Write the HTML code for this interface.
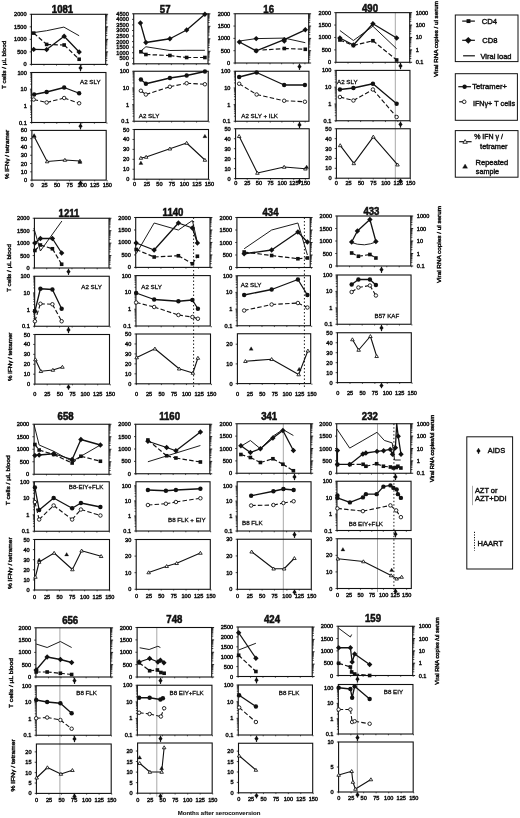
<!DOCTYPE html><html><head><meta charset="utf-8"><style>html,body{margin:0;padding:0;background:#fff;width:520px;height:818px;overflow:hidden}svg{display:block;filter:blur(0.3px)}text{font-family:"Liberation Sans", sans-serif;fill:#111}</style></head><body>
<svg width="520" height="818" viewBox="0 0 520 818">
<rect width="520" height="818" fill="#fff"/>
<text transform="translate(62.5,13) scale(1,1.09)" font-size="9.6" text-anchor="middle" font-weight="bold" stroke="#111" stroke-width="0.5">1081</text>
<rect x="31.41" y="14.3" width="74.3" height="50.1" fill="none" stroke="#111" stroke-width="1.1"/>
<line x1="31.41" y1="64.4" x2="31.41" y2="65.7" stroke="#111" stroke-width="0.7"/>
<line x1="43.96" y1="64.4" x2="43.96" y2="65.7" stroke="#111" stroke-width="0.7"/>
<line x1="56.51" y1="64.4" x2="56.51" y2="65.7" stroke="#111" stroke-width="0.7"/>
<line x1="69.06" y1="64.4" x2="69.06" y2="65.7" stroke="#111" stroke-width="0.7"/>
<line x1="81.61" y1="64.4" x2="81.61" y2="65.7" stroke="#111" stroke-width="0.7"/>
<line x1="94.16" y1="64.4" x2="94.16" y2="65.7" stroke="#111" stroke-width="0.7"/>
<line x1="106.71" y1="64.4" x2="106.71" y2="65.7" stroke="#111" stroke-width="0.7"/>
<rect x="31.65" y="72.5" width="74.3" height="50" fill="none" stroke="#111" stroke-width="1.1"/>
<line x1="31.65" y1="122.5" x2="31.65" y2="123.8" stroke="#111" stroke-width="0.7"/>
<line x1="44.2" y1="122.5" x2="44.2" y2="123.8" stroke="#111" stroke-width="0.7"/>
<line x1="56.75" y1="122.5" x2="56.75" y2="123.8" stroke="#111" stroke-width="0.7"/>
<line x1="69.3" y1="122.5" x2="69.3" y2="123.8" stroke="#111" stroke-width="0.7"/>
<line x1="81.85" y1="122.5" x2="81.85" y2="123.8" stroke="#111" stroke-width="0.7"/>
<line x1="94.4" y1="122.5" x2="94.4" y2="123.8" stroke="#111" stroke-width="0.7"/>
<line x1="106.95" y1="122.5" x2="106.95" y2="123.8" stroke="#111" stroke-width="0.7"/>
<rect x="31.9" y="130.4" width="74.3" height="49.7" fill="none" stroke="#111" stroke-width="1.1"/>
<line x1="31.9" y1="180.1" x2="31.9" y2="181.4" stroke="#111" stroke-width="0.7"/>
<line x1="44.45" y1="180.1" x2="44.45" y2="181.4" stroke="#111" stroke-width="0.7"/>
<line x1="57" y1="180.1" x2="57" y2="181.4" stroke="#111" stroke-width="0.7"/>
<line x1="69.55" y1="180.1" x2="69.55" y2="181.4" stroke="#111" stroke-width="0.7"/>
<line x1="82.1" y1="180.1" x2="82.1" y2="181.4" stroke="#111" stroke-width="0.7"/>
<line x1="94.65" y1="180.1" x2="94.65" y2="181.4" stroke="#111" stroke-width="0.7"/>
<line x1="107.2" y1="180.1" x2="107.2" y2="181.4" stroke="#111" stroke-width="0.7"/>
<text x="26.51" y="16.32" font-size="5.6" text-anchor="end" font-weight="normal" stroke="#111" stroke-width="0.42">2000</text>
<text x="26.51" y="28.84" font-size="5.6" text-anchor="end" font-weight="normal" stroke="#111" stroke-width="0.42">1500</text>
<text x="26.51" y="41.37" font-size="5.6" text-anchor="end" font-weight="normal" stroke="#111" stroke-width="0.42">1000</text>
<text x="26.51" y="53.89" font-size="5.6" text-anchor="end" font-weight="normal" stroke="#111" stroke-width="0.42">500</text>
<text x="26.51" y="66.42" font-size="5.6" text-anchor="end" font-weight="normal" stroke="#111" stroke-width="0.42">0</text>
<line x1="29.71" y1="14.3" x2="31.41" y2="14.3" stroke="#111" stroke-width="0.8"/>
<line x1="29.71" y1="26.83" x2="31.41" y2="26.83" stroke="#111" stroke-width="0.8"/>
<line x1="29.71" y1="39.35" x2="31.41" y2="39.35" stroke="#111" stroke-width="0.8"/>
<line x1="29.71" y1="51.88" x2="31.41" y2="51.88" stroke="#111" stroke-width="0.8"/>
<line x1="29.71" y1="64.4" x2="31.41" y2="64.4" stroke="#111" stroke-width="0.8"/>
<line x1="105.71" y1="14.3" x2="108.11" y2="14.3" stroke="#111" stroke-width="0.9"/>
<line x1="105.71" y1="23.05" x2="107.31" y2="23.05" stroke="#111" stroke-width="0.8"/>
<line x1="105.71" y1="20.85" x2="107.31" y2="20.85" stroke="#111" stroke-width="0.8"/>
<line x1="105.71" y1="19.28" x2="107.31" y2="19.28" stroke="#111" stroke-width="0.8"/>
<line x1="105.71" y1="18.07" x2="107.31" y2="18.07" stroke="#111" stroke-width="0.8"/>
<line x1="105.71" y1="17.08" x2="107.31" y2="17.08" stroke="#111" stroke-width="0.8"/>
<line x1="105.71" y1="16.24" x2="107.31" y2="16.24" stroke="#111" stroke-width="0.8"/>
<line x1="105.71" y1="15.51" x2="107.31" y2="15.51" stroke="#111" stroke-width="0.8"/>
<line x1="105.71" y1="14.87" x2="107.31" y2="14.87" stroke="#111" stroke-width="0.8"/>
<line x1="105.71" y1="26.83" x2="108.11" y2="26.83" stroke="#111" stroke-width="0.9"/>
<line x1="105.71" y1="35.58" x2="107.31" y2="35.58" stroke="#111" stroke-width="0.8"/>
<line x1="105.71" y1="33.37" x2="107.31" y2="33.37" stroke="#111" stroke-width="0.8"/>
<line x1="105.71" y1="31.81" x2="107.31" y2="31.81" stroke="#111" stroke-width="0.8"/>
<line x1="105.71" y1="30.6" x2="107.31" y2="30.6" stroke="#111" stroke-width="0.8"/>
<line x1="105.71" y1="29.6" x2="107.31" y2="29.6" stroke="#111" stroke-width="0.8"/>
<line x1="105.71" y1="28.77" x2="107.31" y2="28.77" stroke="#111" stroke-width="0.8"/>
<line x1="105.71" y1="28.04" x2="107.31" y2="28.04" stroke="#111" stroke-width="0.8"/>
<line x1="105.71" y1="27.4" x2="107.31" y2="27.4" stroke="#111" stroke-width="0.8"/>
<line x1="105.71" y1="39.35" x2="108.11" y2="39.35" stroke="#111" stroke-width="0.9"/>
<line x1="105.71" y1="48.1" x2="107.31" y2="48.1" stroke="#111" stroke-width="0.8"/>
<line x1="105.71" y1="45.9" x2="107.31" y2="45.9" stroke="#111" stroke-width="0.8"/>
<line x1="105.71" y1="44.33" x2="107.31" y2="44.33" stroke="#111" stroke-width="0.8"/>
<line x1="105.71" y1="43.12" x2="107.31" y2="43.12" stroke="#111" stroke-width="0.8"/>
<line x1="105.71" y1="42.13" x2="107.31" y2="42.13" stroke="#111" stroke-width="0.8"/>
<line x1="105.71" y1="41.29" x2="107.31" y2="41.29" stroke="#111" stroke-width="0.8"/>
<line x1="105.71" y1="40.56" x2="107.31" y2="40.56" stroke="#111" stroke-width="0.8"/>
<line x1="105.71" y1="39.92" x2="107.31" y2="39.92" stroke="#111" stroke-width="0.8"/>
<line x1="105.71" y1="51.88" x2="108.11" y2="51.88" stroke="#111" stroke-width="0.9"/>
<line x1="105.71" y1="60.63" x2="107.31" y2="60.63" stroke="#111" stroke-width="0.8"/>
<line x1="105.71" y1="58.42" x2="107.31" y2="58.42" stroke="#111" stroke-width="0.8"/>
<line x1="105.71" y1="56.86" x2="107.31" y2="56.86" stroke="#111" stroke-width="0.8"/>
<line x1="105.71" y1="55.65" x2="107.31" y2="55.65" stroke="#111" stroke-width="0.8"/>
<line x1="105.71" y1="54.65" x2="107.31" y2="54.65" stroke="#111" stroke-width="0.8"/>
<line x1="105.71" y1="53.82" x2="107.31" y2="53.82" stroke="#111" stroke-width="0.8"/>
<line x1="105.71" y1="53.09" x2="107.31" y2="53.09" stroke="#111" stroke-width="0.8"/>
<line x1="105.71" y1="52.45" x2="107.31" y2="52.45" stroke="#111" stroke-width="0.8"/>
<line x1="105.71" y1="64.4" x2="108.11" y2="64.4" stroke="#111" stroke-width="0.9"/>
<text x="26.75" y="74.52" font-size="5.6" text-anchor="end" font-weight="normal" stroke="#111" stroke-width="0.42">100</text>
<text x="26.75" y="91.18" font-size="5.6" text-anchor="end" font-weight="normal" stroke="#111" stroke-width="0.42">10</text>
<text x="26.75" y="107.85" font-size="5.6" text-anchor="end" font-weight="normal" stroke="#111" stroke-width="0.42">1</text>
<text x="26.75" y="124.52" font-size="5.6" text-anchor="end" font-weight="normal" stroke="#111" stroke-width="0.42">0.1</text>
<line x1="29.95" y1="72.5" x2="31.65" y2="72.5" stroke="#111" stroke-width="0.8"/>
<line x1="29.95" y1="89.17" x2="31.65" y2="89.17" stroke="#111" stroke-width="0.8"/>
<line x1="29.95" y1="105.83" x2="31.65" y2="105.83" stroke="#111" stroke-width="0.8"/>
<line x1="29.95" y1="122.5" x2="31.65" y2="122.5" stroke="#111" stroke-width="0.8"/>
<line x1="30.25" y1="84.15" x2="31.65" y2="84.15" stroke="#111" stroke-width="0.7"/>
<line x1="30.25" y1="81.21" x2="31.65" y2="81.21" stroke="#111" stroke-width="0.7"/>
<line x1="30.25" y1="79.13" x2="31.65" y2="79.13" stroke="#111" stroke-width="0.7"/>
<line x1="30.25" y1="77.52" x2="31.65" y2="77.52" stroke="#111" stroke-width="0.7"/>
<line x1="30.25" y1="76.2" x2="31.65" y2="76.2" stroke="#111" stroke-width="0.7"/>
<line x1="30.25" y1="75.08" x2="31.65" y2="75.08" stroke="#111" stroke-width="0.7"/>
<line x1="30.25" y1="74.12" x2="31.65" y2="74.12" stroke="#111" stroke-width="0.7"/>
<line x1="30.25" y1="73.26" x2="31.65" y2="73.26" stroke="#111" stroke-width="0.7"/>
<line x1="30.25" y1="100.82" x2="31.65" y2="100.82" stroke="#111" stroke-width="0.7"/>
<line x1="30.25" y1="97.88" x2="31.65" y2="97.88" stroke="#111" stroke-width="0.7"/>
<line x1="30.25" y1="95.8" x2="31.65" y2="95.8" stroke="#111" stroke-width="0.7"/>
<line x1="30.25" y1="94.18" x2="31.65" y2="94.18" stroke="#111" stroke-width="0.7"/>
<line x1="30.25" y1="92.86" x2="31.65" y2="92.86" stroke="#111" stroke-width="0.7"/>
<line x1="30.25" y1="91.75" x2="31.65" y2="91.75" stroke="#111" stroke-width="0.7"/>
<line x1="30.25" y1="90.78" x2="31.65" y2="90.78" stroke="#111" stroke-width="0.7"/>
<line x1="30.25" y1="89.93" x2="31.65" y2="89.93" stroke="#111" stroke-width="0.7"/>
<line x1="30.25" y1="117.48" x2="31.65" y2="117.48" stroke="#111" stroke-width="0.7"/>
<line x1="30.25" y1="114.55" x2="31.65" y2="114.55" stroke="#111" stroke-width="0.7"/>
<line x1="30.25" y1="112.47" x2="31.65" y2="112.47" stroke="#111" stroke-width="0.7"/>
<line x1="30.25" y1="110.85" x2="31.65" y2="110.85" stroke="#111" stroke-width="0.7"/>
<line x1="30.25" y1="109.53" x2="31.65" y2="109.53" stroke="#111" stroke-width="0.7"/>
<line x1="30.25" y1="108.42" x2="31.65" y2="108.42" stroke="#111" stroke-width="0.7"/>
<line x1="30.25" y1="107.45" x2="31.65" y2="107.45" stroke="#111" stroke-width="0.7"/>
<line x1="30.25" y1="106.6" x2="31.65" y2="106.6" stroke="#111" stroke-width="0.7"/>
<text x="27" y="132.42" font-size="5.6" text-anchor="end" font-weight="normal" stroke="#111" stroke-width="0.42">60</text>
<text x="27" y="140.7" font-size="5.6" text-anchor="end" font-weight="normal" stroke="#111" stroke-width="0.42">50</text>
<text x="27" y="148.98" font-size="5.6" text-anchor="end" font-weight="normal" stroke="#111" stroke-width="0.42">40</text>
<text x="27" y="157.27" font-size="5.6" text-anchor="end" font-weight="normal" stroke="#111" stroke-width="0.42">30</text>
<text x="27" y="165.55" font-size="5.6" text-anchor="end" font-weight="normal" stroke="#111" stroke-width="0.42">20</text>
<text x="27" y="173.83" font-size="5.6" text-anchor="end" font-weight="normal" stroke="#111" stroke-width="0.42">10</text>
<text x="27" y="182.12" font-size="5.6" text-anchor="end" font-weight="normal" stroke="#111" stroke-width="0.42">0</text>
<line x1="30.2" y1="130.4" x2="31.9" y2="130.4" stroke="#111" stroke-width="0.8"/>
<line x1="30.2" y1="138.68" x2="31.9" y2="138.68" stroke="#111" stroke-width="0.8"/>
<line x1="30.2" y1="146.97" x2="31.9" y2="146.97" stroke="#111" stroke-width="0.8"/>
<line x1="30.2" y1="155.25" x2="31.9" y2="155.25" stroke="#111" stroke-width="0.8"/>
<line x1="30.2" y1="163.53" x2="31.9" y2="163.53" stroke="#111" stroke-width="0.8"/>
<line x1="30.2" y1="171.82" x2="31.9" y2="171.82" stroke="#111" stroke-width="0.8"/>
<line x1="30.2" y1="180.1" x2="31.9" y2="180.1" stroke="#111" stroke-width="0.8"/>
<text x="32" y="187.02" font-size="5.6" text-anchor="middle" font-weight="normal" stroke="#111" stroke-width="0.42">0</text>
<text x="44.55" y="187.02" font-size="5.6" text-anchor="middle" font-weight="normal" stroke="#111" stroke-width="0.42">25</text>
<text x="57.1" y="187.02" font-size="5.6" text-anchor="middle" font-weight="normal" stroke="#111" stroke-width="0.42">50</text>
<text x="69.65" y="187.02" font-size="5.6" text-anchor="middle" font-weight="normal" stroke="#111" stroke-width="0.42">75</text>
<text x="82.2" y="187.02" font-size="5.6" text-anchor="middle" font-weight="normal" stroke="#111" stroke-width="0.42">100</text>
<text x="94.75" y="187.02" font-size="5.6" text-anchor="middle" font-weight="normal" stroke="#111" stroke-width="0.42">125</text>
<text x="107.3" y="187.02" font-size="5.6" text-anchor="middle" font-weight="normal" stroke="#111" stroke-width="0.42">150</text>
<polyline points="33.7,32.6 46.65,30.7 63.9,27.1 79.15,35.75" fill="none" stroke="#111" stroke-width="0.95" stroke-linejoin="round"/>
<path d="M33.7 33.1L46.65 44.4M46.65 44.4L64.15 45M64.15 45L79.15 59.25" fill="none" stroke="#111" stroke-width="1.2" stroke-dasharray="4.5,2.2"/>
<polyline points="33.7,49.4 46.65,49.6 64.15,36.25 79.15,52" fill="none" stroke="#111" stroke-width="1.3" stroke-linejoin="round"/>
<rect x="31.9" y="31.3" width="3.6" height="3.6" fill="#111"/>
<rect x="44.85" y="42.6" width="3.6" height="3.6" fill="#111"/>
<rect x="62.35" y="43.2" width="3.6" height="3.6" fill="#111"/>
<rect x="77.35" y="57.45" width="3.6" height="3.6" fill="#111"/>
<polygon points="33.7,46.7 36.4,49.4 33.7,52.1 31,49.4" fill="#111"/>
<polygon points="46.65,46.9 49.35,49.6 46.65,52.3 43.95,49.6" fill="#111"/>
<polygon points="64.15,33.55 66.85,36.25 64.15,38.95 61.45,36.25" fill="#111"/>
<polygon points="79.15,49.3 81.85,52 79.15,54.7 76.45,52" fill="#111"/>
<polyline points="34.15,94.5 46.65,92 64.15,87.5 79.15,93.25" fill="none" stroke="#111" stroke-width="1.3" stroke-linejoin="round"/>
<path d="M33.65 99.5L46.65 102.5M46.65 102.5L64.15 98M64.15 98L79.15 103.25" fill="none" stroke="#111" stroke-width="1.1" stroke-dasharray="4.5,2.2"/>
<circle cx="34.15" cy="94.5" r="2.2" fill="#111"/>
<circle cx="46.65" cy="92" r="2.2" fill="#111"/>
<circle cx="64.15" cy="87.5" r="2.2" fill="#111"/>
<circle cx="79.15" cy="93.25" r="2.2" fill="#111"/>
<circle cx="33.65" cy="99.5" r="1.75" fill="#fff" stroke="#111" stroke-width="0.9"/>
<circle cx="46.65" cy="102.5" r="1.75" fill="#fff" stroke="#111" stroke-width="0.9"/>
<circle cx="64.15" cy="98" r="1.75" fill="#fff" stroke="#111" stroke-width="0.9"/>
<circle cx="79.15" cy="103.25" r="1.75" fill="#fff" stroke="#111" stroke-width="0.9"/>
<polyline points="34.15,136.5 47.15,161.5 64.9,160 79.9,161" fill="none" stroke="#111" stroke-width="1.1" stroke-linejoin="round"/>
<polygon points="34.15,134.8 35.93,137.78 32.37,137.78" fill="#fff" stroke="#111" stroke-width="0.85" stroke-linejoin="miter"/>
<polygon points="47.15,159.8 48.93,162.78 45.37,162.78" fill="#fff" stroke="#111" stroke-width="0.85" stroke-linejoin="miter"/>
<polygon points="64.9,158.3 66.69,161.28 63.12,161.28" fill="#fff" stroke="#111" stroke-width="0.85" stroke-linejoin="miter"/>
<polygon points="79.9,159.3 81.69,162.28 78.12,162.28" fill="#fff" stroke="#111" stroke-width="0.85" stroke-linejoin="miter"/>
<polygon points="34.15,133.6 36.14,136.93 32.16,136.93" fill="#111" stroke="#111" stroke-width="0.3" stroke-linejoin="miter"/>
<polygon points="79.9,160.1 81.9,163.43 77.91,163.43" fill="#111" stroke="#111" stroke-width="0.3" stroke-linejoin="miter"/>
<line x1="80.5" y1="65.1" x2="80.5" y2="71.3" stroke="#111" stroke-width="1.2"/>
<polygon points="80.5,65.39 82.6,68.09 80.5,70.29 78.4,68.09" fill="#111"/>
<line x1="80.5" y1="123.2" x2="80.5" y2="129.4" stroke="#111" stroke-width="1.2"/>
<polygon points="80.5,123.49 82.6,126.19 80.5,128.39 78.4,126.19" fill="#111"/>
<line x1="80.5" y1="180.7" x2="80.5" y2="185.7" stroke="#111" stroke-width="1.2"/>
<polygon points="80.5,180.45 82.6,183.15 80.5,185.35 78.4,183.15" fill="#111"/>
<text x="80" y="83.6" font-size="6.2" text-anchor="start" font-weight="normal" stroke="#111" stroke-width="0.3">A2 SLY</text>
<text transform="translate(165.2,13) scale(1,1.09)" font-size="9.6" text-anchor="middle" font-weight="bold" stroke="#111" stroke-width="0.5">57</text>
<rect x="133.71" y="13.8" width="74.3" height="50" fill="none" stroke="#111" stroke-width="1.1"/>
<line x1="133.91" y1="63.8" x2="133.91" y2="65.1" stroke="#111" stroke-width="0.7"/>
<line x1="146.39" y1="63.8" x2="146.39" y2="65.1" stroke="#111" stroke-width="0.7"/>
<line x1="158.88" y1="63.8" x2="158.88" y2="65.1" stroke="#111" stroke-width="0.7"/>
<line x1="171.36" y1="63.8" x2="171.36" y2="65.1" stroke="#111" stroke-width="0.7"/>
<line x1="183.84" y1="63.8" x2="183.84" y2="65.1" stroke="#111" stroke-width="0.7"/>
<line x1="196.33" y1="63.8" x2="196.33" y2="65.1" stroke="#111" stroke-width="0.7"/>
<line x1="208.81" y1="63.8" x2="208.81" y2="65.1" stroke="#111" stroke-width="0.7"/>
<rect x="133.95" y="71.25" width="74.3" height="50" fill="none" stroke="#111" stroke-width="1.1"/>
<line x1="134.15" y1="121.25" x2="134.15" y2="122.55" stroke="#111" stroke-width="0.7"/>
<line x1="146.63" y1="121.25" x2="146.63" y2="122.55" stroke="#111" stroke-width="0.7"/>
<line x1="159.12" y1="121.25" x2="159.12" y2="122.55" stroke="#111" stroke-width="0.7"/>
<line x1="171.6" y1="121.25" x2="171.6" y2="122.55" stroke="#111" stroke-width="0.7"/>
<line x1="184.08" y1="121.25" x2="184.08" y2="122.55" stroke="#111" stroke-width="0.7"/>
<line x1="196.57" y1="121.25" x2="196.57" y2="122.55" stroke="#111" stroke-width="0.7"/>
<line x1="209.05" y1="121.25" x2="209.05" y2="122.55" stroke="#111" stroke-width="0.7"/>
<rect x="134.2" y="129.5" width="74.3" height="49.7" fill="none" stroke="#111" stroke-width="1.1"/>
<line x1="134.4" y1="179.2" x2="134.4" y2="180.5" stroke="#111" stroke-width="0.7"/>
<line x1="146.88" y1="179.2" x2="146.88" y2="180.5" stroke="#111" stroke-width="0.7"/>
<line x1="159.36" y1="179.2" x2="159.36" y2="180.5" stroke="#111" stroke-width="0.7"/>
<line x1="171.85" y1="179.2" x2="171.85" y2="180.5" stroke="#111" stroke-width="0.7"/>
<line x1="184.33" y1="179.2" x2="184.33" y2="180.5" stroke="#111" stroke-width="0.7"/>
<line x1="196.81" y1="179.2" x2="196.81" y2="180.5" stroke="#111" stroke-width="0.7"/>
<line x1="209.3" y1="179.2" x2="209.3" y2="180.5" stroke="#111" stroke-width="0.7"/>
<text x="128.81" y="15.82" font-size="5.6" text-anchor="end" font-weight="normal" stroke="#111" stroke-width="0.42">4500</text>
<text x="128.81" y="21.37" font-size="5.6" text-anchor="end" font-weight="normal" stroke="#111" stroke-width="0.42">4000</text>
<text x="128.81" y="26.93" font-size="5.6" text-anchor="end" font-weight="normal" stroke="#111" stroke-width="0.42">3500</text>
<text x="128.81" y="32.48" font-size="5.6" text-anchor="end" font-weight="normal" stroke="#111" stroke-width="0.42">3000</text>
<text x="128.81" y="38.04" font-size="5.6" text-anchor="end" font-weight="normal" stroke="#111" stroke-width="0.42">2500</text>
<text x="128.81" y="43.59" font-size="5.6" text-anchor="end" font-weight="normal" stroke="#111" stroke-width="0.42">2000</text>
<text x="128.81" y="49.15" font-size="5.6" text-anchor="end" font-weight="normal" stroke="#111" stroke-width="0.42">1500</text>
<text x="128.81" y="54.7" font-size="5.6" text-anchor="end" font-weight="normal" stroke="#111" stroke-width="0.42">1000</text>
<text x="128.81" y="60.26" font-size="5.6" text-anchor="end" font-weight="normal" stroke="#111" stroke-width="0.42">500</text>
<text x="128.81" y="65.82" font-size="5.6" text-anchor="end" font-weight="normal" stroke="#111" stroke-width="0.42">0</text>
<line x1="132.01" y1="13.8" x2="133.71" y2="13.8" stroke="#111" stroke-width="0.8"/>
<line x1="132.01" y1="19.36" x2="133.71" y2="19.36" stroke="#111" stroke-width="0.8"/>
<line x1="132.01" y1="24.91" x2="133.71" y2="24.91" stroke="#111" stroke-width="0.8"/>
<line x1="132.01" y1="30.47" x2="133.71" y2="30.47" stroke="#111" stroke-width="0.8"/>
<line x1="132.01" y1="36.02" x2="133.71" y2="36.02" stroke="#111" stroke-width="0.8"/>
<line x1="132.01" y1="41.58" x2="133.71" y2="41.58" stroke="#111" stroke-width="0.8"/>
<line x1="132.01" y1="47.13" x2="133.71" y2="47.13" stroke="#111" stroke-width="0.8"/>
<line x1="132.01" y1="52.69" x2="133.71" y2="52.69" stroke="#111" stroke-width="0.8"/>
<line x1="132.01" y1="58.24" x2="133.71" y2="58.24" stroke="#111" stroke-width="0.8"/>
<line x1="132.01" y1="63.8" x2="133.71" y2="63.8" stroke="#111" stroke-width="0.8"/>
<line x1="208.01" y1="13.8" x2="210.41" y2="13.8" stroke="#111" stroke-width="0.9"/>
<line x1="208.01" y1="22.54" x2="209.61" y2="22.54" stroke="#111" stroke-width="0.8"/>
<line x1="208.01" y1="20.34" x2="209.61" y2="20.34" stroke="#111" stroke-width="0.8"/>
<line x1="208.01" y1="18.77" x2="209.61" y2="18.77" stroke="#111" stroke-width="0.8"/>
<line x1="208.01" y1="17.56" x2="209.61" y2="17.56" stroke="#111" stroke-width="0.8"/>
<line x1="208.01" y1="16.57" x2="209.61" y2="16.57" stroke="#111" stroke-width="0.8"/>
<line x1="208.01" y1="15.74" x2="209.61" y2="15.74" stroke="#111" stroke-width="0.8"/>
<line x1="208.01" y1="15.01" x2="209.61" y2="15.01" stroke="#111" stroke-width="0.8"/>
<line x1="208.01" y1="14.37" x2="209.61" y2="14.37" stroke="#111" stroke-width="0.8"/>
<line x1="208.01" y1="26.3" x2="210.41" y2="26.3" stroke="#111" stroke-width="0.9"/>
<line x1="208.01" y1="35.04" x2="209.61" y2="35.04" stroke="#111" stroke-width="0.8"/>
<line x1="208.01" y1="32.84" x2="209.61" y2="32.84" stroke="#111" stroke-width="0.8"/>
<line x1="208.01" y1="31.27" x2="209.61" y2="31.27" stroke="#111" stroke-width="0.8"/>
<line x1="208.01" y1="30.06" x2="209.61" y2="30.06" stroke="#111" stroke-width="0.8"/>
<line x1="208.01" y1="29.07" x2="209.61" y2="29.07" stroke="#111" stroke-width="0.8"/>
<line x1="208.01" y1="28.24" x2="209.61" y2="28.24" stroke="#111" stroke-width="0.8"/>
<line x1="208.01" y1="27.51" x2="209.61" y2="27.51" stroke="#111" stroke-width="0.8"/>
<line x1="208.01" y1="26.87" x2="209.61" y2="26.87" stroke="#111" stroke-width="0.8"/>
<line x1="208.01" y1="38.8" x2="210.41" y2="38.8" stroke="#111" stroke-width="0.9"/>
<line x1="208.01" y1="47.54" x2="209.61" y2="47.54" stroke="#111" stroke-width="0.8"/>
<line x1="208.01" y1="45.34" x2="209.61" y2="45.34" stroke="#111" stroke-width="0.8"/>
<line x1="208.01" y1="43.77" x2="209.61" y2="43.77" stroke="#111" stroke-width="0.8"/>
<line x1="208.01" y1="42.56" x2="209.61" y2="42.56" stroke="#111" stroke-width="0.8"/>
<line x1="208.01" y1="41.57" x2="209.61" y2="41.57" stroke="#111" stroke-width="0.8"/>
<line x1="208.01" y1="40.74" x2="209.61" y2="40.74" stroke="#111" stroke-width="0.8"/>
<line x1="208.01" y1="40.01" x2="209.61" y2="40.01" stroke="#111" stroke-width="0.8"/>
<line x1="208.01" y1="39.37" x2="209.61" y2="39.37" stroke="#111" stroke-width="0.8"/>
<line x1="208.01" y1="51.3" x2="210.41" y2="51.3" stroke="#111" stroke-width="0.9"/>
<line x1="208.01" y1="60.04" x2="209.61" y2="60.04" stroke="#111" stroke-width="0.8"/>
<line x1="208.01" y1="57.84" x2="209.61" y2="57.84" stroke="#111" stroke-width="0.8"/>
<line x1="208.01" y1="56.27" x2="209.61" y2="56.27" stroke="#111" stroke-width="0.8"/>
<line x1="208.01" y1="55.06" x2="209.61" y2="55.06" stroke="#111" stroke-width="0.8"/>
<line x1="208.01" y1="54.07" x2="209.61" y2="54.07" stroke="#111" stroke-width="0.8"/>
<line x1="208.01" y1="53.24" x2="209.61" y2="53.24" stroke="#111" stroke-width="0.8"/>
<line x1="208.01" y1="52.51" x2="209.61" y2="52.51" stroke="#111" stroke-width="0.8"/>
<line x1="208.01" y1="51.87" x2="209.61" y2="51.87" stroke="#111" stroke-width="0.8"/>
<line x1="208.01" y1="63.8" x2="210.41" y2="63.8" stroke="#111" stroke-width="0.9"/>
<text x="129.05" y="73.27" font-size="5.6" text-anchor="end" font-weight="normal" stroke="#111" stroke-width="0.42">100</text>
<text x="129.05" y="89.93" font-size="5.6" text-anchor="end" font-weight="normal" stroke="#111" stroke-width="0.42">10</text>
<text x="129.05" y="106.6" font-size="5.6" text-anchor="end" font-weight="normal" stroke="#111" stroke-width="0.42">1</text>
<text x="129.05" y="123.27" font-size="5.6" text-anchor="end" font-weight="normal" stroke="#111" stroke-width="0.42">0.1</text>
<line x1="132.25" y1="71.25" x2="133.95" y2="71.25" stroke="#111" stroke-width="0.8"/>
<line x1="132.25" y1="87.92" x2="133.95" y2="87.92" stroke="#111" stroke-width="0.8"/>
<line x1="132.25" y1="104.58" x2="133.95" y2="104.58" stroke="#111" stroke-width="0.8"/>
<line x1="132.25" y1="121.25" x2="133.95" y2="121.25" stroke="#111" stroke-width="0.8"/>
<line x1="132.55" y1="82.9" x2="133.95" y2="82.9" stroke="#111" stroke-width="0.7"/>
<line x1="132.55" y1="79.96" x2="133.95" y2="79.96" stroke="#111" stroke-width="0.7"/>
<line x1="132.55" y1="77.88" x2="133.95" y2="77.88" stroke="#111" stroke-width="0.7"/>
<line x1="132.55" y1="76.27" x2="133.95" y2="76.27" stroke="#111" stroke-width="0.7"/>
<line x1="132.55" y1="74.95" x2="133.95" y2="74.95" stroke="#111" stroke-width="0.7"/>
<line x1="132.55" y1="73.83" x2="133.95" y2="73.83" stroke="#111" stroke-width="0.7"/>
<line x1="132.55" y1="72.87" x2="133.95" y2="72.87" stroke="#111" stroke-width="0.7"/>
<line x1="132.55" y1="72.01" x2="133.95" y2="72.01" stroke="#111" stroke-width="0.7"/>
<line x1="132.55" y1="99.57" x2="133.95" y2="99.57" stroke="#111" stroke-width="0.7"/>
<line x1="132.55" y1="96.63" x2="133.95" y2="96.63" stroke="#111" stroke-width="0.7"/>
<line x1="132.55" y1="94.55" x2="133.95" y2="94.55" stroke="#111" stroke-width="0.7"/>
<line x1="132.55" y1="92.93" x2="133.95" y2="92.93" stroke="#111" stroke-width="0.7"/>
<line x1="132.55" y1="91.61" x2="133.95" y2="91.61" stroke="#111" stroke-width="0.7"/>
<line x1="132.55" y1="90.5" x2="133.95" y2="90.5" stroke="#111" stroke-width="0.7"/>
<line x1="132.55" y1="89.53" x2="133.95" y2="89.53" stroke="#111" stroke-width="0.7"/>
<line x1="132.55" y1="88.68" x2="133.95" y2="88.68" stroke="#111" stroke-width="0.7"/>
<line x1="132.55" y1="116.23" x2="133.95" y2="116.23" stroke="#111" stroke-width="0.7"/>
<line x1="132.55" y1="113.3" x2="133.95" y2="113.3" stroke="#111" stroke-width="0.7"/>
<line x1="132.55" y1="111.22" x2="133.95" y2="111.22" stroke="#111" stroke-width="0.7"/>
<line x1="132.55" y1="109.6" x2="133.95" y2="109.6" stroke="#111" stroke-width="0.7"/>
<line x1="132.55" y1="108.28" x2="133.95" y2="108.28" stroke="#111" stroke-width="0.7"/>
<line x1="132.55" y1="107.17" x2="133.95" y2="107.17" stroke="#111" stroke-width="0.7"/>
<line x1="132.55" y1="106.2" x2="133.95" y2="106.2" stroke="#111" stroke-width="0.7"/>
<line x1="132.55" y1="105.35" x2="133.95" y2="105.35" stroke="#111" stroke-width="0.7"/>
<text x="129.3" y="131.52" font-size="5.6" text-anchor="end" font-weight="normal" stroke="#111" stroke-width="0.42">50</text>
<text x="129.3" y="141.46" font-size="5.6" text-anchor="end" font-weight="normal" stroke="#111" stroke-width="0.42">40</text>
<text x="129.3" y="151.4" font-size="5.6" text-anchor="end" font-weight="normal" stroke="#111" stroke-width="0.42">30</text>
<text x="129.3" y="161.34" font-size="5.6" text-anchor="end" font-weight="normal" stroke="#111" stroke-width="0.42">20</text>
<text x="129.3" y="171.28" font-size="5.6" text-anchor="end" font-weight="normal" stroke="#111" stroke-width="0.42">10</text>
<text x="129.3" y="181.22" font-size="5.6" text-anchor="end" font-weight="normal" stroke="#111" stroke-width="0.42">0</text>
<line x1="132.5" y1="129.5" x2="134.2" y2="129.5" stroke="#111" stroke-width="0.8"/>
<line x1="132.5" y1="139.44" x2="134.2" y2="139.44" stroke="#111" stroke-width="0.8"/>
<line x1="132.5" y1="149.38" x2="134.2" y2="149.38" stroke="#111" stroke-width="0.8"/>
<line x1="132.5" y1="159.32" x2="134.2" y2="159.32" stroke="#111" stroke-width="0.8"/>
<line x1="132.5" y1="169.26" x2="134.2" y2="169.26" stroke="#111" stroke-width="0.8"/>
<line x1="132.5" y1="179.2" x2="134.2" y2="179.2" stroke="#111" stroke-width="0.8"/>
<text x="134.5" y="186.02" font-size="5.6" text-anchor="middle" font-weight="normal" stroke="#111" stroke-width="0.42">0</text>
<text x="146.98" y="186.02" font-size="5.6" text-anchor="middle" font-weight="normal" stroke="#111" stroke-width="0.42">25</text>
<text x="159.47" y="186.02" font-size="5.6" text-anchor="middle" font-weight="normal" stroke="#111" stroke-width="0.42">50</text>
<text x="171.95" y="186.02" font-size="5.6" text-anchor="middle" font-weight="normal" stroke="#111" stroke-width="0.42">75</text>
<text x="184.43" y="186.02" font-size="5.6" text-anchor="middle" font-weight="normal" stroke="#111" stroke-width="0.42">100</text>
<text x="196.92" y="186.02" font-size="5.6" text-anchor="middle" font-weight="normal" stroke="#111" stroke-width="0.42">125</text>
<text x="209.4" y="186.02" font-size="5.6" text-anchor="middle" font-weight="normal" stroke="#111" stroke-width="0.42">150</text>
<polyline points="140.9,51 145.9,46.75 169.9,50.5 186.65,50.3 204.9,50.3" fill="none" stroke="#111" stroke-width="0.95" stroke-linejoin="round"/>
<path d="M140.9 51.75L145.9 54.5M145.9 54.5L169.9 55.5M169.9 55.5L186.65 57.5M186.65 57.5L204.9 57.5" fill="none" stroke="#111" stroke-width="1.2" stroke-dasharray="4.5,2.2"/>
<polyline points="140.4,23 145.9,42.5 169.9,38.75 186.65,30 204.9,14.25" fill="none" stroke="#111" stroke-width="1.3" stroke-linejoin="round"/>
<rect x="139.1" y="49.95" width="3.6" height="3.6" fill="#111"/>
<rect x="144.1" y="52.7" width="3.6" height="3.6" fill="#111"/>
<rect x="168.1" y="53.7" width="3.6" height="3.6" fill="#111"/>
<rect x="184.85" y="55.7" width="3.6" height="3.6" fill="#111"/>
<rect x="203.1" y="55.7" width="3.6" height="3.6" fill="#111"/>
<polygon points="140.4,20.3 143.1,23 140.4,25.7 137.7,23" fill="#111"/>
<polygon points="145.9,39.8 148.6,42.5 145.9,45.2 143.2,42.5" fill="#111"/>
<polygon points="169.9,36.05 172.6,38.75 169.9,41.45 167.2,38.75" fill="#111"/>
<polygon points="186.65,27.3 189.35,30 186.65,32.7 183.95,30" fill="#111"/>
<polygon points="204.9,11.55 207.6,14.25 204.9,16.95 202.2,14.25" fill="#111"/>
<polyline points="140.9,79.5 145.9,83.75 169.9,78 186.65,75.5 204.9,71.5" fill="none" stroke="#111" stroke-width="1.3" stroke-linejoin="round"/>
<path d="M140.9 90.75L145.9 94.5M145.9 94.5L169.9 86.75M169.9 86.75L186.65 83.25M186.65 83.25L204.9 84.25" fill="none" stroke="#111" stroke-width="1.1" stroke-dasharray="4.5,2.2"/>
<circle cx="140.9" cy="79.5" r="2.2" fill="#111"/>
<circle cx="145.9" cy="83.75" r="2.2" fill="#111"/>
<circle cx="169.9" cy="78" r="2.2" fill="#111"/>
<circle cx="186.65" cy="75.5" r="2.2" fill="#111"/>
<circle cx="204.9" cy="71.5" r="2.2" fill="#111"/>
<circle cx="140.9" cy="90.75" r="1.75" fill="#fff" stroke="#111" stroke-width="0.9"/>
<circle cx="145.9" cy="94.5" r="1.75" fill="#fff" stroke="#111" stroke-width="0.9"/>
<circle cx="169.9" cy="86.75" r="1.75" fill="#fff" stroke="#111" stroke-width="0.9"/>
<circle cx="186.65" cy="83.25" r="1.75" fill="#fff" stroke="#111" stroke-width="0.9"/>
<circle cx="204.9" cy="84.25" r="1.75" fill="#fff" stroke="#111" stroke-width="0.9"/>
<polyline points="140.9,158 146.15,157 169.9,148.75 186.65,143 204.9,160" fill="none" stroke="#111" stroke-width="1.1" stroke-linejoin="round"/>
<polygon points="140.9,156.3 142.69,159.28 139.12,159.28" fill="#fff" stroke="#111" stroke-width="0.85" stroke-linejoin="miter"/>
<polygon points="146.15,155.3 147.94,158.28 144.37,158.28" fill="#fff" stroke="#111" stroke-width="0.85" stroke-linejoin="miter"/>
<polygon points="169.9,147.05 171.69,150.03 168.12,150.03" fill="#fff" stroke="#111" stroke-width="0.85" stroke-linejoin="miter"/>
<polygon points="186.65,141.3 188.44,144.28 184.87,144.28" fill="#fff" stroke="#111" stroke-width="0.85" stroke-linejoin="miter"/>
<polygon points="204.9,158.3 206.69,161.28 203.12,161.28" fill="#fff" stroke="#111" stroke-width="0.85" stroke-linejoin="miter"/>
<polygon points="140.9,161.1 142.9,164.43 138.91,164.43" fill="#111" stroke="#111" stroke-width="0.3" stroke-linejoin="miter"/>
<polygon points="204.9,134.35 206.9,137.68 202.91,137.68" fill="#111" stroke="#111" stroke-width="0.3" stroke-linejoin="miter"/>
<text x="138.8" y="117.5" font-size="6.2" text-anchor="start" font-weight="normal" stroke="#111" stroke-width="0.3">A2 SLY</text>
<text transform="translate(268.7,12.6) scale(1,1.09)" font-size="9.6" text-anchor="middle" font-weight="bold" stroke="#111" stroke-width="0.5">16</text>
<rect x="235.11" y="13.75" width="73.6" height="49.25" fill="none" stroke="#111" stroke-width="1.1"/>
<line x1="235.11" y1="63" x2="235.11" y2="64.3" stroke="#111" stroke-width="0.7"/>
<line x1="246.74" y1="63" x2="246.74" y2="64.3" stroke="#111" stroke-width="0.7"/>
<line x1="258.38" y1="63" x2="258.38" y2="64.3" stroke="#111" stroke-width="0.7"/>
<line x1="270.01" y1="63" x2="270.01" y2="64.3" stroke="#111" stroke-width="0.7"/>
<line x1="281.64" y1="63" x2="281.64" y2="64.3" stroke="#111" stroke-width="0.7"/>
<line x1="293.28" y1="63" x2="293.28" y2="64.3" stroke="#111" stroke-width="0.7"/>
<line x1="304.91" y1="63" x2="304.91" y2="64.3" stroke="#111" stroke-width="0.7"/>
<rect x="235.35" y="71.25" width="73.6" height="50" fill="none" stroke="#111" stroke-width="1.1"/>
<line x1="235.35" y1="121.25" x2="235.35" y2="122.55" stroke="#111" stroke-width="0.7"/>
<line x1="246.99" y1="121.25" x2="246.99" y2="122.55" stroke="#111" stroke-width="0.7"/>
<line x1="258.62" y1="121.25" x2="258.62" y2="122.55" stroke="#111" stroke-width="0.7"/>
<line x1="270.25" y1="121.25" x2="270.25" y2="122.55" stroke="#111" stroke-width="0.7"/>
<line x1="281.89" y1="121.25" x2="281.89" y2="122.55" stroke="#111" stroke-width="0.7"/>
<line x1="293.52" y1="121.25" x2="293.52" y2="122.55" stroke="#111" stroke-width="0.7"/>
<line x1="305.15" y1="121.25" x2="305.15" y2="122.55" stroke="#111" stroke-width="0.7"/>
<rect x="235.6" y="128.75" width="73.6" height="49.85" fill="none" stroke="#111" stroke-width="1.1"/>
<line x1="235.6" y1="178.6" x2="235.6" y2="179.9" stroke="#111" stroke-width="0.7"/>
<line x1="247.23" y1="178.6" x2="247.23" y2="179.9" stroke="#111" stroke-width="0.7"/>
<line x1="258.86" y1="178.6" x2="258.86" y2="179.9" stroke="#111" stroke-width="0.7"/>
<line x1="270.5" y1="178.6" x2="270.5" y2="179.9" stroke="#111" stroke-width="0.7"/>
<line x1="282.13" y1="178.6" x2="282.13" y2="179.9" stroke="#111" stroke-width="0.7"/>
<line x1="293.76" y1="178.6" x2="293.76" y2="179.9" stroke="#111" stroke-width="0.7"/>
<line x1="305.4" y1="178.6" x2="305.4" y2="179.9" stroke="#111" stroke-width="0.7"/>
<text x="230.21" y="15.77" font-size="5.6" text-anchor="end" font-weight="normal" stroke="#111" stroke-width="0.42">2000</text>
<text x="230.21" y="28.08" font-size="5.6" text-anchor="end" font-weight="normal" stroke="#111" stroke-width="0.42">1500</text>
<text x="230.21" y="40.39" font-size="5.6" text-anchor="end" font-weight="normal" stroke="#111" stroke-width="0.42">1000</text>
<text x="230.21" y="52.7" font-size="5.6" text-anchor="end" font-weight="normal" stroke="#111" stroke-width="0.42">500</text>
<text x="230.21" y="65.02" font-size="5.6" text-anchor="end" font-weight="normal" stroke="#111" stroke-width="0.42">0</text>
<line x1="233.41" y1="13.75" x2="235.11" y2="13.75" stroke="#111" stroke-width="0.8"/>
<line x1="233.41" y1="26.06" x2="235.11" y2="26.06" stroke="#111" stroke-width="0.8"/>
<line x1="233.41" y1="38.38" x2="235.11" y2="38.38" stroke="#111" stroke-width="0.8"/>
<line x1="233.41" y1="50.69" x2="235.11" y2="50.69" stroke="#111" stroke-width="0.8"/>
<line x1="233.41" y1="63" x2="235.11" y2="63" stroke="#111" stroke-width="0.8"/>
<line x1="308.71" y1="13.75" x2="311.11" y2="13.75" stroke="#111" stroke-width="0.9"/>
<line x1="308.71" y1="22.36" x2="310.31" y2="22.36" stroke="#111" stroke-width="0.8"/>
<line x1="308.71" y1="20.19" x2="310.31" y2="20.19" stroke="#111" stroke-width="0.8"/>
<line x1="308.71" y1="18.65" x2="310.31" y2="18.65" stroke="#111" stroke-width="0.8"/>
<line x1="308.71" y1="17.46" x2="310.31" y2="17.46" stroke="#111" stroke-width="0.8"/>
<line x1="308.71" y1="16.48" x2="310.31" y2="16.48" stroke="#111" stroke-width="0.8"/>
<line x1="308.71" y1="15.66" x2="310.31" y2="15.66" stroke="#111" stroke-width="0.8"/>
<line x1="308.71" y1="14.94" x2="310.31" y2="14.94" stroke="#111" stroke-width="0.8"/>
<line x1="308.71" y1="14.31" x2="310.31" y2="14.31" stroke="#111" stroke-width="0.8"/>
<line x1="308.71" y1="26.06" x2="311.11" y2="26.06" stroke="#111" stroke-width="0.9"/>
<line x1="308.71" y1="34.67" x2="310.31" y2="34.67" stroke="#111" stroke-width="0.8"/>
<line x1="308.71" y1="32.5" x2="310.31" y2="32.5" stroke="#111" stroke-width="0.8"/>
<line x1="308.71" y1="30.96" x2="310.31" y2="30.96" stroke="#111" stroke-width="0.8"/>
<line x1="308.71" y1="29.77" x2="310.31" y2="29.77" stroke="#111" stroke-width="0.8"/>
<line x1="308.71" y1="28.79" x2="310.31" y2="28.79" stroke="#111" stroke-width="0.8"/>
<line x1="308.71" y1="27.97" x2="310.31" y2="27.97" stroke="#111" stroke-width="0.8"/>
<line x1="308.71" y1="27.26" x2="310.31" y2="27.26" stroke="#111" stroke-width="0.8"/>
<line x1="308.71" y1="26.63" x2="310.31" y2="26.63" stroke="#111" stroke-width="0.8"/>
<line x1="308.71" y1="38.38" x2="311.11" y2="38.38" stroke="#111" stroke-width="0.9"/>
<line x1="308.71" y1="46.98" x2="310.31" y2="46.98" stroke="#111" stroke-width="0.8"/>
<line x1="308.71" y1="44.81" x2="310.31" y2="44.81" stroke="#111" stroke-width="0.8"/>
<line x1="308.71" y1="43.27" x2="310.31" y2="43.27" stroke="#111" stroke-width="0.8"/>
<line x1="308.71" y1="42.08" x2="310.31" y2="42.08" stroke="#111" stroke-width="0.8"/>
<line x1="308.71" y1="41.11" x2="310.31" y2="41.11" stroke="#111" stroke-width="0.8"/>
<line x1="308.71" y1="40.28" x2="310.31" y2="40.28" stroke="#111" stroke-width="0.8"/>
<line x1="308.71" y1="39.57" x2="310.31" y2="39.57" stroke="#111" stroke-width="0.8"/>
<line x1="308.71" y1="38.94" x2="310.31" y2="38.94" stroke="#111" stroke-width="0.8"/>
<line x1="308.71" y1="50.69" x2="311.11" y2="50.69" stroke="#111" stroke-width="0.9"/>
<line x1="308.71" y1="59.29" x2="310.31" y2="59.29" stroke="#111" stroke-width="0.8"/>
<line x1="308.71" y1="57.13" x2="310.31" y2="57.13" stroke="#111" stroke-width="0.8"/>
<line x1="308.71" y1="55.59" x2="310.31" y2="55.59" stroke="#111" stroke-width="0.8"/>
<line x1="308.71" y1="54.39" x2="310.31" y2="54.39" stroke="#111" stroke-width="0.8"/>
<line x1="308.71" y1="53.42" x2="310.31" y2="53.42" stroke="#111" stroke-width="0.8"/>
<line x1="308.71" y1="52.59" x2="310.31" y2="52.59" stroke="#111" stroke-width="0.8"/>
<line x1="308.71" y1="51.88" x2="310.31" y2="51.88" stroke="#111" stroke-width="0.8"/>
<line x1="308.71" y1="51.25" x2="310.31" y2="51.25" stroke="#111" stroke-width="0.8"/>
<line x1="308.71" y1="63" x2="311.11" y2="63" stroke="#111" stroke-width="0.9"/>
<text x="230.45" y="73.27" font-size="5.6" text-anchor="end" font-weight="normal" stroke="#111" stroke-width="0.42">100</text>
<text x="230.45" y="89.93" font-size="5.6" text-anchor="end" font-weight="normal" stroke="#111" stroke-width="0.42">10</text>
<text x="230.45" y="106.6" font-size="5.6" text-anchor="end" font-weight="normal" stroke="#111" stroke-width="0.42">1</text>
<text x="230.45" y="123.27" font-size="5.6" text-anchor="end" font-weight="normal" stroke="#111" stroke-width="0.42">0.1</text>
<line x1="233.65" y1="71.25" x2="235.35" y2="71.25" stroke="#111" stroke-width="0.8"/>
<line x1="233.65" y1="87.92" x2="235.35" y2="87.92" stroke="#111" stroke-width="0.8"/>
<line x1="233.65" y1="104.58" x2="235.35" y2="104.58" stroke="#111" stroke-width="0.8"/>
<line x1="233.65" y1="121.25" x2="235.35" y2="121.25" stroke="#111" stroke-width="0.8"/>
<line x1="233.95" y1="82.9" x2="235.35" y2="82.9" stroke="#111" stroke-width="0.7"/>
<line x1="233.95" y1="79.96" x2="235.35" y2="79.96" stroke="#111" stroke-width="0.7"/>
<line x1="233.95" y1="77.88" x2="235.35" y2="77.88" stroke="#111" stroke-width="0.7"/>
<line x1="233.95" y1="76.27" x2="235.35" y2="76.27" stroke="#111" stroke-width="0.7"/>
<line x1="233.95" y1="74.95" x2="235.35" y2="74.95" stroke="#111" stroke-width="0.7"/>
<line x1="233.95" y1="73.83" x2="235.35" y2="73.83" stroke="#111" stroke-width="0.7"/>
<line x1="233.95" y1="72.87" x2="235.35" y2="72.87" stroke="#111" stroke-width="0.7"/>
<line x1="233.95" y1="72.01" x2="235.35" y2="72.01" stroke="#111" stroke-width="0.7"/>
<line x1="233.95" y1="99.57" x2="235.35" y2="99.57" stroke="#111" stroke-width="0.7"/>
<line x1="233.95" y1="96.63" x2="235.35" y2="96.63" stroke="#111" stroke-width="0.7"/>
<line x1="233.95" y1="94.55" x2="235.35" y2="94.55" stroke="#111" stroke-width="0.7"/>
<line x1="233.95" y1="92.93" x2="235.35" y2="92.93" stroke="#111" stroke-width="0.7"/>
<line x1="233.95" y1="91.61" x2="235.35" y2="91.61" stroke="#111" stroke-width="0.7"/>
<line x1="233.95" y1="90.5" x2="235.35" y2="90.5" stroke="#111" stroke-width="0.7"/>
<line x1="233.95" y1="89.53" x2="235.35" y2="89.53" stroke="#111" stroke-width="0.7"/>
<line x1="233.95" y1="88.68" x2="235.35" y2="88.68" stroke="#111" stroke-width="0.7"/>
<line x1="233.95" y1="116.23" x2="235.35" y2="116.23" stroke="#111" stroke-width="0.7"/>
<line x1="233.95" y1="113.3" x2="235.35" y2="113.3" stroke="#111" stroke-width="0.7"/>
<line x1="233.95" y1="111.22" x2="235.35" y2="111.22" stroke="#111" stroke-width="0.7"/>
<line x1="233.95" y1="109.6" x2="235.35" y2="109.6" stroke="#111" stroke-width="0.7"/>
<line x1="233.95" y1="108.28" x2="235.35" y2="108.28" stroke="#111" stroke-width="0.7"/>
<line x1="233.95" y1="107.17" x2="235.35" y2="107.17" stroke="#111" stroke-width="0.7"/>
<line x1="233.95" y1="106.2" x2="235.35" y2="106.2" stroke="#111" stroke-width="0.7"/>
<line x1="233.95" y1="105.35" x2="235.35" y2="105.35" stroke="#111" stroke-width="0.7"/>
<text x="230.7" y="130.77" font-size="5.6" text-anchor="end" font-weight="normal" stroke="#111" stroke-width="0.42">50</text>
<text x="230.7" y="140.74" font-size="5.6" text-anchor="end" font-weight="normal" stroke="#111" stroke-width="0.42">40</text>
<text x="230.7" y="150.71" font-size="5.6" text-anchor="end" font-weight="normal" stroke="#111" stroke-width="0.42">30</text>
<text x="230.7" y="160.68" font-size="5.6" text-anchor="end" font-weight="normal" stroke="#111" stroke-width="0.42">20</text>
<text x="230.7" y="170.65" font-size="5.6" text-anchor="end" font-weight="normal" stroke="#111" stroke-width="0.42">10</text>
<text x="230.7" y="180.62" font-size="5.6" text-anchor="end" font-weight="normal" stroke="#111" stroke-width="0.42">0</text>
<line x1="233.9" y1="128.75" x2="235.6" y2="128.75" stroke="#111" stroke-width="0.8"/>
<line x1="233.9" y1="138.72" x2="235.6" y2="138.72" stroke="#111" stroke-width="0.8"/>
<line x1="233.9" y1="148.69" x2="235.6" y2="148.69" stroke="#111" stroke-width="0.8"/>
<line x1="233.9" y1="158.66" x2="235.6" y2="158.66" stroke="#111" stroke-width="0.8"/>
<line x1="233.9" y1="168.63" x2="235.6" y2="168.63" stroke="#111" stroke-width="0.8"/>
<line x1="233.9" y1="178.6" x2="235.6" y2="178.6" stroke="#111" stroke-width="0.8"/>
<text x="235.7" y="185.42" font-size="5.6" text-anchor="middle" font-weight="normal" stroke="#111" stroke-width="0.42">0</text>
<text x="247.33" y="185.42" font-size="5.6" text-anchor="middle" font-weight="normal" stroke="#111" stroke-width="0.42">25</text>
<text x="258.97" y="185.42" font-size="5.6" text-anchor="middle" font-weight="normal" stroke="#111" stroke-width="0.42">50</text>
<text x="270.6" y="185.42" font-size="5.6" text-anchor="middle" font-weight="normal" stroke="#111" stroke-width="0.42">75</text>
<text x="282.23" y="185.42" font-size="5.6" text-anchor="middle" font-weight="normal" stroke="#111" stroke-width="0.42">100</text>
<text x="293.87" y="185.42" font-size="5.6" text-anchor="middle" font-weight="normal" stroke="#111" stroke-width="0.42">125</text>
<text x="305.5" y="185.42" font-size="5.6" text-anchor="middle" font-weight="normal" stroke="#111" stroke-width="0.42">150</text>
<polyline points="239.4,41 256.2,38.6 284.3,38.1 305.3,42.7" fill="none" stroke="#111" stroke-width="0.95" stroke-linejoin="round"/>
<path d="M262.4 50L284.3 48.5M284.3 48.5L305.3 49.3" fill="none" stroke="#111" stroke-width="1.2" stroke-dasharray="4.5,2.2"/>
<polyline points="239.4,42 256.2,50.9 284.3,39.6 305.3,29.8" fill="none" stroke="#111" stroke-width="1.3" stroke-linejoin="round"/>
<rect x="282.5" y="46.7" width="3.6" height="3.6" fill="#111"/>
<rect x="303.5" y="47.5" width="3.6" height="3.6" fill="#111"/>
<polygon points="239.4,39.3 242.1,42 239.4,44.7 236.7,42" fill="#111"/>
<polygon points="256.2,48.2 258.9,50.9 256.2,53.6 253.5,50.9" fill="#111"/>
<polygon points="284.3,36.9 287,39.6 284.3,42.3 281.6,39.6" fill="#111"/>
<polygon points="305.3,27.1 308,29.8 305.3,32.5 302.6,29.8" fill="#111"/>
<polygon points="256.2,35.9 258.9,38.6 256.2,41.3 253.5,38.6" fill="#111"/>
<polygon points="284.3,38.3 287,41 284.3,43.7 281.6,41" fill="#111"/>
<rect x="254.4" y="48.8" width="3.6" height="3.6" fill="#111"/>
<polyline points="239.15,77 256.65,72.5 284.15,85 304.9,85" fill="none" stroke="#111" stroke-width="1.3" stroke-linejoin="round"/>
<path d="M239.15 83.75L256.65 94.5M256.65 94.5L284.15 100.75M284.15 100.75L304.9 101.75" fill="none" stroke="#111" stroke-width="1.1" stroke-dasharray="4.5,2.2"/>
<circle cx="239.15" cy="77" r="2.2" fill="#111"/>
<circle cx="256.65" cy="72.5" r="2.2" fill="#111"/>
<circle cx="284.15" cy="85" r="2.2" fill="#111"/>
<circle cx="304.9" cy="85" r="2.2" fill="#111"/>
<circle cx="239.15" cy="83.75" r="1.75" fill="#fff" stroke="#111" stroke-width="0.9"/>
<circle cx="256.65" cy="94.5" r="1.75" fill="#fff" stroke="#111" stroke-width="0.9"/>
<circle cx="284.15" cy="100.75" r="1.75" fill="#fff" stroke="#111" stroke-width="0.9"/>
<circle cx="304.9" cy="101.75" r="1.75" fill="#fff" stroke="#111" stroke-width="0.9"/>
<polyline points="239.15,136.25 257.4,173 284.15,167 305.4,168.75" fill="none" stroke="#111" stroke-width="1.1" stroke-linejoin="round"/>
<polygon points="239.15,134.55 240.94,137.53 237.37,137.53" fill="#fff" stroke="#111" stroke-width="0.85" stroke-linejoin="miter"/>
<polygon points="257.4,171.3 259.19,174.28 255.61,174.28" fill="#fff" stroke="#111" stroke-width="0.85" stroke-linejoin="miter"/>
<polygon points="284.15,165.3 285.94,168.28 282.36,168.28" fill="#fff" stroke="#111" stroke-width="0.85" stroke-linejoin="miter"/>
<polygon points="305.4,167.05 307.19,170.03 303.61,170.03" fill="#fff" stroke="#111" stroke-width="0.85" stroke-linejoin="miter"/>
<polygon points="306.65,165.1 308.64,168.43 304.65,168.43" fill="#111" stroke="#111" stroke-width="0.3" stroke-linejoin="miter"/>
<line x1="299.5" y1="63.7" x2="299.5" y2="69.9" stroke="#111" stroke-width="1.2"/>
<polygon points="299.5,63.99 301.6,66.69 299.5,68.89 297.4,66.69" fill="#111"/>
<line x1="299.5" y1="121.95" x2="299.5" y2="128.15" stroke="#111" stroke-width="1.2"/>
<polygon points="299.5,122.24 301.6,124.94 299.5,127.14 297.4,124.94" fill="#111"/>
<line x1="299.5" y1="179.2" x2="299.5" y2="184.2" stroke="#111" stroke-width="1.2"/>
<polygon points="299.5,178.95 301.6,181.65 299.5,183.85 297.4,181.65" fill="#111"/>
<text x="241.25" y="117.5" font-size="6.2" text-anchor="start" font-weight="normal" stroke="#111" stroke-width="0.3">A2 SLY + ILK</text>
<text transform="translate(370,11.6) scale(1,1.09)" font-size="9.6" text-anchor="middle" font-weight="bold" stroke="#111" stroke-width="0.5">490</text>
<line x1="395.3" y1="12.65" x2="395.3" y2="181.7" stroke="#a8a8a8" stroke-width="1"/>
<rect x="335.91" y="12.65" width="73.8" height="49.65" fill="none" stroke="#111" stroke-width="1.1"/>
<line x1="335.61" y1="62.3" x2="335.61" y2="63.6" stroke="#111" stroke-width="0.7"/>
<line x1="348.01" y1="62.3" x2="348.01" y2="63.6" stroke="#111" stroke-width="0.7"/>
<line x1="360.41" y1="62.3" x2="360.41" y2="63.6" stroke="#111" stroke-width="0.7"/>
<line x1="372.81" y1="62.3" x2="372.81" y2="63.6" stroke="#111" stroke-width="0.7"/>
<line x1="385.21" y1="62.3" x2="385.21" y2="63.6" stroke="#111" stroke-width="0.7"/>
<line x1="397.61" y1="62.3" x2="397.61" y2="63.6" stroke="#111" stroke-width="0.7"/>
<line x1="410.01" y1="62.3" x2="410.01" y2="63.6" stroke="#111" stroke-width="0.7"/>
<rect x="336.15" y="70.4" width="73.8" height="50.35" fill="none" stroke="#111" stroke-width="1.1"/>
<line x1="335.85" y1="120.75" x2="335.85" y2="122.05" stroke="#111" stroke-width="0.7"/>
<line x1="348.25" y1="120.75" x2="348.25" y2="122.05" stroke="#111" stroke-width="0.7"/>
<line x1="360.65" y1="120.75" x2="360.65" y2="122.05" stroke="#111" stroke-width="0.7"/>
<line x1="373.05" y1="120.75" x2="373.05" y2="122.05" stroke="#111" stroke-width="0.7"/>
<line x1="385.45" y1="120.75" x2="385.45" y2="122.05" stroke="#111" stroke-width="0.7"/>
<line x1="397.85" y1="120.75" x2="397.85" y2="122.05" stroke="#111" stroke-width="0.7"/>
<line x1="410.25" y1="120.75" x2="410.25" y2="122.05" stroke="#111" stroke-width="0.7"/>
<rect x="336.4" y="128.75" width="73.8" height="49.45" fill="none" stroke="#111" stroke-width="1.1"/>
<line x1="336.1" y1="178.2" x2="336.1" y2="179.5" stroke="#111" stroke-width="0.7"/>
<line x1="348.5" y1="178.2" x2="348.5" y2="179.5" stroke="#111" stroke-width="0.7"/>
<line x1="360.9" y1="178.2" x2="360.9" y2="179.5" stroke="#111" stroke-width="0.7"/>
<line x1="373.3" y1="178.2" x2="373.3" y2="179.5" stroke="#111" stroke-width="0.7"/>
<line x1="385.7" y1="178.2" x2="385.7" y2="179.5" stroke="#111" stroke-width="0.7"/>
<line x1="398.1" y1="178.2" x2="398.1" y2="179.5" stroke="#111" stroke-width="0.7"/>
<line x1="410.5" y1="178.2" x2="410.5" y2="179.5" stroke="#111" stroke-width="0.7"/>
<text x="331.01" y="14.67" font-size="5.6" text-anchor="end" font-weight="normal" stroke="#111" stroke-width="0.42">2000</text>
<text x="331.01" y="27.08" font-size="5.6" text-anchor="end" font-weight="normal" stroke="#111" stroke-width="0.42">1500</text>
<text x="331.01" y="39.49" font-size="5.6" text-anchor="end" font-weight="normal" stroke="#111" stroke-width="0.42">1000</text>
<text x="331.01" y="51.9" font-size="5.6" text-anchor="end" font-weight="normal" stroke="#111" stroke-width="0.42">500</text>
<text x="331.01" y="64.32" font-size="5.6" text-anchor="end" font-weight="normal" stroke="#111" stroke-width="0.42">0</text>
<line x1="334.21" y1="12.65" x2="335.91" y2="12.65" stroke="#111" stroke-width="0.8"/>
<line x1="334.21" y1="25.06" x2="335.91" y2="25.06" stroke="#111" stroke-width="0.8"/>
<line x1="334.21" y1="37.48" x2="335.91" y2="37.48" stroke="#111" stroke-width="0.8"/>
<line x1="334.21" y1="49.89" x2="335.91" y2="49.89" stroke="#111" stroke-width="0.8"/>
<line x1="334.21" y1="62.3" x2="335.91" y2="62.3" stroke="#111" stroke-width="0.8"/>
<line x1="409.71" y1="12.65" x2="412.11" y2="12.65" stroke="#111" stroke-width="0.9"/>
<line x1="409.71" y1="21.33" x2="411.31" y2="21.33" stroke="#111" stroke-width="0.8"/>
<line x1="409.71" y1="19.14" x2="411.31" y2="19.14" stroke="#111" stroke-width="0.8"/>
<line x1="409.71" y1="17.59" x2="411.31" y2="17.59" stroke="#111" stroke-width="0.8"/>
<line x1="409.71" y1="16.39" x2="411.31" y2="16.39" stroke="#111" stroke-width="0.8"/>
<line x1="409.71" y1="15.4" x2="411.31" y2="15.4" stroke="#111" stroke-width="0.8"/>
<line x1="409.71" y1="14.57" x2="411.31" y2="14.57" stroke="#111" stroke-width="0.8"/>
<line x1="409.71" y1="13.85" x2="411.31" y2="13.85" stroke="#111" stroke-width="0.8"/>
<line x1="409.71" y1="13.22" x2="411.31" y2="13.22" stroke="#111" stroke-width="0.8"/>
<line x1="409.71" y1="25.06" x2="412.11" y2="25.06" stroke="#111" stroke-width="0.9"/>
<line x1="409.71" y1="33.74" x2="411.31" y2="33.74" stroke="#111" stroke-width="0.8"/>
<line x1="409.71" y1="31.55" x2="411.31" y2="31.55" stroke="#111" stroke-width="0.8"/>
<line x1="409.71" y1="30" x2="411.31" y2="30" stroke="#111" stroke-width="0.8"/>
<line x1="409.71" y1="28.8" x2="411.31" y2="28.8" stroke="#111" stroke-width="0.8"/>
<line x1="409.71" y1="27.82" x2="411.31" y2="27.82" stroke="#111" stroke-width="0.8"/>
<line x1="409.71" y1="26.99" x2="411.31" y2="26.99" stroke="#111" stroke-width="0.8"/>
<line x1="409.71" y1="26.27" x2="411.31" y2="26.27" stroke="#111" stroke-width="0.8"/>
<line x1="409.71" y1="25.63" x2="411.31" y2="25.63" stroke="#111" stroke-width="0.8"/>
<line x1="409.71" y1="37.48" x2="412.11" y2="37.48" stroke="#111" stroke-width="0.9"/>
<line x1="409.71" y1="46.15" x2="411.31" y2="46.15" stroke="#111" stroke-width="0.8"/>
<line x1="409.71" y1="43.97" x2="411.31" y2="43.97" stroke="#111" stroke-width="0.8"/>
<line x1="409.71" y1="42.41" x2="411.31" y2="42.41" stroke="#111" stroke-width="0.8"/>
<line x1="409.71" y1="41.21" x2="411.31" y2="41.21" stroke="#111" stroke-width="0.8"/>
<line x1="409.71" y1="40.23" x2="411.31" y2="40.23" stroke="#111" stroke-width="0.8"/>
<line x1="409.71" y1="39.4" x2="411.31" y2="39.4" stroke="#111" stroke-width="0.8"/>
<line x1="409.71" y1="38.68" x2="411.31" y2="38.68" stroke="#111" stroke-width="0.8"/>
<line x1="409.71" y1="38.04" x2="411.31" y2="38.04" stroke="#111" stroke-width="0.8"/>
<line x1="409.71" y1="49.89" x2="412.11" y2="49.89" stroke="#111" stroke-width="0.9"/>
<line x1="409.71" y1="58.56" x2="411.31" y2="58.56" stroke="#111" stroke-width="0.8"/>
<line x1="409.71" y1="56.38" x2="411.31" y2="56.38" stroke="#111" stroke-width="0.8"/>
<line x1="409.71" y1="54.83" x2="411.31" y2="54.83" stroke="#111" stroke-width="0.8"/>
<line x1="409.71" y1="53.62" x2="411.31" y2="53.62" stroke="#111" stroke-width="0.8"/>
<line x1="409.71" y1="52.64" x2="411.31" y2="52.64" stroke="#111" stroke-width="0.8"/>
<line x1="409.71" y1="51.81" x2="411.31" y2="51.81" stroke="#111" stroke-width="0.8"/>
<line x1="409.71" y1="51.09" x2="411.31" y2="51.09" stroke="#111" stroke-width="0.8"/>
<line x1="409.71" y1="50.46" x2="411.31" y2="50.46" stroke="#111" stroke-width="0.8"/>
<line x1="409.71" y1="62.3" x2="412.11" y2="62.3" stroke="#111" stroke-width="0.9"/>
<text x="415.71" y="14.67" font-size="5.6" text-anchor="start" font-weight="normal" stroke="#111" stroke-width="0.42">1000</text>
<text x="415.71" y="27.08" font-size="5.6" text-anchor="start" font-weight="normal" stroke="#111" stroke-width="0.42">100</text>
<text x="415.71" y="39.49" font-size="5.6" text-anchor="start" font-weight="normal" stroke="#111" stroke-width="0.42">10</text>
<text x="415.71" y="51.9" font-size="5.6" text-anchor="start" font-weight="normal" stroke="#111" stroke-width="0.42">1</text>
<text x="415.71" y="64.32" font-size="5.6" text-anchor="start" font-weight="normal" stroke="#111" stroke-width="0.42">0.1</text>
<text x="331.25" y="72.42" font-size="5.6" text-anchor="end" font-weight="normal" stroke="#111" stroke-width="0.42">100</text>
<text x="331.25" y="89.2" font-size="5.6" text-anchor="end" font-weight="normal" stroke="#111" stroke-width="0.42">10</text>
<text x="331.25" y="105.98" font-size="5.6" text-anchor="end" font-weight="normal" stroke="#111" stroke-width="0.42">1</text>
<text x="331.25" y="122.77" font-size="5.6" text-anchor="end" font-weight="normal" stroke="#111" stroke-width="0.42">0.1</text>
<line x1="334.45" y1="70.4" x2="336.15" y2="70.4" stroke="#111" stroke-width="0.8"/>
<line x1="334.45" y1="87.18" x2="336.15" y2="87.18" stroke="#111" stroke-width="0.8"/>
<line x1="334.45" y1="103.97" x2="336.15" y2="103.97" stroke="#111" stroke-width="0.8"/>
<line x1="334.45" y1="120.75" x2="336.15" y2="120.75" stroke="#111" stroke-width="0.8"/>
<line x1="334.75" y1="82.13" x2="336.15" y2="82.13" stroke="#111" stroke-width="0.7"/>
<line x1="334.75" y1="79.18" x2="336.15" y2="79.18" stroke="#111" stroke-width="0.7"/>
<line x1="334.75" y1="77.08" x2="336.15" y2="77.08" stroke="#111" stroke-width="0.7"/>
<line x1="334.75" y1="75.45" x2="336.15" y2="75.45" stroke="#111" stroke-width="0.7"/>
<line x1="334.75" y1="74.12" x2="336.15" y2="74.12" stroke="#111" stroke-width="0.7"/>
<line x1="334.75" y1="73" x2="336.15" y2="73" stroke="#111" stroke-width="0.7"/>
<line x1="334.75" y1="72.03" x2="336.15" y2="72.03" stroke="#111" stroke-width="0.7"/>
<line x1="334.75" y1="71.17" x2="336.15" y2="71.17" stroke="#111" stroke-width="0.7"/>
<line x1="334.75" y1="98.91" x2="336.15" y2="98.91" stroke="#111" stroke-width="0.7"/>
<line x1="334.75" y1="95.96" x2="336.15" y2="95.96" stroke="#111" stroke-width="0.7"/>
<line x1="334.75" y1="93.86" x2="336.15" y2="93.86" stroke="#111" stroke-width="0.7"/>
<line x1="334.75" y1="92.24" x2="336.15" y2="92.24" stroke="#111" stroke-width="0.7"/>
<line x1="334.75" y1="90.91" x2="336.15" y2="90.91" stroke="#111" stroke-width="0.7"/>
<line x1="334.75" y1="89.78" x2="336.15" y2="89.78" stroke="#111" stroke-width="0.7"/>
<line x1="334.75" y1="88.81" x2="336.15" y2="88.81" stroke="#111" stroke-width="0.7"/>
<line x1="334.75" y1="87.95" x2="336.15" y2="87.95" stroke="#111" stroke-width="0.7"/>
<line x1="334.75" y1="115.7" x2="336.15" y2="115.7" stroke="#111" stroke-width="0.7"/>
<line x1="334.75" y1="112.74" x2="336.15" y2="112.74" stroke="#111" stroke-width="0.7"/>
<line x1="334.75" y1="110.65" x2="336.15" y2="110.65" stroke="#111" stroke-width="0.7"/>
<line x1="334.75" y1="109.02" x2="336.15" y2="109.02" stroke="#111" stroke-width="0.7"/>
<line x1="334.75" y1="107.69" x2="336.15" y2="107.69" stroke="#111" stroke-width="0.7"/>
<line x1="334.75" y1="106.57" x2="336.15" y2="106.57" stroke="#111" stroke-width="0.7"/>
<line x1="334.75" y1="105.59" x2="336.15" y2="105.59" stroke="#111" stroke-width="0.7"/>
<line x1="334.75" y1="104.73" x2="336.15" y2="104.73" stroke="#111" stroke-width="0.7"/>
<text x="331.5" y="130.77" font-size="5.6" text-anchor="end" font-weight="normal" stroke="#111" stroke-width="0.42">50</text>
<text x="331.5" y="140.66" font-size="5.6" text-anchor="end" font-weight="normal" stroke="#111" stroke-width="0.42">40</text>
<text x="331.5" y="150.55" font-size="5.6" text-anchor="end" font-weight="normal" stroke="#111" stroke-width="0.42">30</text>
<text x="331.5" y="160.44" font-size="5.6" text-anchor="end" font-weight="normal" stroke="#111" stroke-width="0.42">20</text>
<text x="331.5" y="170.33" font-size="5.6" text-anchor="end" font-weight="normal" stroke="#111" stroke-width="0.42">10</text>
<text x="331.5" y="180.22" font-size="5.6" text-anchor="end" font-weight="normal" stroke="#111" stroke-width="0.42">0</text>
<line x1="334.7" y1="128.75" x2="336.4" y2="128.75" stroke="#111" stroke-width="0.8"/>
<line x1="334.7" y1="138.64" x2="336.4" y2="138.64" stroke="#111" stroke-width="0.8"/>
<line x1="334.7" y1="148.53" x2="336.4" y2="148.53" stroke="#111" stroke-width="0.8"/>
<line x1="334.7" y1="158.42" x2="336.4" y2="158.42" stroke="#111" stroke-width="0.8"/>
<line x1="334.7" y1="168.31" x2="336.4" y2="168.31" stroke="#111" stroke-width="0.8"/>
<line x1="334.7" y1="178.2" x2="336.4" y2="178.2" stroke="#111" stroke-width="0.8"/>
<text x="336.2" y="184.92" font-size="5.6" text-anchor="middle" font-weight="normal" stroke="#111" stroke-width="0.42">0</text>
<text x="348.6" y="184.92" font-size="5.6" text-anchor="middle" font-weight="normal" stroke="#111" stroke-width="0.42">25</text>
<text x="361" y="184.92" font-size="5.6" text-anchor="middle" font-weight="normal" stroke="#111" stroke-width="0.42">50</text>
<text x="373.4" y="184.92" font-size="5.6" text-anchor="middle" font-weight="normal" stroke="#111" stroke-width="0.42">75</text>
<text x="385.8" y="184.92" font-size="5.6" text-anchor="middle" font-weight="normal" stroke="#111" stroke-width="0.42">100</text>
<text x="398.2" y="184.92" font-size="5.6" text-anchor="middle" font-weight="normal" stroke="#111" stroke-width="0.42">125</text>
<text x="410.6" y="184.92" font-size="5.6" text-anchor="middle" font-weight="normal" stroke="#111" stroke-width="0.42">150</text>
<polyline points="339.9,30.5 353.4,40.5 372.9,26.25 396.65,48.75" fill="none" stroke="#111" stroke-width="0.95" stroke-linejoin="round"/>
<path d="M339.9 40L353.4 45.5M353.4 45.5L372.9 40.75M372.9 40.75L396.65 60" fill="none" stroke="#111" stroke-width="1.2" stroke-dasharray="4.5,2.2"/>
<polyline points="339.9,38 353.4,45 372.9,23.75 396.65,38" fill="none" stroke="#111" stroke-width="1.3" stroke-linejoin="round"/>
<rect x="338.1" y="38.2" width="3.6" height="3.6" fill="#111"/>
<rect x="351.6" y="43.7" width="3.6" height="3.6" fill="#111"/>
<rect x="371.1" y="38.95" width="3.6" height="3.6" fill="#111"/>
<rect x="394.85" y="58.2" width="3.6" height="3.6" fill="#111"/>
<polygon points="339.9,35.3 342.6,38 339.9,40.7 337.2,38" fill="#111"/>
<polygon points="353.4,42.3 356.1,45 353.4,47.7 350.7,45" fill="#111"/>
<polygon points="372.9,21.05 375.6,23.75 372.9,26.45 370.2,23.75" fill="#111"/>
<polygon points="396.65,35.3 399.35,38 396.65,40.7 393.95,38" fill="#111"/>
<polyline points="339.9,89.5 353.4,88 372.9,83.75 396.65,103.75" fill="none" stroke="#111" stroke-width="1.3" stroke-linejoin="round"/>
<path d="M339.9 97L353.4 100.5M353.4 100.5L372.9 89.5M372.9 89.5L396.65 117" fill="none" stroke="#111" stroke-width="1.1" stroke-dasharray="4.5,2.2"/>
<circle cx="339.9" cy="89.5" r="2.2" fill="#111"/>
<circle cx="353.4" cy="88" r="2.2" fill="#111"/>
<circle cx="372.9" cy="83.75" r="2.2" fill="#111"/>
<circle cx="396.65" cy="103.75" r="2.2" fill="#111"/>
<circle cx="339.9" cy="97" r="1.75" fill="#fff" stroke="#111" stroke-width="0.9"/>
<circle cx="353.4" cy="100.5" r="1.75" fill="#fff" stroke="#111" stroke-width="0.9"/>
<circle cx="372.9" cy="89.5" r="1.75" fill="#fff" stroke="#111" stroke-width="0.9"/>
<circle cx="396.65" cy="117" r="1.75" fill="#fff" stroke="#111" stroke-width="0.9"/>
<polyline points="340.2,145.4 353.8,163.4 373.3,136.8 397.5,164.7" fill="none" stroke="#111" stroke-width="1.1" stroke-linejoin="round"/>
<polygon points="340.2,143.7 341.99,146.68 338.41,146.68" fill="#fff" stroke="#111" stroke-width="0.85" stroke-linejoin="miter"/>
<polygon points="353.8,161.7 355.58,164.68 352.01,164.68" fill="#fff" stroke="#111" stroke-width="0.85" stroke-linejoin="miter"/>
<polygon points="373.3,135.1 375.08,138.08 371.51,138.08" fill="#fff" stroke="#111" stroke-width="0.85" stroke-linejoin="miter"/>
<polygon points="397.5,163 399.29,165.97 395.71,165.97" fill="#fff" stroke="#111" stroke-width="0.85" stroke-linejoin="miter"/>
<line x1="400.5" y1="63" x2="400.5" y2="69.2" stroke="#111" stroke-width="1.2"/>
<polygon points="400.5,63.29 402.6,65.99 400.5,68.19 398.4,65.99" fill="#111"/>
<line x1="400.5" y1="121.45" x2="400.5" y2="127.65" stroke="#111" stroke-width="1.2"/>
<polygon points="400.5,121.74 402.6,124.44 400.5,126.64 398.4,124.44" fill="#111"/>
<line x1="400.5" y1="178.8" x2="400.5" y2="183.8" stroke="#111" stroke-width="1.2"/>
<polygon points="400.5,178.55 402.6,181.25 400.5,183.45 398.4,181.25" fill="#111"/>
<text x="337" y="84" font-size="6.2" text-anchor="start" font-weight="normal" stroke="#111" stroke-width="0.3">A2 SLY</text>
<text transform="translate(69,217.1) scale(1,1.09)" font-size="9.6" text-anchor="middle" font-weight="bold" stroke="#111" stroke-width="0.5">1211</text>
<rect x="34.41" y="218.25" width="74.6" height="49.75" fill="none" stroke="#111" stroke-width="1.1"/>
<line x1="34.11" y1="268" x2="34.11" y2="269.3" stroke="#111" stroke-width="0.7"/>
<line x1="46.72" y1="268" x2="46.72" y2="269.3" stroke="#111" stroke-width="0.7"/>
<line x1="59.34" y1="268" x2="59.34" y2="269.3" stroke="#111" stroke-width="0.7"/>
<line x1="71.96" y1="268" x2="71.96" y2="269.3" stroke="#111" stroke-width="0.7"/>
<line x1="84.57" y1="268" x2="84.57" y2="269.3" stroke="#111" stroke-width="0.7"/>
<line x1="97.19" y1="268" x2="97.19" y2="269.3" stroke="#111" stroke-width="0.7"/>
<line x1="109.81" y1="268" x2="109.81" y2="269.3" stroke="#111" stroke-width="0.7"/>
<rect x="34.65" y="276.25" width="74.6" height="50" fill="none" stroke="#111" stroke-width="1.1"/>
<line x1="34.35" y1="326.25" x2="34.35" y2="327.55" stroke="#111" stroke-width="0.7"/>
<line x1="46.97" y1="326.25" x2="46.97" y2="327.55" stroke="#111" stroke-width="0.7"/>
<line x1="59.59" y1="326.25" x2="59.59" y2="327.55" stroke="#111" stroke-width="0.7"/>
<line x1="72.2" y1="326.25" x2="72.2" y2="327.55" stroke="#111" stroke-width="0.7"/>
<line x1="84.82" y1="326.25" x2="84.82" y2="327.55" stroke="#111" stroke-width="0.7"/>
<line x1="97.44" y1="326.25" x2="97.44" y2="327.55" stroke="#111" stroke-width="0.7"/>
<line x1="110.05" y1="326.25" x2="110.05" y2="327.55" stroke="#111" stroke-width="0.7"/>
<rect x="34.9" y="334.5" width="74.6" height="49.6" fill="none" stroke="#111" stroke-width="1.1"/>
<line x1="34.6" y1="384.1" x2="34.6" y2="385.4" stroke="#111" stroke-width="0.7"/>
<line x1="47.21" y1="384.1" x2="47.21" y2="385.4" stroke="#111" stroke-width="0.7"/>
<line x1="59.83" y1="384.1" x2="59.83" y2="385.4" stroke="#111" stroke-width="0.7"/>
<line x1="72.45" y1="384.1" x2="72.45" y2="385.4" stroke="#111" stroke-width="0.7"/>
<line x1="85.06" y1="384.1" x2="85.06" y2="385.4" stroke="#111" stroke-width="0.7"/>
<line x1="97.68" y1="384.1" x2="97.68" y2="385.4" stroke="#111" stroke-width="0.7"/>
<line x1="110.3" y1="384.1" x2="110.3" y2="385.4" stroke="#111" stroke-width="0.7"/>
<text x="29.51" y="220.27" font-size="5.6" text-anchor="end" font-weight="normal" stroke="#111" stroke-width="0.42">2000</text>
<text x="29.51" y="232.7" font-size="5.6" text-anchor="end" font-weight="normal" stroke="#111" stroke-width="0.42">1500</text>
<text x="29.51" y="245.14" font-size="5.6" text-anchor="end" font-weight="normal" stroke="#111" stroke-width="0.42">1000</text>
<text x="29.51" y="257.58" font-size="5.6" text-anchor="end" font-weight="normal" stroke="#111" stroke-width="0.42">500</text>
<text x="29.51" y="270.02" font-size="5.6" text-anchor="end" font-weight="normal" stroke="#111" stroke-width="0.42">0</text>
<line x1="32.71" y1="218.25" x2="34.41" y2="218.25" stroke="#111" stroke-width="0.8"/>
<line x1="32.71" y1="230.69" x2="34.41" y2="230.69" stroke="#111" stroke-width="0.8"/>
<line x1="32.71" y1="243.12" x2="34.41" y2="243.12" stroke="#111" stroke-width="0.8"/>
<line x1="32.71" y1="255.56" x2="34.41" y2="255.56" stroke="#111" stroke-width="0.8"/>
<line x1="32.71" y1="268" x2="34.41" y2="268" stroke="#111" stroke-width="0.8"/>
<line x1="109.01" y1="218.25" x2="111.41" y2="218.25" stroke="#111" stroke-width="0.9"/>
<line x1="109.01" y1="226.94" x2="110.61" y2="226.94" stroke="#111" stroke-width="0.8"/>
<line x1="109.01" y1="224.75" x2="110.61" y2="224.75" stroke="#111" stroke-width="0.8"/>
<line x1="109.01" y1="223.2" x2="110.61" y2="223.2" stroke="#111" stroke-width="0.8"/>
<line x1="109.01" y1="221.99" x2="110.61" y2="221.99" stroke="#111" stroke-width="0.8"/>
<line x1="109.01" y1="221.01" x2="110.61" y2="221.01" stroke="#111" stroke-width="0.8"/>
<line x1="109.01" y1="220.18" x2="110.61" y2="220.18" stroke="#111" stroke-width="0.8"/>
<line x1="109.01" y1="219.46" x2="110.61" y2="219.46" stroke="#111" stroke-width="0.8"/>
<line x1="109.01" y1="218.82" x2="110.61" y2="218.82" stroke="#111" stroke-width="0.8"/>
<line x1="109.01" y1="230.69" x2="111.41" y2="230.69" stroke="#111" stroke-width="0.9"/>
<line x1="109.01" y1="239.38" x2="110.61" y2="239.38" stroke="#111" stroke-width="0.8"/>
<line x1="109.01" y1="237.19" x2="110.61" y2="237.19" stroke="#111" stroke-width="0.8"/>
<line x1="109.01" y1="235.64" x2="110.61" y2="235.64" stroke="#111" stroke-width="0.8"/>
<line x1="109.01" y1="234.43" x2="110.61" y2="234.43" stroke="#111" stroke-width="0.8"/>
<line x1="109.01" y1="233.45" x2="110.61" y2="233.45" stroke="#111" stroke-width="0.8"/>
<line x1="109.01" y1="232.61" x2="110.61" y2="232.61" stroke="#111" stroke-width="0.8"/>
<line x1="109.01" y1="231.89" x2="110.61" y2="231.89" stroke="#111" stroke-width="0.8"/>
<line x1="109.01" y1="231.26" x2="110.61" y2="231.26" stroke="#111" stroke-width="0.8"/>
<line x1="109.01" y1="243.12" x2="111.41" y2="243.12" stroke="#111" stroke-width="0.9"/>
<line x1="109.01" y1="251.82" x2="110.61" y2="251.82" stroke="#111" stroke-width="0.8"/>
<line x1="109.01" y1="249.63" x2="110.61" y2="249.63" stroke="#111" stroke-width="0.8"/>
<line x1="109.01" y1="248.07" x2="110.61" y2="248.07" stroke="#111" stroke-width="0.8"/>
<line x1="109.01" y1="246.87" x2="110.61" y2="246.87" stroke="#111" stroke-width="0.8"/>
<line x1="109.01" y1="245.88" x2="110.61" y2="245.88" stroke="#111" stroke-width="0.8"/>
<line x1="109.01" y1="245.05" x2="110.61" y2="245.05" stroke="#111" stroke-width="0.8"/>
<line x1="109.01" y1="244.33" x2="110.61" y2="244.33" stroke="#111" stroke-width="0.8"/>
<line x1="109.01" y1="243.69" x2="110.61" y2="243.69" stroke="#111" stroke-width="0.8"/>
<line x1="109.01" y1="255.56" x2="111.41" y2="255.56" stroke="#111" stroke-width="0.9"/>
<line x1="109.01" y1="264.26" x2="110.61" y2="264.26" stroke="#111" stroke-width="0.8"/>
<line x1="109.01" y1="262.07" x2="110.61" y2="262.07" stroke="#111" stroke-width="0.8"/>
<line x1="109.01" y1="260.51" x2="110.61" y2="260.51" stroke="#111" stroke-width="0.8"/>
<line x1="109.01" y1="259.31" x2="110.61" y2="259.31" stroke="#111" stroke-width="0.8"/>
<line x1="109.01" y1="258.32" x2="110.61" y2="258.32" stroke="#111" stroke-width="0.8"/>
<line x1="109.01" y1="257.49" x2="110.61" y2="257.49" stroke="#111" stroke-width="0.8"/>
<line x1="109.01" y1="256.77" x2="110.61" y2="256.77" stroke="#111" stroke-width="0.8"/>
<line x1="109.01" y1="256.13" x2="110.61" y2="256.13" stroke="#111" stroke-width="0.8"/>
<line x1="109.01" y1="268" x2="111.41" y2="268" stroke="#111" stroke-width="0.9"/>
<text x="29.75" y="278.27" font-size="5.6" text-anchor="end" font-weight="normal" stroke="#111" stroke-width="0.42">100</text>
<text x="29.75" y="294.93" font-size="5.6" text-anchor="end" font-weight="normal" stroke="#111" stroke-width="0.42">10</text>
<text x="29.75" y="311.6" font-size="5.6" text-anchor="end" font-weight="normal" stroke="#111" stroke-width="0.42">1</text>
<text x="29.75" y="328.27" font-size="5.6" text-anchor="end" font-weight="normal" stroke="#111" stroke-width="0.42">0.1</text>
<line x1="32.95" y1="276.25" x2="34.65" y2="276.25" stroke="#111" stroke-width="0.8"/>
<line x1="32.95" y1="292.92" x2="34.65" y2="292.92" stroke="#111" stroke-width="0.8"/>
<line x1="32.95" y1="309.58" x2="34.65" y2="309.58" stroke="#111" stroke-width="0.8"/>
<line x1="32.95" y1="326.25" x2="34.65" y2="326.25" stroke="#111" stroke-width="0.8"/>
<line x1="33.25" y1="287.9" x2="34.65" y2="287.9" stroke="#111" stroke-width="0.7"/>
<line x1="33.25" y1="284.96" x2="34.65" y2="284.96" stroke="#111" stroke-width="0.7"/>
<line x1="33.25" y1="282.88" x2="34.65" y2="282.88" stroke="#111" stroke-width="0.7"/>
<line x1="33.25" y1="281.27" x2="34.65" y2="281.27" stroke="#111" stroke-width="0.7"/>
<line x1="33.25" y1="279.95" x2="34.65" y2="279.95" stroke="#111" stroke-width="0.7"/>
<line x1="33.25" y1="278.83" x2="34.65" y2="278.83" stroke="#111" stroke-width="0.7"/>
<line x1="33.25" y1="277.87" x2="34.65" y2="277.87" stroke="#111" stroke-width="0.7"/>
<line x1="33.25" y1="277.01" x2="34.65" y2="277.01" stroke="#111" stroke-width="0.7"/>
<line x1="33.25" y1="304.57" x2="34.65" y2="304.57" stroke="#111" stroke-width="0.7"/>
<line x1="33.25" y1="301.63" x2="34.65" y2="301.63" stroke="#111" stroke-width="0.7"/>
<line x1="33.25" y1="299.55" x2="34.65" y2="299.55" stroke="#111" stroke-width="0.7"/>
<line x1="33.25" y1="297.93" x2="34.65" y2="297.93" stroke="#111" stroke-width="0.7"/>
<line x1="33.25" y1="296.61" x2="34.65" y2="296.61" stroke="#111" stroke-width="0.7"/>
<line x1="33.25" y1="295.5" x2="34.65" y2="295.5" stroke="#111" stroke-width="0.7"/>
<line x1="33.25" y1="294.53" x2="34.65" y2="294.53" stroke="#111" stroke-width="0.7"/>
<line x1="33.25" y1="293.68" x2="34.65" y2="293.68" stroke="#111" stroke-width="0.7"/>
<line x1="33.25" y1="321.23" x2="34.65" y2="321.23" stroke="#111" stroke-width="0.7"/>
<line x1="33.25" y1="318.3" x2="34.65" y2="318.3" stroke="#111" stroke-width="0.7"/>
<line x1="33.25" y1="316.22" x2="34.65" y2="316.22" stroke="#111" stroke-width="0.7"/>
<line x1="33.25" y1="314.6" x2="34.65" y2="314.6" stroke="#111" stroke-width="0.7"/>
<line x1="33.25" y1="313.28" x2="34.65" y2="313.28" stroke="#111" stroke-width="0.7"/>
<line x1="33.25" y1="312.17" x2="34.65" y2="312.17" stroke="#111" stroke-width="0.7"/>
<line x1="33.25" y1="311.2" x2="34.65" y2="311.2" stroke="#111" stroke-width="0.7"/>
<line x1="33.25" y1="310.35" x2="34.65" y2="310.35" stroke="#111" stroke-width="0.7"/>
<text x="30" y="336.52" font-size="5.6" text-anchor="end" font-weight="normal" stroke="#111" stroke-width="0.42">50</text>
<text x="30" y="346.44" font-size="5.6" text-anchor="end" font-weight="normal" stroke="#111" stroke-width="0.42">40</text>
<text x="30" y="356.36" font-size="5.6" text-anchor="end" font-weight="normal" stroke="#111" stroke-width="0.42">30</text>
<text x="30" y="366.28" font-size="5.6" text-anchor="end" font-weight="normal" stroke="#111" stroke-width="0.42">20</text>
<text x="30" y="376.2" font-size="5.6" text-anchor="end" font-weight="normal" stroke="#111" stroke-width="0.42">10</text>
<text x="30" y="386.12" font-size="5.6" text-anchor="end" font-weight="normal" stroke="#111" stroke-width="0.42">0</text>
<line x1="33.2" y1="334.5" x2="34.9" y2="334.5" stroke="#111" stroke-width="0.8"/>
<line x1="33.2" y1="344.42" x2="34.9" y2="344.42" stroke="#111" stroke-width="0.8"/>
<line x1="33.2" y1="354.34" x2="34.9" y2="354.34" stroke="#111" stroke-width="0.8"/>
<line x1="33.2" y1="364.26" x2="34.9" y2="364.26" stroke="#111" stroke-width="0.8"/>
<line x1="33.2" y1="374.18" x2="34.9" y2="374.18" stroke="#111" stroke-width="0.8"/>
<line x1="33.2" y1="384.1" x2="34.9" y2="384.1" stroke="#111" stroke-width="0.8"/>
<text x="34.7" y="396.22" font-size="5.6" text-anchor="middle" font-weight="normal" stroke="#111" stroke-width="0.42">0</text>
<text x="47.32" y="396.22" font-size="5.6" text-anchor="middle" font-weight="normal" stroke="#111" stroke-width="0.42">25</text>
<text x="59.93" y="396.22" font-size="5.6" text-anchor="middle" font-weight="normal" stroke="#111" stroke-width="0.42">50</text>
<text x="72.55" y="396.22" font-size="5.6" text-anchor="middle" font-weight="normal" stroke="#111" stroke-width="0.42">75</text>
<text x="85.17" y="396.22" font-size="5.6" text-anchor="middle" font-weight="normal" stroke="#111" stroke-width="0.42">100</text>
<text x="97.78" y="396.22" font-size="5.6" text-anchor="middle" font-weight="normal" stroke="#111" stroke-width="0.42">125</text>
<text x="110.4" y="396.22" font-size="5.6" text-anchor="middle" font-weight="normal" stroke="#111" stroke-width="0.42">150</text>
<polyline points="33.9,228 40.4,251 61.9,221" fill="none" stroke="#111" stroke-width="0.95" stroke-linejoin="round"/>
<path d="M34.9 250.5L40.4 245M40.4 245L52.4 248.75M52.4 248.75L61.65 264.25" fill="none" stroke="#111" stroke-width="1.2" stroke-dasharray="4.5,2.2"/>
<polyline points="34.9,243 40.4,238.5 52.4,238.5 61.65,253" fill="none" stroke="#111" stroke-width="1.3" stroke-linejoin="round"/>
<rect x="33.1" y="248.7" width="3.6" height="3.6" fill="#111"/>
<rect x="38.6" y="243.2" width="3.6" height="3.6" fill="#111"/>
<rect x="50.6" y="246.95" width="3.6" height="3.6" fill="#111"/>
<rect x="59.85" y="262.45" width="3.6" height="3.6" fill="#111"/>
<polygon points="34.9,240.3 37.6,243 34.9,245.7 32.2,243" fill="#111"/>
<polygon points="40.4,235.8 43.1,238.5 40.4,241.2 37.7,238.5" fill="#111"/>
<polygon points="52.4,235.8 55.1,238.5 52.4,241.2 49.7,238.5" fill="#111"/>
<polygon points="61.65,250.3 64.35,253 61.65,255.7 58.95,253" fill="#111"/>
<polyline points="34.9,311.25 40.4,288.75 52.4,289.5 61.65,308.75" fill="none" stroke="#111" stroke-width="1.3" stroke-linejoin="round"/>
<path d="M34.9 321.25L40.4 303.75M40.4 303.75L52.4 304.25M52.4 304.25L61.65 321.25" fill="none" stroke="#111" stroke-width="1.1" stroke-dasharray="4.5,2.2"/>
<circle cx="34.9" cy="311.25" r="2.2" fill="#111"/>
<circle cx="40.4" cy="288.75" r="2.2" fill="#111"/>
<circle cx="52.4" cy="289.5" r="2.2" fill="#111"/>
<circle cx="61.65" cy="308.75" r="2.2" fill="#111"/>
<circle cx="34.9" cy="321.25" r="1.75" fill="#fff" stroke="#111" stroke-width="0.9"/>
<circle cx="40.4" cy="303.75" r="1.75" fill="#fff" stroke="#111" stroke-width="0.9"/>
<circle cx="52.4" cy="304.25" r="1.75" fill="#fff" stroke="#111" stroke-width="0.9"/>
<circle cx="61.65" cy="321.25" r="1.75" fill="#fff" stroke="#111" stroke-width="0.9"/>
<polyline points="35.4,359.5 40.9,371.25 52.9,370 62.4,367" fill="none" stroke="#111" stroke-width="1.1" stroke-linejoin="round"/>
<polygon points="35.4,357.8 37.18,360.77 33.62,360.77" fill="#fff" stroke="#111" stroke-width="0.85" stroke-linejoin="miter"/>
<polygon points="40.9,369.55 42.68,372.52 39.12,372.52" fill="#fff" stroke="#111" stroke-width="0.85" stroke-linejoin="miter"/>
<polygon points="52.9,368.3 54.68,371.27 51.12,371.27" fill="#fff" stroke="#111" stroke-width="0.85" stroke-linejoin="miter"/>
<polygon points="62.4,365.3 64.19,368.27 60.62,368.27" fill="#fff" stroke="#111" stroke-width="0.85" stroke-linejoin="miter"/>
<line x1="68.5" y1="268.7" x2="68.5" y2="274.9" stroke="#111" stroke-width="1.2"/>
<polygon points="68.5,268.99 70.6,271.69 68.5,273.89 66.4,271.69" fill="#111"/>
<line x1="68.5" y1="326.95" x2="68.5" y2="333.15" stroke="#111" stroke-width="1.2"/>
<polygon points="68.5,327.24 70.6,329.94 68.5,332.14 66.4,329.94" fill="#111"/>
<line x1="68.5" y1="384.7" x2="68.5" y2="389.7" stroke="#111" stroke-width="1.2"/>
<polygon points="68.5,384.45 70.6,387.15 68.5,389.35 66.4,387.15" fill="#111"/>
<text x="81.25" y="289" font-size="6.2" text-anchor="start" font-weight="normal" stroke="#111" stroke-width="0.3">A2 SLY</text>
<text transform="translate(173,216) scale(1,1.09)" font-size="9.6" text-anchor="middle" font-weight="bold" stroke="#111" stroke-width="0.5">1140</text>
<line x1="193.6" y1="217.5" x2="193.6" y2="387.3" stroke="#111" stroke-width="1" stroke-dasharray="1.4,2.1"/>
<rect x="135.71" y="217.5" width="74.3" height="49.9" fill="none" stroke="#111" stroke-width="1.1"/>
<line x1="135.91" y1="267.4" x2="135.91" y2="268.7" stroke="#111" stroke-width="0.7"/>
<line x1="148.42" y1="267.4" x2="148.42" y2="268.7" stroke="#111" stroke-width="0.7"/>
<line x1="160.94" y1="267.4" x2="160.94" y2="268.7" stroke="#111" stroke-width="0.7"/>
<line x1="173.46" y1="267.4" x2="173.46" y2="268.7" stroke="#111" stroke-width="0.7"/>
<line x1="185.97" y1="267.4" x2="185.97" y2="268.7" stroke="#111" stroke-width="0.7"/>
<line x1="198.49" y1="267.4" x2="198.49" y2="268.7" stroke="#111" stroke-width="0.7"/>
<line x1="211.01" y1="267.4" x2="211.01" y2="268.7" stroke="#111" stroke-width="0.7"/>
<rect x="135.95" y="275.6" width="74.3" height="50.4" fill="none" stroke="#111" stroke-width="1.1"/>
<line x1="136.15" y1="326" x2="136.15" y2="327.3" stroke="#111" stroke-width="0.7"/>
<line x1="148.67" y1="326" x2="148.67" y2="327.3" stroke="#111" stroke-width="0.7"/>
<line x1="161.18" y1="326" x2="161.18" y2="327.3" stroke="#111" stroke-width="0.7"/>
<line x1="173.7" y1="326" x2="173.7" y2="327.3" stroke="#111" stroke-width="0.7"/>
<line x1="186.22" y1="326" x2="186.22" y2="327.3" stroke="#111" stroke-width="0.7"/>
<line x1="198.73" y1="326" x2="198.73" y2="327.3" stroke="#111" stroke-width="0.7"/>
<line x1="211.25" y1="326" x2="211.25" y2="327.3" stroke="#111" stroke-width="0.7"/>
<rect x="136.2" y="334" width="74.3" height="49.8" fill="none" stroke="#111" stroke-width="1.1"/>
<line x1="136.4" y1="383.8" x2="136.4" y2="385.1" stroke="#111" stroke-width="0.7"/>
<line x1="148.91" y1="383.8" x2="148.91" y2="385.1" stroke="#111" stroke-width="0.7"/>
<line x1="161.43" y1="383.8" x2="161.43" y2="385.1" stroke="#111" stroke-width="0.7"/>
<line x1="173.95" y1="383.8" x2="173.95" y2="385.1" stroke="#111" stroke-width="0.7"/>
<line x1="186.46" y1="383.8" x2="186.46" y2="385.1" stroke="#111" stroke-width="0.7"/>
<line x1="198.98" y1="383.8" x2="198.98" y2="385.1" stroke="#111" stroke-width="0.7"/>
<line x1="211.5" y1="383.8" x2="211.5" y2="385.1" stroke="#111" stroke-width="0.7"/>
<text x="130.81" y="219.52" font-size="5.6" text-anchor="end" font-weight="normal" stroke="#111" stroke-width="0.42">2000</text>
<text x="130.81" y="231.99" font-size="5.6" text-anchor="end" font-weight="normal" stroke="#111" stroke-width="0.42">1500</text>
<text x="130.81" y="244.47" font-size="5.6" text-anchor="end" font-weight="normal" stroke="#111" stroke-width="0.42">1000</text>
<text x="130.81" y="256.94" font-size="5.6" text-anchor="end" font-weight="normal" stroke="#111" stroke-width="0.42">500</text>
<text x="130.81" y="269.42" font-size="5.6" text-anchor="end" font-weight="normal" stroke="#111" stroke-width="0.42">0</text>
<line x1="134.01" y1="217.5" x2="135.71" y2="217.5" stroke="#111" stroke-width="0.8"/>
<line x1="134.01" y1="229.97" x2="135.71" y2="229.97" stroke="#111" stroke-width="0.8"/>
<line x1="134.01" y1="242.45" x2="135.71" y2="242.45" stroke="#111" stroke-width="0.8"/>
<line x1="134.01" y1="254.92" x2="135.71" y2="254.92" stroke="#111" stroke-width="0.8"/>
<line x1="134.01" y1="267.4" x2="135.71" y2="267.4" stroke="#111" stroke-width="0.8"/>
<line x1="210.01" y1="217.5" x2="212.41" y2="217.5" stroke="#111" stroke-width="0.9"/>
<line x1="210.01" y1="226.22" x2="211.61" y2="226.22" stroke="#111" stroke-width="0.8"/>
<line x1="210.01" y1="224.02" x2="211.61" y2="224.02" stroke="#111" stroke-width="0.8"/>
<line x1="210.01" y1="222.46" x2="211.61" y2="222.46" stroke="#111" stroke-width="0.8"/>
<line x1="210.01" y1="221.26" x2="211.61" y2="221.26" stroke="#111" stroke-width="0.8"/>
<line x1="210.01" y1="220.27" x2="211.61" y2="220.27" stroke="#111" stroke-width="0.8"/>
<line x1="210.01" y1="219.43" x2="211.61" y2="219.43" stroke="#111" stroke-width="0.8"/>
<line x1="210.01" y1="218.71" x2="211.61" y2="218.71" stroke="#111" stroke-width="0.8"/>
<line x1="210.01" y1="218.07" x2="211.61" y2="218.07" stroke="#111" stroke-width="0.8"/>
<line x1="210.01" y1="229.97" x2="212.41" y2="229.97" stroke="#111" stroke-width="0.9"/>
<line x1="210.01" y1="238.69" x2="211.61" y2="238.69" stroke="#111" stroke-width="0.8"/>
<line x1="210.01" y1="236.5" x2="211.61" y2="236.5" stroke="#111" stroke-width="0.8"/>
<line x1="210.01" y1="234.94" x2="211.61" y2="234.94" stroke="#111" stroke-width="0.8"/>
<line x1="210.01" y1="233.73" x2="211.61" y2="233.73" stroke="#111" stroke-width="0.8"/>
<line x1="210.01" y1="232.74" x2="211.61" y2="232.74" stroke="#111" stroke-width="0.8"/>
<line x1="210.01" y1="231.91" x2="211.61" y2="231.91" stroke="#111" stroke-width="0.8"/>
<line x1="210.01" y1="231.18" x2="211.61" y2="231.18" stroke="#111" stroke-width="0.8"/>
<line x1="210.01" y1="230.55" x2="211.61" y2="230.55" stroke="#111" stroke-width="0.8"/>
<line x1="210.01" y1="242.45" x2="212.41" y2="242.45" stroke="#111" stroke-width="0.9"/>
<line x1="210.01" y1="251.17" x2="211.61" y2="251.17" stroke="#111" stroke-width="0.8"/>
<line x1="210.01" y1="248.97" x2="211.61" y2="248.97" stroke="#111" stroke-width="0.8"/>
<line x1="210.01" y1="247.41" x2="211.61" y2="247.41" stroke="#111" stroke-width="0.8"/>
<line x1="210.01" y1="246.21" x2="211.61" y2="246.21" stroke="#111" stroke-width="0.8"/>
<line x1="210.01" y1="245.22" x2="211.61" y2="245.22" stroke="#111" stroke-width="0.8"/>
<line x1="210.01" y1="244.38" x2="211.61" y2="244.38" stroke="#111" stroke-width="0.8"/>
<line x1="210.01" y1="243.66" x2="211.61" y2="243.66" stroke="#111" stroke-width="0.8"/>
<line x1="210.01" y1="243.02" x2="211.61" y2="243.02" stroke="#111" stroke-width="0.8"/>
<line x1="210.01" y1="254.92" x2="212.41" y2="254.92" stroke="#111" stroke-width="0.9"/>
<line x1="210.01" y1="263.64" x2="211.61" y2="263.64" stroke="#111" stroke-width="0.8"/>
<line x1="210.01" y1="261.45" x2="211.61" y2="261.45" stroke="#111" stroke-width="0.8"/>
<line x1="210.01" y1="259.89" x2="211.61" y2="259.89" stroke="#111" stroke-width="0.8"/>
<line x1="210.01" y1="258.68" x2="211.61" y2="258.68" stroke="#111" stroke-width="0.8"/>
<line x1="210.01" y1="257.69" x2="211.61" y2="257.69" stroke="#111" stroke-width="0.8"/>
<line x1="210.01" y1="256.86" x2="211.61" y2="256.86" stroke="#111" stroke-width="0.8"/>
<line x1="210.01" y1="256.13" x2="211.61" y2="256.13" stroke="#111" stroke-width="0.8"/>
<line x1="210.01" y1="255.5" x2="211.61" y2="255.5" stroke="#111" stroke-width="0.8"/>
<line x1="210.01" y1="267.4" x2="212.41" y2="267.4" stroke="#111" stroke-width="0.9"/>
<text x="131.05" y="277.62" font-size="5.6" text-anchor="end" font-weight="normal" stroke="#111" stroke-width="0.42">100</text>
<text x="131.05" y="294.42" font-size="5.6" text-anchor="end" font-weight="normal" stroke="#111" stroke-width="0.42">10</text>
<text x="131.05" y="311.22" font-size="5.6" text-anchor="end" font-weight="normal" stroke="#111" stroke-width="0.42">1</text>
<text x="131.05" y="328.02" font-size="5.6" text-anchor="end" font-weight="normal" stroke="#111" stroke-width="0.42">0.1</text>
<line x1="134.25" y1="275.6" x2="135.95" y2="275.6" stroke="#111" stroke-width="0.8"/>
<line x1="134.25" y1="292.4" x2="135.95" y2="292.4" stroke="#111" stroke-width="0.8"/>
<line x1="134.25" y1="309.2" x2="135.95" y2="309.2" stroke="#111" stroke-width="0.8"/>
<line x1="134.25" y1="326" x2="135.95" y2="326" stroke="#111" stroke-width="0.8"/>
<line x1="134.55" y1="287.34" x2="135.95" y2="287.34" stroke="#111" stroke-width="0.7"/>
<line x1="134.55" y1="284.38" x2="135.95" y2="284.38" stroke="#111" stroke-width="0.7"/>
<line x1="134.55" y1="282.29" x2="135.95" y2="282.29" stroke="#111" stroke-width="0.7"/>
<line x1="134.55" y1="280.66" x2="135.95" y2="280.66" stroke="#111" stroke-width="0.7"/>
<line x1="134.55" y1="279.33" x2="135.95" y2="279.33" stroke="#111" stroke-width="0.7"/>
<line x1="134.55" y1="278.2" x2="135.95" y2="278.2" stroke="#111" stroke-width="0.7"/>
<line x1="134.55" y1="277.23" x2="135.95" y2="277.23" stroke="#111" stroke-width="0.7"/>
<line x1="134.55" y1="276.37" x2="135.95" y2="276.37" stroke="#111" stroke-width="0.7"/>
<line x1="134.55" y1="304.14" x2="135.95" y2="304.14" stroke="#111" stroke-width="0.7"/>
<line x1="134.55" y1="301.18" x2="135.95" y2="301.18" stroke="#111" stroke-width="0.7"/>
<line x1="134.55" y1="299.09" x2="135.95" y2="299.09" stroke="#111" stroke-width="0.7"/>
<line x1="134.55" y1="297.46" x2="135.95" y2="297.46" stroke="#111" stroke-width="0.7"/>
<line x1="134.55" y1="296.13" x2="135.95" y2="296.13" stroke="#111" stroke-width="0.7"/>
<line x1="134.55" y1="295" x2="135.95" y2="295" stroke="#111" stroke-width="0.7"/>
<line x1="134.55" y1="294.03" x2="135.95" y2="294.03" stroke="#111" stroke-width="0.7"/>
<line x1="134.55" y1="293.17" x2="135.95" y2="293.17" stroke="#111" stroke-width="0.7"/>
<line x1="134.55" y1="320.94" x2="135.95" y2="320.94" stroke="#111" stroke-width="0.7"/>
<line x1="134.55" y1="317.98" x2="135.95" y2="317.98" stroke="#111" stroke-width="0.7"/>
<line x1="134.55" y1="315.89" x2="135.95" y2="315.89" stroke="#111" stroke-width="0.7"/>
<line x1="134.55" y1="314.26" x2="135.95" y2="314.26" stroke="#111" stroke-width="0.7"/>
<line x1="134.55" y1="312.93" x2="135.95" y2="312.93" stroke="#111" stroke-width="0.7"/>
<line x1="134.55" y1="311.8" x2="135.95" y2="311.8" stroke="#111" stroke-width="0.7"/>
<line x1="134.55" y1="310.83" x2="135.95" y2="310.83" stroke="#111" stroke-width="0.7"/>
<line x1="134.55" y1="309.97" x2="135.95" y2="309.97" stroke="#111" stroke-width="0.7"/>
<text x="131.3" y="336.02" font-size="5.6" text-anchor="end" font-weight="normal" stroke="#111" stroke-width="0.42">50</text>
<text x="131.3" y="345.98" font-size="5.6" text-anchor="end" font-weight="normal" stroke="#111" stroke-width="0.42">40</text>
<text x="131.3" y="355.94" font-size="5.6" text-anchor="end" font-weight="normal" stroke="#111" stroke-width="0.42">30</text>
<text x="131.3" y="365.9" font-size="5.6" text-anchor="end" font-weight="normal" stroke="#111" stroke-width="0.42">20</text>
<text x="131.3" y="375.86" font-size="5.6" text-anchor="end" font-weight="normal" stroke="#111" stroke-width="0.42">10</text>
<text x="131.3" y="385.82" font-size="5.6" text-anchor="end" font-weight="normal" stroke="#111" stroke-width="0.42">0</text>
<line x1="134.5" y1="334" x2="136.2" y2="334" stroke="#111" stroke-width="0.8"/>
<line x1="134.5" y1="343.96" x2="136.2" y2="343.96" stroke="#111" stroke-width="0.8"/>
<line x1="134.5" y1="353.92" x2="136.2" y2="353.92" stroke="#111" stroke-width="0.8"/>
<line x1="134.5" y1="363.88" x2="136.2" y2="363.88" stroke="#111" stroke-width="0.8"/>
<line x1="134.5" y1="373.84" x2="136.2" y2="373.84" stroke="#111" stroke-width="0.8"/>
<line x1="134.5" y1="383.8" x2="136.2" y2="383.8" stroke="#111" stroke-width="0.8"/>
<text x="136.5" y="395.82" font-size="5.6" text-anchor="middle" font-weight="normal" stroke="#111" stroke-width="0.42">0</text>
<text x="149.02" y="395.82" font-size="5.6" text-anchor="middle" font-weight="normal" stroke="#111" stroke-width="0.42">25</text>
<text x="161.53" y="395.82" font-size="5.6" text-anchor="middle" font-weight="normal" stroke="#111" stroke-width="0.42">50</text>
<text x="174.05" y="395.82" font-size="5.6" text-anchor="middle" font-weight="normal" stroke="#111" stroke-width="0.42">75</text>
<text x="186.57" y="395.82" font-size="5.6" text-anchor="middle" font-weight="normal" stroke="#111" stroke-width="0.42">100</text>
<text x="199.08" y="395.82" font-size="5.6" text-anchor="middle" font-weight="normal" stroke="#111" stroke-width="0.42">125</text>
<text x="211.6" y="395.82" font-size="5.6" text-anchor="middle" font-weight="normal" stroke="#111" stroke-width="0.42">150</text>
<polyline points="136.15,253.75 154.15,223 178.4,230 192.4,220.5 197.4,242.5" fill="none" stroke="#111" stroke-width="0.95" stroke-linejoin="round"/>
<path d="M136.15 249.5L154.15 257M154.15 257L178.4 255.75M178.4 255.75L192.4 263.75M192.4 263.75L197.4 256.25" fill="none" stroke="#111" stroke-width="1.2" stroke-dasharray="4.5,2.2"/>
<polyline points="136.15,243 154.15,250 178.4,223 192.4,228 197.4,243" fill="none" stroke="#111" stroke-width="1.3" stroke-linejoin="round"/>
<rect x="134.35" y="247.7" width="3.6" height="3.6" fill="#111"/>
<rect x="152.35" y="255.2" width="3.6" height="3.6" fill="#111"/>
<rect x="176.6" y="253.95" width="3.6" height="3.6" fill="#111"/>
<rect x="190.6" y="261.95" width="3.6" height="3.6" fill="#111"/>
<rect x="195.6" y="254.45" width="3.6" height="3.6" fill="#111"/>
<polygon points="136.15,240.3 138.85,243 136.15,245.7 133.45,243" fill="#111"/>
<polygon points="154.15,247.3 156.85,250 154.15,252.7 151.45,250" fill="#111"/>
<polygon points="178.4,220.3 181.1,223 178.4,225.7 175.7,223" fill="#111"/>
<polygon points="192.4,225.3 195.1,228 192.4,230.7 189.7,228" fill="#111"/>
<polygon points="197.4,240.3 200.1,243 197.4,245.7 194.7,243" fill="#111"/>
<polyline points="136.15,293 154.15,299.5 178.4,301.25 192.4,300 197.9,308.75" fill="none" stroke="#111" stroke-width="1.3" stroke-linejoin="round"/>
<path d="M136.15 302.5L154.15 307M154.15 307L178.4 315M178.4 315L192.4 317M192.4 317L197.9 318.75" fill="none" stroke="#111" stroke-width="1.1" stroke-dasharray="4.5,2.2"/>
<circle cx="136.15" cy="293" r="2.2" fill="#111"/>
<circle cx="154.15" cy="299.5" r="2.2" fill="#111"/>
<circle cx="178.4" cy="301.25" r="2.2" fill="#111"/>
<circle cx="192.4" cy="300" r="2.2" fill="#111"/>
<circle cx="197.9" cy="308.75" r="2.2" fill="#111"/>
<circle cx="136.15" cy="302.5" r="1.75" fill="#fff" stroke="#111" stroke-width="0.9"/>
<circle cx="154.15" cy="307" r="1.75" fill="#fff" stroke="#111" stroke-width="0.9"/>
<circle cx="178.4" cy="315" r="1.75" fill="#fff" stroke="#111" stroke-width="0.9"/>
<circle cx="192.4" cy="317" r="1.75" fill="#fff" stroke="#111" stroke-width="0.9"/>
<circle cx="197.9" cy="318.75" r="1.75" fill="#fff" stroke="#111" stroke-width="0.9"/>
<polyline points="136.65,357.5 154.9,348.75 179.15,368.75 192.9,373 197.9,358" fill="none" stroke="#111" stroke-width="1.1" stroke-linejoin="round"/>
<polygon points="136.65,355.8 138.44,358.77 134.87,358.77" fill="#fff" stroke="#111" stroke-width="0.85" stroke-linejoin="miter"/>
<polygon points="154.9,347.05 156.69,350.02 153.12,350.02" fill="#fff" stroke="#111" stroke-width="0.85" stroke-linejoin="miter"/>
<polygon points="179.15,367.05 180.94,370.02 177.37,370.02" fill="#fff" stroke="#111" stroke-width="0.85" stroke-linejoin="miter"/>
<polygon points="192.9,371.3 194.69,374.27 191.12,374.27" fill="#fff" stroke="#111" stroke-width="0.85" stroke-linejoin="miter"/>
<polygon points="197.9,356.3 199.69,359.27 196.12,359.27" fill="#fff" stroke="#111" stroke-width="0.85" stroke-linejoin="miter"/>
<text x="141.25" y="288.5" font-size="6.2" text-anchor="start" font-weight="normal" stroke="#111" stroke-width="0.3">A2 SLY</text>
<text transform="translate(270.5,216) scale(1,1.09)" font-size="9.6" text-anchor="middle" font-weight="bold" stroke="#111" stroke-width="0.5">434</text>
<line x1="304.4" y1="217.5" x2="304.4" y2="387.1" stroke="#111" stroke-width="1" stroke-dasharray="1.4,2.1"/>
<rect x="236.91" y="217.5" width="73.3" height="50" fill="none" stroke="#111" stroke-width="1.1"/>
<line x1="236.91" y1="267.5" x2="236.91" y2="268.8" stroke="#111" stroke-width="0.7"/>
<line x1="249.32" y1="267.5" x2="249.32" y2="268.8" stroke="#111" stroke-width="0.7"/>
<line x1="261.74" y1="267.5" x2="261.74" y2="268.8" stroke="#111" stroke-width="0.7"/>
<line x1="274.16" y1="267.5" x2="274.16" y2="268.8" stroke="#111" stroke-width="0.7"/>
<line x1="286.57" y1="267.5" x2="286.57" y2="268.8" stroke="#111" stroke-width="0.7"/>
<line x1="298.99" y1="267.5" x2="298.99" y2="268.8" stroke="#111" stroke-width="0.7"/>
<line x1="311.41" y1="267.5" x2="311.41" y2="268.8" stroke="#111" stroke-width="0.7"/>
<rect x="237.15" y="275.75" width="73.3" height="50" fill="none" stroke="#111" stroke-width="1.1"/>
<line x1="237.15" y1="325.75" x2="237.15" y2="327.05" stroke="#111" stroke-width="0.7"/>
<line x1="249.57" y1="325.75" x2="249.57" y2="327.05" stroke="#111" stroke-width="0.7"/>
<line x1="261.99" y1="325.75" x2="261.99" y2="327.05" stroke="#111" stroke-width="0.7"/>
<line x1="274.4" y1="325.75" x2="274.4" y2="327.05" stroke="#111" stroke-width="0.7"/>
<line x1="286.82" y1="325.75" x2="286.82" y2="327.05" stroke="#111" stroke-width="0.7"/>
<line x1="299.24" y1="325.75" x2="299.24" y2="327.05" stroke="#111" stroke-width="0.7"/>
<line x1="311.65" y1="325.75" x2="311.65" y2="327.05" stroke="#111" stroke-width="0.7"/>
<rect x="237.4" y="333.75" width="73.3" height="49.85" fill="none" stroke="#111" stroke-width="1.1"/>
<line x1="237.4" y1="383.6" x2="237.4" y2="384.9" stroke="#111" stroke-width="0.7"/>
<line x1="249.81" y1="383.6" x2="249.81" y2="384.9" stroke="#111" stroke-width="0.7"/>
<line x1="262.23" y1="383.6" x2="262.23" y2="384.9" stroke="#111" stroke-width="0.7"/>
<line x1="274.65" y1="383.6" x2="274.65" y2="384.9" stroke="#111" stroke-width="0.7"/>
<line x1="287.06" y1="383.6" x2="287.06" y2="384.9" stroke="#111" stroke-width="0.7"/>
<line x1="299.48" y1="383.6" x2="299.48" y2="384.9" stroke="#111" stroke-width="0.7"/>
<line x1="311.9" y1="383.6" x2="311.9" y2="384.9" stroke="#111" stroke-width="0.7"/>
<text x="232.01" y="219.52" font-size="5.6" text-anchor="end" font-weight="normal" stroke="#111" stroke-width="0.42">2000</text>
<text x="232.01" y="232.02" font-size="5.6" text-anchor="end" font-weight="normal" stroke="#111" stroke-width="0.42">1500</text>
<text x="232.01" y="244.52" font-size="5.6" text-anchor="end" font-weight="normal" stroke="#111" stroke-width="0.42">1000</text>
<text x="232.01" y="257.02" font-size="5.6" text-anchor="end" font-weight="normal" stroke="#111" stroke-width="0.42">500</text>
<text x="232.01" y="269.52" font-size="5.6" text-anchor="end" font-weight="normal" stroke="#111" stroke-width="0.42">0</text>
<line x1="235.21" y1="217.5" x2="236.91" y2="217.5" stroke="#111" stroke-width="0.8"/>
<line x1="235.21" y1="230" x2="236.91" y2="230" stroke="#111" stroke-width="0.8"/>
<line x1="235.21" y1="242.5" x2="236.91" y2="242.5" stroke="#111" stroke-width="0.8"/>
<line x1="235.21" y1="255" x2="236.91" y2="255" stroke="#111" stroke-width="0.8"/>
<line x1="235.21" y1="267.5" x2="236.91" y2="267.5" stroke="#111" stroke-width="0.8"/>
<line x1="310.21" y1="217.5" x2="312.61" y2="217.5" stroke="#111" stroke-width="0.9"/>
<line x1="310.21" y1="226.24" x2="311.81" y2="226.24" stroke="#111" stroke-width="0.8"/>
<line x1="310.21" y1="224.04" x2="311.81" y2="224.04" stroke="#111" stroke-width="0.8"/>
<line x1="310.21" y1="222.47" x2="311.81" y2="222.47" stroke="#111" stroke-width="0.8"/>
<line x1="310.21" y1="221.26" x2="311.81" y2="221.26" stroke="#111" stroke-width="0.8"/>
<line x1="310.21" y1="220.27" x2="311.81" y2="220.27" stroke="#111" stroke-width="0.8"/>
<line x1="310.21" y1="219.44" x2="311.81" y2="219.44" stroke="#111" stroke-width="0.8"/>
<line x1="310.21" y1="218.71" x2="311.81" y2="218.71" stroke="#111" stroke-width="0.8"/>
<line x1="310.21" y1="218.07" x2="311.81" y2="218.07" stroke="#111" stroke-width="0.8"/>
<line x1="310.21" y1="230" x2="312.61" y2="230" stroke="#111" stroke-width="0.9"/>
<line x1="310.21" y1="238.74" x2="311.81" y2="238.74" stroke="#111" stroke-width="0.8"/>
<line x1="310.21" y1="236.54" x2="311.81" y2="236.54" stroke="#111" stroke-width="0.8"/>
<line x1="310.21" y1="234.97" x2="311.81" y2="234.97" stroke="#111" stroke-width="0.8"/>
<line x1="310.21" y1="233.76" x2="311.81" y2="233.76" stroke="#111" stroke-width="0.8"/>
<line x1="310.21" y1="232.77" x2="311.81" y2="232.77" stroke="#111" stroke-width="0.8"/>
<line x1="310.21" y1="231.94" x2="311.81" y2="231.94" stroke="#111" stroke-width="0.8"/>
<line x1="310.21" y1="231.21" x2="311.81" y2="231.21" stroke="#111" stroke-width="0.8"/>
<line x1="310.21" y1="230.57" x2="311.81" y2="230.57" stroke="#111" stroke-width="0.8"/>
<line x1="310.21" y1="242.5" x2="312.61" y2="242.5" stroke="#111" stroke-width="0.9"/>
<line x1="310.21" y1="251.24" x2="311.81" y2="251.24" stroke="#111" stroke-width="0.8"/>
<line x1="310.21" y1="249.04" x2="311.81" y2="249.04" stroke="#111" stroke-width="0.8"/>
<line x1="310.21" y1="247.47" x2="311.81" y2="247.47" stroke="#111" stroke-width="0.8"/>
<line x1="310.21" y1="246.26" x2="311.81" y2="246.26" stroke="#111" stroke-width="0.8"/>
<line x1="310.21" y1="245.27" x2="311.81" y2="245.27" stroke="#111" stroke-width="0.8"/>
<line x1="310.21" y1="244.44" x2="311.81" y2="244.44" stroke="#111" stroke-width="0.8"/>
<line x1="310.21" y1="243.71" x2="311.81" y2="243.71" stroke="#111" stroke-width="0.8"/>
<line x1="310.21" y1="243.07" x2="311.81" y2="243.07" stroke="#111" stroke-width="0.8"/>
<line x1="310.21" y1="255" x2="312.61" y2="255" stroke="#111" stroke-width="0.9"/>
<line x1="310.21" y1="263.74" x2="311.81" y2="263.74" stroke="#111" stroke-width="0.8"/>
<line x1="310.21" y1="261.54" x2="311.81" y2="261.54" stroke="#111" stroke-width="0.8"/>
<line x1="310.21" y1="259.97" x2="311.81" y2="259.97" stroke="#111" stroke-width="0.8"/>
<line x1="310.21" y1="258.76" x2="311.81" y2="258.76" stroke="#111" stroke-width="0.8"/>
<line x1="310.21" y1="257.77" x2="311.81" y2="257.77" stroke="#111" stroke-width="0.8"/>
<line x1="310.21" y1="256.94" x2="311.81" y2="256.94" stroke="#111" stroke-width="0.8"/>
<line x1="310.21" y1="256.21" x2="311.81" y2="256.21" stroke="#111" stroke-width="0.8"/>
<line x1="310.21" y1="255.57" x2="311.81" y2="255.57" stroke="#111" stroke-width="0.8"/>
<line x1="310.21" y1="267.5" x2="312.61" y2="267.5" stroke="#111" stroke-width="0.9"/>
<text x="232.25" y="277.77" font-size="5.6" text-anchor="end" font-weight="normal" stroke="#111" stroke-width="0.42">100</text>
<text x="232.25" y="294.43" font-size="5.6" text-anchor="end" font-weight="normal" stroke="#111" stroke-width="0.42">10</text>
<text x="232.25" y="311.1" font-size="5.6" text-anchor="end" font-weight="normal" stroke="#111" stroke-width="0.42">1</text>
<text x="232.25" y="327.77" font-size="5.6" text-anchor="end" font-weight="normal" stroke="#111" stroke-width="0.42">0.1</text>
<line x1="235.45" y1="275.75" x2="237.15" y2="275.75" stroke="#111" stroke-width="0.8"/>
<line x1="235.45" y1="292.42" x2="237.15" y2="292.42" stroke="#111" stroke-width="0.8"/>
<line x1="235.45" y1="309.08" x2="237.15" y2="309.08" stroke="#111" stroke-width="0.8"/>
<line x1="235.45" y1="325.75" x2="237.15" y2="325.75" stroke="#111" stroke-width="0.8"/>
<line x1="235.75" y1="287.4" x2="237.15" y2="287.4" stroke="#111" stroke-width="0.7"/>
<line x1="235.75" y1="284.46" x2="237.15" y2="284.46" stroke="#111" stroke-width="0.7"/>
<line x1="235.75" y1="282.38" x2="237.15" y2="282.38" stroke="#111" stroke-width="0.7"/>
<line x1="235.75" y1="280.77" x2="237.15" y2="280.77" stroke="#111" stroke-width="0.7"/>
<line x1="235.75" y1="279.45" x2="237.15" y2="279.45" stroke="#111" stroke-width="0.7"/>
<line x1="235.75" y1="278.33" x2="237.15" y2="278.33" stroke="#111" stroke-width="0.7"/>
<line x1="235.75" y1="277.37" x2="237.15" y2="277.37" stroke="#111" stroke-width="0.7"/>
<line x1="235.75" y1="276.51" x2="237.15" y2="276.51" stroke="#111" stroke-width="0.7"/>
<line x1="235.75" y1="304.07" x2="237.15" y2="304.07" stroke="#111" stroke-width="0.7"/>
<line x1="235.75" y1="301.13" x2="237.15" y2="301.13" stroke="#111" stroke-width="0.7"/>
<line x1="235.75" y1="299.05" x2="237.15" y2="299.05" stroke="#111" stroke-width="0.7"/>
<line x1="235.75" y1="297.43" x2="237.15" y2="297.43" stroke="#111" stroke-width="0.7"/>
<line x1="235.75" y1="296.11" x2="237.15" y2="296.11" stroke="#111" stroke-width="0.7"/>
<line x1="235.75" y1="295" x2="237.15" y2="295" stroke="#111" stroke-width="0.7"/>
<line x1="235.75" y1="294.03" x2="237.15" y2="294.03" stroke="#111" stroke-width="0.7"/>
<line x1="235.75" y1="293.18" x2="237.15" y2="293.18" stroke="#111" stroke-width="0.7"/>
<line x1="235.75" y1="320.73" x2="237.15" y2="320.73" stroke="#111" stroke-width="0.7"/>
<line x1="235.75" y1="317.8" x2="237.15" y2="317.8" stroke="#111" stroke-width="0.7"/>
<line x1="235.75" y1="315.72" x2="237.15" y2="315.72" stroke="#111" stroke-width="0.7"/>
<line x1="235.75" y1="314.1" x2="237.15" y2="314.1" stroke="#111" stroke-width="0.7"/>
<line x1="235.75" y1="312.78" x2="237.15" y2="312.78" stroke="#111" stroke-width="0.7"/>
<line x1="235.75" y1="311.67" x2="237.15" y2="311.67" stroke="#111" stroke-width="0.7"/>
<line x1="235.75" y1="310.7" x2="237.15" y2="310.7" stroke="#111" stroke-width="0.7"/>
<line x1="235.75" y1="309.85" x2="237.15" y2="309.85" stroke="#111" stroke-width="0.7"/>
<text x="232.5" y="346.21" font-size="5.6" text-anchor="end" font-weight="normal" stroke="#111" stroke-width="0.42">20</text>
<text x="232.5" y="365.91" font-size="5.6" text-anchor="end" font-weight="normal" stroke="#111" stroke-width="0.42">10</text>
<text x="232.5" y="385.62" font-size="5.6" text-anchor="end" font-weight="normal" stroke="#111" stroke-width="0.42">0</text>
<line x1="235.7" y1="344.19" x2="237.4" y2="344.19" stroke="#111" stroke-width="0.8"/>
<line x1="235.7" y1="363.9" x2="237.4" y2="363.9" stroke="#111" stroke-width="0.8"/>
<line x1="235.7" y1="383.6" x2="237.4" y2="383.6" stroke="#111" stroke-width="0.8"/>
<text x="237.5" y="395.62" font-size="5.6" text-anchor="middle" font-weight="normal" stroke="#111" stroke-width="0.42">0</text>
<text x="249.92" y="395.62" font-size="5.6" text-anchor="middle" font-weight="normal" stroke="#111" stroke-width="0.42">25</text>
<text x="262.33" y="395.62" font-size="5.6" text-anchor="middle" font-weight="normal" stroke="#111" stroke-width="0.42">50</text>
<text x="274.75" y="395.62" font-size="5.6" text-anchor="middle" font-weight="normal" stroke="#111" stroke-width="0.42">75</text>
<text x="287.17" y="395.62" font-size="5.6" text-anchor="middle" font-weight="normal" stroke="#111" stroke-width="0.42">100</text>
<text x="299.58" y="395.62" font-size="5.6" text-anchor="middle" font-weight="normal" stroke="#111" stroke-width="0.42">125</text>
<text x="312" y="395.62" font-size="5.6" text-anchor="middle" font-weight="normal" stroke="#111" stroke-width="0.42">150</text>
<polyline points="244.15,248.75 271.65,230 297.9,223 307.4,255" fill="none" stroke="#111" stroke-width="0.95" stroke-linejoin="round"/>
<path d="M244.15 252L271.65 255.5M271.65 255.5L297.9 258.75M297.9 258.75L307.4 258" fill="none" stroke="#111" stroke-width="1.2" stroke-dasharray="4.5,2.2"/>
<polyline points="244.15,253.75 271.65,250 297.9,232 307.4,242" fill="none" stroke="#111" stroke-width="1.3" stroke-linejoin="round"/>
<rect x="242.35" y="250.2" width="3.6" height="3.6" fill="#111"/>
<rect x="269.85" y="253.7" width="3.6" height="3.6" fill="#111"/>
<rect x="296.1" y="256.95" width="3.6" height="3.6" fill="#111"/>
<rect x="305.6" y="256.2" width="3.6" height="3.6" fill="#111"/>
<polygon points="244.15,251.05 246.85,253.75 244.15,256.45 241.45,253.75" fill="#111"/>
<polygon points="271.65,247.3 274.35,250 271.65,252.7 268.95,250" fill="#111"/>
<polygon points="297.9,229.3 300.6,232 297.9,234.7 295.2,232" fill="#111"/>
<polygon points="307.4,239.3 310.1,242 307.4,244.7 304.7,242" fill="#111"/>
<polyline points="244.15,295 271.65,289.5 297.9,279.5 307.4,295" fill="none" stroke="#111" stroke-width="1.3" stroke-linejoin="round"/>
<path d="M244.15 310.5L271.65 304.5M271.65 304.5L297.9 303M297.9 303L307.4 307.5" fill="none" stroke="#111" stroke-width="1.1" stroke-dasharray="4.5,2.2"/>
<circle cx="244.15" cy="295" r="2.2" fill="#111"/>
<circle cx="271.65" cy="289.5" r="2.2" fill="#111"/>
<circle cx="297.9" cy="279.5" r="2.2" fill="#111"/>
<circle cx="307.4" cy="295" r="2.2" fill="#111"/>
<circle cx="244.15" cy="310.5" r="1.75" fill="#fff" stroke="#111" stroke-width="0.9"/>
<circle cx="271.65" cy="304.5" r="1.75" fill="#fff" stroke="#111" stroke-width="0.9"/>
<circle cx="297.9" cy="303" r="1.75" fill="#fff" stroke="#111" stroke-width="0.9"/>
<circle cx="307.4" cy="307.5" r="1.75" fill="#fff" stroke="#111" stroke-width="0.9"/>
<polyline points="245.4,361.25 271.65,359.25 298.65,374.5 307.9,350.75" fill="none" stroke="#111" stroke-width="1.1" stroke-linejoin="round"/>
<polygon points="245.4,359.55 247.19,362.52 243.62,362.52" fill="#fff" stroke="#111" stroke-width="0.85" stroke-linejoin="miter"/>
<polygon points="271.65,357.55 273.44,360.52 269.86,360.52" fill="#fff" stroke="#111" stroke-width="0.85" stroke-linejoin="miter"/>
<polygon points="298.65,372.8 300.44,375.77 296.86,375.77" fill="#fff" stroke="#111" stroke-width="0.85" stroke-linejoin="miter"/>
<polygon points="307.9,349.05 309.69,352.02 306.11,352.02" fill="#fff" stroke="#111" stroke-width="0.85" stroke-linejoin="miter"/>
<polygon points="251.15,346.85 253.15,350.18 249.16,350.18" fill="#111" stroke="#111" stroke-width="0.3" stroke-linejoin="miter"/>
<polygon points="299.15,367.35 301.14,370.68 297.15,370.68" fill="#111" stroke="#111" stroke-width="0.3" stroke-linejoin="miter"/>
<text x="240.75" y="287" font-size="6.2" text-anchor="start" font-weight="normal" stroke="#111" stroke-width="0.3">A2 SLY</text>
<text transform="translate(371.4,215) scale(1,1.09)" font-size="9.6" text-anchor="middle" font-weight="bold" stroke="#111" stroke-width="0.5">433</text>
<rect x="336.91" y="216" width="73.9" height="50" fill="none" stroke="#111" stroke-width="1.1"/>
<line x1="337.11" y1="266" x2="337.11" y2="267.3" stroke="#111" stroke-width="0.7"/>
<line x1="349.52" y1="266" x2="349.52" y2="267.3" stroke="#111" stroke-width="0.7"/>
<line x1="361.94" y1="266" x2="361.94" y2="267.3" stroke="#111" stroke-width="0.7"/>
<line x1="374.36" y1="266" x2="374.36" y2="267.3" stroke="#111" stroke-width="0.7"/>
<line x1="386.77" y1="266" x2="386.77" y2="267.3" stroke="#111" stroke-width="0.7"/>
<line x1="399.19" y1="266" x2="399.19" y2="267.3" stroke="#111" stroke-width="0.7"/>
<line x1="411.61" y1="266" x2="411.61" y2="267.3" stroke="#111" stroke-width="0.7"/>
<rect x="337.15" y="275" width="73.9" height="49.25" fill="none" stroke="#111" stroke-width="1.1"/>
<line x1="337.35" y1="324.25" x2="337.35" y2="325.55" stroke="#111" stroke-width="0.7"/>
<line x1="349.77" y1="324.25" x2="349.77" y2="325.55" stroke="#111" stroke-width="0.7"/>
<line x1="362.18" y1="324.25" x2="362.18" y2="325.55" stroke="#111" stroke-width="0.7"/>
<line x1="374.6" y1="324.25" x2="374.6" y2="325.55" stroke="#111" stroke-width="0.7"/>
<line x1="387.02" y1="324.25" x2="387.02" y2="325.55" stroke="#111" stroke-width="0.7"/>
<line x1="399.43" y1="324.25" x2="399.43" y2="325.55" stroke="#111" stroke-width="0.7"/>
<line x1="411.85" y1="324.25" x2="411.85" y2="325.55" stroke="#111" stroke-width="0.7"/>
<rect x="337.4" y="332.75" width="73.9" height="49.85" fill="none" stroke="#111" stroke-width="1.1"/>
<line x1="337.6" y1="382.6" x2="337.6" y2="383.9" stroke="#111" stroke-width="0.7"/>
<line x1="350.01" y1="382.6" x2="350.01" y2="383.9" stroke="#111" stroke-width="0.7"/>
<line x1="362.43" y1="382.6" x2="362.43" y2="383.9" stroke="#111" stroke-width="0.7"/>
<line x1="374.85" y1="382.6" x2="374.85" y2="383.9" stroke="#111" stroke-width="0.7"/>
<line x1="387.26" y1="382.6" x2="387.26" y2="383.9" stroke="#111" stroke-width="0.7"/>
<line x1="399.68" y1="382.6" x2="399.68" y2="383.9" stroke="#111" stroke-width="0.7"/>
<line x1="412.1" y1="382.6" x2="412.1" y2="383.9" stroke="#111" stroke-width="0.7"/>
<text x="332.01" y="218.02" font-size="5.6" text-anchor="end" font-weight="normal" stroke="#111" stroke-width="0.42">2000</text>
<text x="332.01" y="230.52" font-size="5.6" text-anchor="end" font-weight="normal" stroke="#111" stroke-width="0.42">1500</text>
<text x="332.01" y="243.02" font-size="5.6" text-anchor="end" font-weight="normal" stroke="#111" stroke-width="0.42">1000</text>
<text x="332.01" y="255.52" font-size="5.6" text-anchor="end" font-weight="normal" stroke="#111" stroke-width="0.42">500</text>
<text x="332.01" y="268.02" font-size="5.6" text-anchor="end" font-weight="normal" stroke="#111" stroke-width="0.42">0</text>
<line x1="335.21" y1="216" x2="336.91" y2="216" stroke="#111" stroke-width="0.8"/>
<line x1="335.21" y1="228.5" x2="336.91" y2="228.5" stroke="#111" stroke-width="0.8"/>
<line x1="335.21" y1="241" x2="336.91" y2="241" stroke="#111" stroke-width="0.8"/>
<line x1="335.21" y1="253.5" x2="336.91" y2="253.5" stroke="#111" stroke-width="0.8"/>
<line x1="335.21" y1="266" x2="336.91" y2="266" stroke="#111" stroke-width="0.8"/>
<line x1="410.81" y1="216" x2="413.21" y2="216" stroke="#111" stroke-width="0.9"/>
<line x1="410.81" y1="224.74" x2="412.41" y2="224.74" stroke="#111" stroke-width="0.8"/>
<line x1="410.81" y1="222.54" x2="412.41" y2="222.54" stroke="#111" stroke-width="0.8"/>
<line x1="410.81" y1="220.97" x2="412.41" y2="220.97" stroke="#111" stroke-width="0.8"/>
<line x1="410.81" y1="219.76" x2="412.41" y2="219.76" stroke="#111" stroke-width="0.8"/>
<line x1="410.81" y1="218.77" x2="412.41" y2="218.77" stroke="#111" stroke-width="0.8"/>
<line x1="410.81" y1="217.94" x2="412.41" y2="217.94" stroke="#111" stroke-width="0.8"/>
<line x1="410.81" y1="217.21" x2="412.41" y2="217.21" stroke="#111" stroke-width="0.8"/>
<line x1="410.81" y1="216.57" x2="412.41" y2="216.57" stroke="#111" stroke-width="0.8"/>
<line x1="410.81" y1="228.5" x2="413.21" y2="228.5" stroke="#111" stroke-width="0.9"/>
<line x1="410.81" y1="237.24" x2="412.41" y2="237.24" stroke="#111" stroke-width="0.8"/>
<line x1="410.81" y1="235.04" x2="412.41" y2="235.04" stroke="#111" stroke-width="0.8"/>
<line x1="410.81" y1="233.47" x2="412.41" y2="233.47" stroke="#111" stroke-width="0.8"/>
<line x1="410.81" y1="232.26" x2="412.41" y2="232.26" stroke="#111" stroke-width="0.8"/>
<line x1="410.81" y1="231.27" x2="412.41" y2="231.27" stroke="#111" stroke-width="0.8"/>
<line x1="410.81" y1="230.44" x2="412.41" y2="230.44" stroke="#111" stroke-width="0.8"/>
<line x1="410.81" y1="229.71" x2="412.41" y2="229.71" stroke="#111" stroke-width="0.8"/>
<line x1="410.81" y1="229.07" x2="412.41" y2="229.07" stroke="#111" stroke-width="0.8"/>
<line x1="410.81" y1="241" x2="413.21" y2="241" stroke="#111" stroke-width="0.9"/>
<line x1="410.81" y1="249.74" x2="412.41" y2="249.74" stroke="#111" stroke-width="0.8"/>
<line x1="410.81" y1="247.54" x2="412.41" y2="247.54" stroke="#111" stroke-width="0.8"/>
<line x1="410.81" y1="245.97" x2="412.41" y2="245.97" stroke="#111" stroke-width="0.8"/>
<line x1="410.81" y1="244.76" x2="412.41" y2="244.76" stroke="#111" stroke-width="0.8"/>
<line x1="410.81" y1="243.77" x2="412.41" y2="243.77" stroke="#111" stroke-width="0.8"/>
<line x1="410.81" y1="242.94" x2="412.41" y2="242.94" stroke="#111" stroke-width="0.8"/>
<line x1="410.81" y1="242.21" x2="412.41" y2="242.21" stroke="#111" stroke-width="0.8"/>
<line x1="410.81" y1="241.57" x2="412.41" y2="241.57" stroke="#111" stroke-width="0.8"/>
<line x1="410.81" y1="253.5" x2="413.21" y2="253.5" stroke="#111" stroke-width="0.9"/>
<line x1="410.81" y1="262.24" x2="412.41" y2="262.24" stroke="#111" stroke-width="0.8"/>
<line x1="410.81" y1="260.04" x2="412.41" y2="260.04" stroke="#111" stroke-width="0.8"/>
<line x1="410.81" y1="258.47" x2="412.41" y2="258.47" stroke="#111" stroke-width="0.8"/>
<line x1="410.81" y1="257.26" x2="412.41" y2="257.26" stroke="#111" stroke-width="0.8"/>
<line x1="410.81" y1="256.27" x2="412.41" y2="256.27" stroke="#111" stroke-width="0.8"/>
<line x1="410.81" y1="255.44" x2="412.41" y2="255.44" stroke="#111" stroke-width="0.8"/>
<line x1="410.81" y1="254.71" x2="412.41" y2="254.71" stroke="#111" stroke-width="0.8"/>
<line x1="410.81" y1="254.07" x2="412.41" y2="254.07" stroke="#111" stroke-width="0.8"/>
<line x1="410.81" y1="266" x2="413.21" y2="266" stroke="#111" stroke-width="0.9"/>
<text x="416.81" y="218.02" font-size="5.6" text-anchor="start" font-weight="normal" stroke="#111" stroke-width="0.42">1000</text>
<text x="416.81" y="230.52" font-size="5.6" text-anchor="start" font-weight="normal" stroke="#111" stroke-width="0.42">100</text>
<text x="416.81" y="243.02" font-size="5.6" text-anchor="start" font-weight="normal" stroke="#111" stroke-width="0.42">10</text>
<text x="416.81" y="255.52" font-size="5.6" text-anchor="start" font-weight="normal" stroke="#111" stroke-width="0.42">1</text>
<text x="416.81" y="268.02" font-size="5.6" text-anchor="start" font-weight="normal" stroke="#111" stroke-width="0.42">0.1</text>
<text x="332.25" y="277.02" font-size="5.6" text-anchor="end" font-weight="normal" stroke="#111" stroke-width="0.42">100</text>
<text x="332.25" y="293.43" font-size="5.6" text-anchor="end" font-weight="normal" stroke="#111" stroke-width="0.42">10</text>
<text x="332.25" y="309.85" font-size="5.6" text-anchor="end" font-weight="normal" stroke="#111" stroke-width="0.42">1</text>
<text x="332.25" y="326.27" font-size="5.6" text-anchor="end" font-weight="normal" stroke="#111" stroke-width="0.42">0.1</text>
<line x1="335.45" y1="275" x2="337.15" y2="275" stroke="#111" stroke-width="0.8"/>
<line x1="335.45" y1="291.42" x2="337.15" y2="291.42" stroke="#111" stroke-width="0.8"/>
<line x1="335.45" y1="307.83" x2="337.15" y2="307.83" stroke="#111" stroke-width="0.8"/>
<line x1="335.45" y1="324.25" x2="337.15" y2="324.25" stroke="#111" stroke-width="0.8"/>
<line x1="335.75" y1="286.47" x2="337.15" y2="286.47" stroke="#111" stroke-width="0.7"/>
<line x1="335.75" y1="283.58" x2="337.15" y2="283.58" stroke="#111" stroke-width="0.7"/>
<line x1="335.75" y1="281.53" x2="337.15" y2="281.53" stroke="#111" stroke-width="0.7"/>
<line x1="335.75" y1="279.94" x2="337.15" y2="279.94" stroke="#111" stroke-width="0.7"/>
<line x1="335.75" y1="278.64" x2="337.15" y2="278.64" stroke="#111" stroke-width="0.7"/>
<line x1="335.75" y1="277.54" x2="337.15" y2="277.54" stroke="#111" stroke-width="0.7"/>
<line x1="335.75" y1="276.59" x2="337.15" y2="276.59" stroke="#111" stroke-width="0.7"/>
<line x1="335.75" y1="275.75" x2="337.15" y2="275.75" stroke="#111" stroke-width="0.7"/>
<line x1="335.75" y1="302.89" x2="337.15" y2="302.89" stroke="#111" stroke-width="0.7"/>
<line x1="335.75" y1="300" x2="337.15" y2="300" stroke="#111" stroke-width="0.7"/>
<line x1="335.75" y1="297.95" x2="337.15" y2="297.95" stroke="#111" stroke-width="0.7"/>
<line x1="335.75" y1="296.36" x2="337.15" y2="296.36" stroke="#111" stroke-width="0.7"/>
<line x1="335.75" y1="295.06" x2="337.15" y2="295.06" stroke="#111" stroke-width="0.7"/>
<line x1="335.75" y1="293.96" x2="337.15" y2="293.96" stroke="#111" stroke-width="0.7"/>
<line x1="335.75" y1="293.01" x2="337.15" y2="293.01" stroke="#111" stroke-width="0.7"/>
<line x1="335.75" y1="292.17" x2="337.15" y2="292.17" stroke="#111" stroke-width="0.7"/>
<line x1="335.75" y1="319.31" x2="337.15" y2="319.31" stroke="#111" stroke-width="0.7"/>
<line x1="335.75" y1="316.42" x2="337.15" y2="316.42" stroke="#111" stroke-width="0.7"/>
<line x1="335.75" y1="314.37" x2="337.15" y2="314.37" stroke="#111" stroke-width="0.7"/>
<line x1="335.75" y1="312.78" x2="337.15" y2="312.78" stroke="#111" stroke-width="0.7"/>
<line x1="335.75" y1="311.48" x2="337.15" y2="311.48" stroke="#111" stroke-width="0.7"/>
<line x1="335.75" y1="310.38" x2="337.15" y2="310.38" stroke="#111" stroke-width="0.7"/>
<line x1="335.75" y1="309.42" x2="337.15" y2="309.42" stroke="#111" stroke-width="0.7"/>
<line x1="335.75" y1="308.58" x2="337.15" y2="308.58" stroke="#111" stroke-width="0.7"/>
<text x="332.5" y="334.77" font-size="5.6" text-anchor="end" font-weight="normal" stroke="#111" stroke-width="0.42">50</text>
<text x="332.5" y="344.74" font-size="5.6" text-anchor="end" font-weight="normal" stroke="#111" stroke-width="0.42">40</text>
<text x="332.5" y="354.71" font-size="5.6" text-anchor="end" font-weight="normal" stroke="#111" stroke-width="0.42">30</text>
<text x="332.5" y="364.68" font-size="5.6" text-anchor="end" font-weight="normal" stroke="#111" stroke-width="0.42">20</text>
<text x="332.5" y="374.65" font-size="5.6" text-anchor="end" font-weight="normal" stroke="#111" stroke-width="0.42">10</text>
<text x="332.5" y="384.62" font-size="5.6" text-anchor="end" font-weight="normal" stroke="#111" stroke-width="0.42">0</text>
<line x1="335.7" y1="332.75" x2="337.4" y2="332.75" stroke="#111" stroke-width="0.8"/>
<line x1="335.7" y1="342.72" x2="337.4" y2="342.72" stroke="#111" stroke-width="0.8"/>
<line x1="335.7" y1="352.69" x2="337.4" y2="352.69" stroke="#111" stroke-width="0.8"/>
<line x1="335.7" y1="362.66" x2="337.4" y2="362.66" stroke="#111" stroke-width="0.8"/>
<line x1="335.7" y1="372.63" x2="337.4" y2="372.63" stroke="#111" stroke-width="0.8"/>
<line x1="335.7" y1="382.6" x2="337.4" y2="382.6" stroke="#111" stroke-width="0.8"/>
<text x="337.7" y="394.62" font-size="5.6" text-anchor="middle" font-weight="normal" stroke="#111" stroke-width="0.42">0</text>
<text x="350.12" y="394.62" font-size="5.6" text-anchor="middle" font-weight="normal" stroke="#111" stroke-width="0.42">25</text>
<text x="362.53" y="394.62" font-size="5.6" text-anchor="middle" font-weight="normal" stroke="#111" stroke-width="0.42">50</text>
<text x="374.95" y="394.62" font-size="5.6" text-anchor="middle" font-weight="normal" stroke="#111" stroke-width="0.42">75</text>
<text x="387.37" y="394.62" font-size="5.6" text-anchor="middle" font-weight="normal" stroke="#111" stroke-width="0.42">100</text>
<text x="399.78" y="394.62" font-size="5.6" text-anchor="middle" font-weight="normal" stroke="#111" stroke-width="0.42">125</text>
<text x="412.2" y="394.62" font-size="5.6" text-anchor="middle" font-weight="normal" stroke="#111" stroke-width="0.42">150</text>
<polyline points="351.65,242.5 357.4,244.2 364.4,244.8 370.4,243.8 375.9,242" fill="none" stroke="#111" stroke-width="0.95" stroke-linejoin="round"/>
<path d="M351.65 253L358.4 256.25M358.4 256.25L369.9 254.5M369.9 254.5L375.9 258" fill="none" stroke="#111" stroke-width="1.2" stroke-dasharray="4.5,2.2"/>
<polyline points="351.65,242 357.4,231 369.9,219.5 375.9,241.5" fill="none" stroke="#111" stroke-width="1.3" stroke-linejoin="round"/>
<rect x="349.85" y="251.2" width="3.6" height="3.6" fill="#111"/>
<rect x="356.6" y="254.45" width="3.6" height="3.6" fill="#111"/>
<rect x="368.1" y="252.7" width="3.6" height="3.6" fill="#111"/>
<rect x="374.1" y="256.2" width="3.6" height="3.6" fill="#111"/>
<polygon points="351.65,239.3 354.35,242 351.65,244.7 348.95,242" fill="#111"/>
<polygon points="357.4,228.3 360.1,231 357.4,233.7 354.7,231" fill="#111"/>
<polygon points="369.9,216.8 372.6,219.5 369.9,222.2 367.2,219.5" fill="#111"/>
<polygon points="375.9,238.8 378.6,241.5 375.9,244.2 373.2,241.5" fill="#111"/>
<polyline points="351.65,284.5 358.4,279.5 369.9,279.5 375.9,285" fill="none" stroke="#111" stroke-width="1.3" stroke-linejoin="round"/>
<path d="M351.65 292L358.4 287.5M358.4 287.5L369.9 285.5M369.9 285.5L375.9 295.5" fill="none" stroke="#111" stroke-width="1.1" stroke-dasharray="4.5,2.2"/>
<circle cx="351.65" cy="284.5" r="2.2" fill="#111"/>
<circle cx="358.4" cy="279.5" r="2.2" fill="#111"/>
<circle cx="369.9" cy="279.5" r="2.2" fill="#111"/>
<circle cx="375.9" cy="285" r="2.2" fill="#111"/>
<circle cx="351.65" cy="292" r="1.75" fill="#fff" stroke="#111" stroke-width="0.9"/>
<circle cx="358.4" cy="287.5" r="1.75" fill="#fff" stroke="#111" stroke-width="0.9"/>
<circle cx="369.9" cy="285.5" r="1.75" fill="#fff" stroke="#111" stroke-width="0.9"/>
<circle cx="375.9" cy="295.5" r="1.75" fill="#fff" stroke="#111" stroke-width="0.9"/>
<polyline points="352.4,339.5 358.65,350 370.4,336.25 376.65,356.25" fill="none" stroke="#111" stroke-width="1.1" stroke-linejoin="round"/>
<polygon points="352.4,337.8 354.19,340.77 350.61,340.77" fill="#fff" stroke="#111" stroke-width="0.85" stroke-linejoin="miter"/>
<polygon points="358.65,348.3 360.44,351.27 356.86,351.27" fill="#fff" stroke="#111" stroke-width="0.85" stroke-linejoin="miter"/>
<polygon points="370.4,334.55 372.19,337.52 368.61,337.52" fill="#fff" stroke="#111" stroke-width="0.85" stroke-linejoin="miter"/>
<polygon points="376.65,354.55 378.44,357.52 374.86,357.52" fill="#fff" stroke="#111" stroke-width="0.85" stroke-linejoin="miter"/>
<line x1="381.5" y1="266.7" x2="381.5" y2="272.9" stroke="#111" stroke-width="1.2"/>
<polygon points="381.5,266.99 383.6,269.69 381.5,271.89 379.4,269.69" fill="#111"/>
<line x1="381.5" y1="324.95" x2="381.5" y2="331.15" stroke="#111" stroke-width="1.2"/>
<polygon points="381.5,325.24 383.6,327.94 381.5,330.14 379.4,327.94" fill="#111"/>
<line x1="381.5" y1="383.2" x2="381.5" y2="388.2" stroke="#111" stroke-width="1.2"/>
<polygon points="381.5,382.95 383.6,385.65 381.5,387.85 379.4,385.65" fill="#111"/>
<text x="374.5" y="317.5" font-size="6.2" text-anchor="start" font-weight="normal" stroke="#111" stroke-width="0.3">B57 KAF</text>
<text transform="translate(65.6,419.8) scale(1,1.09)" font-size="9.6" text-anchor="middle" font-weight="bold" stroke="#111" stroke-width="0.5">658</text>
<rect x="34.11" y="424.25" width="74.9" height="50" fill="none" stroke="#111" stroke-width="1.1"/>
<line x1="33.91" y1="474.25" x2="33.91" y2="475.55" stroke="#111" stroke-width="0.7"/>
<line x1="46.46" y1="474.25" x2="46.46" y2="475.55" stroke="#111" stroke-width="0.7"/>
<line x1="59.01" y1="474.25" x2="59.01" y2="475.55" stroke="#111" stroke-width="0.7"/>
<line x1="71.56" y1="474.25" x2="71.56" y2="475.55" stroke="#111" stroke-width="0.7"/>
<line x1="84.11" y1="474.25" x2="84.11" y2="475.55" stroke="#111" stroke-width="0.7"/>
<line x1="96.66" y1="474.25" x2="96.66" y2="475.55" stroke="#111" stroke-width="0.7"/>
<line x1="109.21" y1="474.25" x2="109.21" y2="475.55" stroke="#111" stroke-width="0.7"/>
<rect x="34.35" y="481.75" width="74.9" height="49.5" fill="none" stroke="#111" stroke-width="1.1"/>
<line x1="34.15" y1="531.25" x2="34.15" y2="532.55" stroke="#111" stroke-width="0.7"/>
<line x1="46.7" y1="531.25" x2="46.7" y2="532.55" stroke="#111" stroke-width="0.7"/>
<line x1="59.25" y1="531.25" x2="59.25" y2="532.55" stroke="#111" stroke-width="0.7"/>
<line x1="71.8" y1="531.25" x2="71.8" y2="532.55" stroke="#111" stroke-width="0.7"/>
<line x1="84.35" y1="531.25" x2="84.35" y2="532.55" stroke="#111" stroke-width="0.7"/>
<line x1="96.9" y1="531.25" x2="96.9" y2="532.55" stroke="#111" stroke-width="0.7"/>
<line x1="109.45" y1="531.25" x2="109.45" y2="532.55" stroke="#111" stroke-width="0.7"/>
<rect x="34.59" y="539.5" width="74.9" height="50.5" fill="none" stroke="#111" stroke-width="1.1"/>
<line x1="34.39" y1="590" x2="34.39" y2="591.3" stroke="#111" stroke-width="0.7"/>
<line x1="46.94" y1="590" x2="46.94" y2="591.3" stroke="#111" stroke-width="0.7"/>
<line x1="59.49" y1="590" x2="59.49" y2="591.3" stroke="#111" stroke-width="0.7"/>
<line x1="72.04" y1="590" x2="72.04" y2="591.3" stroke="#111" stroke-width="0.7"/>
<line x1="84.59" y1="590" x2="84.59" y2="591.3" stroke="#111" stroke-width="0.7"/>
<line x1="97.14" y1="590" x2="97.14" y2="591.3" stroke="#111" stroke-width="0.7"/>
<line x1="109.69" y1="590" x2="109.69" y2="591.3" stroke="#111" stroke-width="0.7"/>
<text x="29.21" y="426.27" font-size="5.6" text-anchor="end" font-weight="normal" stroke="#111" stroke-width="0.42">2000</text>
<text x="29.21" y="438.77" font-size="5.6" text-anchor="end" font-weight="normal" stroke="#111" stroke-width="0.42">1500</text>
<text x="29.21" y="451.27" font-size="5.6" text-anchor="end" font-weight="normal" stroke="#111" stroke-width="0.42">1000</text>
<text x="29.21" y="463.77" font-size="5.6" text-anchor="end" font-weight="normal" stroke="#111" stroke-width="0.42">500</text>
<text x="29.21" y="476.27" font-size="5.6" text-anchor="end" font-weight="normal" stroke="#111" stroke-width="0.42">0</text>
<line x1="32.41" y1="424.25" x2="34.11" y2="424.25" stroke="#111" stroke-width="0.8"/>
<line x1="32.41" y1="436.75" x2="34.11" y2="436.75" stroke="#111" stroke-width="0.8"/>
<line x1="32.41" y1="449.25" x2="34.11" y2="449.25" stroke="#111" stroke-width="0.8"/>
<line x1="32.41" y1="461.75" x2="34.11" y2="461.75" stroke="#111" stroke-width="0.8"/>
<line x1="32.41" y1="474.25" x2="34.11" y2="474.25" stroke="#111" stroke-width="0.8"/>
<line x1="109.01" y1="424.25" x2="111.41" y2="424.25" stroke="#111" stroke-width="0.9"/>
<line x1="109.01" y1="432.99" x2="110.61" y2="432.99" stroke="#111" stroke-width="0.8"/>
<line x1="109.01" y1="430.79" x2="110.61" y2="430.79" stroke="#111" stroke-width="0.8"/>
<line x1="109.01" y1="429.22" x2="110.61" y2="429.22" stroke="#111" stroke-width="0.8"/>
<line x1="109.01" y1="428.01" x2="110.61" y2="428.01" stroke="#111" stroke-width="0.8"/>
<line x1="109.01" y1="427.02" x2="110.61" y2="427.02" stroke="#111" stroke-width="0.8"/>
<line x1="109.01" y1="426.19" x2="110.61" y2="426.19" stroke="#111" stroke-width="0.8"/>
<line x1="109.01" y1="425.46" x2="110.61" y2="425.46" stroke="#111" stroke-width="0.8"/>
<line x1="109.01" y1="424.82" x2="110.61" y2="424.82" stroke="#111" stroke-width="0.8"/>
<line x1="109.01" y1="436.75" x2="111.41" y2="436.75" stroke="#111" stroke-width="0.9"/>
<line x1="109.01" y1="445.49" x2="110.61" y2="445.49" stroke="#111" stroke-width="0.8"/>
<line x1="109.01" y1="443.29" x2="110.61" y2="443.29" stroke="#111" stroke-width="0.8"/>
<line x1="109.01" y1="441.72" x2="110.61" y2="441.72" stroke="#111" stroke-width="0.8"/>
<line x1="109.01" y1="440.51" x2="110.61" y2="440.51" stroke="#111" stroke-width="0.8"/>
<line x1="109.01" y1="439.52" x2="110.61" y2="439.52" stroke="#111" stroke-width="0.8"/>
<line x1="109.01" y1="438.69" x2="110.61" y2="438.69" stroke="#111" stroke-width="0.8"/>
<line x1="109.01" y1="437.96" x2="110.61" y2="437.96" stroke="#111" stroke-width="0.8"/>
<line x1="109.01" y1="437.32" x2="110.61" y2="437.32" stroke="#111" stroke-width="0.8"/>
<line x1="109.01" y1="449.25" x2="111.41" y2="449.25" stroke="#111" stroke-width="0.9"/>
<line x1="109.01" y1="457.99" x2="110.61" y2="457.99" stroke="#111" stroke-width="0.8"/>
<line x1="109.01" y1="455.79" x2="110.61" y2="455.79" stroke="#111" stroke-width="0.8"/>
<line x1="109.01" y1="454.22" x2="110.61" y2="454.22" stroke="#111" stroke-width="0.8"/>
<line x1="109.01" y1="453.01" x2="110.61" y2="453.01" stroke="#111" stroke-width="0.8"/>
<line x1="109.01" y1="452.02" x2="110.61" y2="452.02" stroke="#111" stroke-width="0.8"/>
<line x1="109.01" y1="451.19" x2="110.61" y2="451.19" stroke="#111" stroke-width="0.8"/>
<line x1="109.01" y1="450.46" x2="110.61" y2="450.46" stroke="#111" stroke-width="0.8"/>
<line x1="109.01" y1="449.82" x2="110.61" y2="449.82" stroke="#111" stroke-width="0.8"/>
<line x1="109.01" y1="461.75" x2="111.41" y2="461.75" stroke="#111" stroke-width="0.9"/>
<line x1="109.01" y1="470.49" x2="110.61" y2="470.49" stroke="#111" stroke-width="0.8"/>
<line x1="109.01" y1="468.29" x2="110.61" y2="468.29" stroke="#111" stroke-width="0.8"/>
<line x1="109.01" y1="466.72" x2="110.61" y2="466.72" stroke="#111" stroke-width="0.8"/>
<line x1="109.01" y1="465.51" x2="110.61" y2="465.51" stroke="#111" stroke-width="0.8"/>
<line x1="109.01" y1="464.52" x2="110.61" y2="464.52" stroke="#111" stroke-width="0.8"/>
<line x1="109.01" y1="463.69" x2="110.61" y2="463.69" stroke="#111" stroke-width="0.8"/>
<line x1="109.01" y1="462.96" x2="110.61" y2="462.96" stroke="#111" stroke-width="0.8"/>
<line x1="109.01" y1="462.32" x2="110.61" y2="462.32" stroke="#111" stroke-width="0.8"/>
<line x1="109.01" y1="474.25" x2="111.41" y2="474.25" stroke="#111" stroke-width="0.9"/>
<text x="29.45" y="483.77" font-size="5.6" text-anchor="end" font-weight="normal" stroke="#111" stroke-width="0.42">100</text>
<text x="29.45" y="500.27" font-size="5.6" text-anchor="end" font-weight="normal" stroke="#111" stroke-width="0.42">10</text>
<text x="29.45" y="516.77" font-size="5.6" text-anchor="end" font-weight="normal" stroke="#111" stroke-width="0.42">1</text>
<text x="29.45" y="533.27" font-size="5.6" text-anchor="end" font-weight="normal" stroke="#111" stroke-width="0.42">0.1</text>
<line x1="32.65" y1="481.75" x2="34.35" y2="481.75" stroke="#111" stroke-width="0.8"/>
<line x1="32.65" y1="498.25" x2="34.35" y2="498.25" stroke="#111" stroke-width="0.8"/>
<line x1="32.65" y1="514.75" x2="34.35" y2="514.75" stroke="#111" stroke-width="0.8"/>
<line x1="32.65" y1="531.25" x2="34.35" y2="531.25" stroke="#111" stroke-width="0.8"/>
<line x1="32.95" y1="493.28" x2="34.35" y2="493.28" stroke="#111" stroke-width="0.7"/>
<line x1="32.95" y1="490.38" x2="34.35" y2="490.38" stroke="#111" stroke-width="0.7"/>
<line x1="32.95" y1="488.32" x2="34.35" y2="488.32" stroke="#111" stroke-width="0.7"/>
<line x1="32.95" y1="486.72" x2="34.35" y2="486.72" stroke="#111" stroke-width="0.7"/>
<line x1="32.95" y1="485.41" x2="34.35" y2="485.41" stroke="#111" stroke-width="0.7"/>
<line x1="32.95" y1="484.31" x2="34.35" y2="484.31" stroke="#111" stroke-width="0.7"/>
<line x1="32.95" y1="483.35" x2="34.35" y2="483.35" stroke="#111" stroke-width="0.7"/>
<line x1="32.95" y1="482.5" x2="34.35" y2="482.5" stroke="#111" stroke-width="0.7"/>
<line x1="32.95" y1="509.78" x2="34.35" y2="509.78" stroke="#111" stroke-width="0.7"/>
<line x1="32.95" y1="506.88" x2="34.35" y2="506.88" stroke="#111" stroke-width="0.7"/>
<line x1="32.95" y1="504.82" x2="34.35" y2="504.82" stroke="#111" stroke-width="0.7"/>
<line x1="32.95" y1="503.22" x2="34.35" y2="503.22" stroke="#111" stroke-width="0.7"/>
<line x1="32.95" y1="501.91" x2="34.35" y2="501.91" stroke="#111" stroke-width="0.7"/>
<line x1="32.95" y1="500.81" x2="34.35" y2="500.81" stroke="#111" stroke-width="0.7"/>
<line x1="32.95" y1="499.85" x2="34.35" y2="499.85" stroke="#111" stroke-width="0.7"/>
<line x1="32.95" y1="499" x2="34.35" y2="499" stroke="#111" stroke-width="0.7"/>
<line x1="32.95" y1="526.28" x2="34.35" y2="526.28" stroke="#111" stroke-width="0.7"/>
<line x1="32.95" y1="523.38" x2="34.35" y2="523.38" stroke="#111" stroke-width="0.7"/>
<line x1="32.95" y1="521.32" x2="34.35" y2="521.32" stroke="#111" stroke-width="0.7"/>
<line x1="32.95" y1="519.72" x2="34.35" y2="519.72" stroke="#111" stroke-width="0.7"/>
<line x1="32.95" y1="518.41" x2="34.35" y2="518.41" stroke="#111" stroke-width="0.7"/>
<line x1="32.95" y1="517.31" x2="34.35" y2="517.31" stroke="#111" stroke-width="0.7"/>
<line x1="32.95" y1="516.35" x2="34.35" y2="516.35" stroke="#111" stroke-width="0.7"/>
<line x1="32.95" y1="515.5" x2="34.35" y2="515.5" stroke="#111" stroke-width="0.7"/>
<text x="29.69" y="541.52" font-size="5.6" text-anchor="end" font-weight="normal" stroke="#111" stroke-width="0.42">50</text>
<text x="29.69" y="551.62" font-size="5.6" text-anchor="end" font-weight="normal" stroke="#111" stroke-width="0.42">40</text>
<text x="29.69" y="561.72" font-size="5.6" text-anchor="end" font-weight="normal" stroke="#111" stroke-width="0.42">30</text>
<text x="29.69" y="571.82" font-size="5.6" text-anchor="end" font-weight="normal" stroke="#111" stroke-width="0.42">20</text>
<text x="29.69" y="581.92" font-size="5.6" text-anchor="end" font-weight="normal" stroke="#111" stroke-width="0.42">10</text>
<text x="29.69" y="592.02" font-size="5.6" text-anchor="end" font-weight="normal" stroke="#111" stroke-width="0.42">0</text>
<line x1="32.89" y1="539.5" x2="34.59" y2="539.5" stroke="#111" stroke-width="0.8"/>
<line x1="32.89" y1="549.6" x2="34.59" y2="549.6" stroke="#111" stroke-width="0.8"/>
<line x1="32.89" y1="559.7" x2="34.59" y2="559.7" stroke="#111" stroke-width="0.8"/>
<line x1="32.89" y1="569.8" x2="34.59" y2="569.8" stroke="#111" stroke-width="0.8"/>
<line x1="32.89" y1="579.9" x2="34.59" y2="579.9" stroke="#111" stroke-width="0.8"/>
<line x1="32.89" y1="590" x2="34.59" y2="590" stroke="#111" stroke-width="0.8"/>
<text x="34.5" y="598.62" font-size="5.6" text-anchor="middle" font-weight="normal" stroke="#111" stroke-width="0.42">0</text>
<text x="47.05" y="598.62" font-size="5.6" text-anchor="middle" font-weight="normal" stroke="#111" stroke-width="0.42">25</text>
<text x="59.6" y="598.62" font-size="5.6" text-anchor="middle" font-weight="normal" stroke="#111" stroke-width="0.42">50</text>
<text x="72.15" y="598.62" font-size="5.6" text-anchor="middle" font-weight="normal" stroke="#111" stroke-width="0.42">75</text>
<text x="84.7" y="598.62" font-size="5.6" text-anchor="middle" font-weight="normal" stroke="#111" stroke-width="0.42">100</text>
<text x="97.25" y="598.62" font-size="5.6" text-anchor="middle" font-weight="normal" stroke="#111" stroke-width="0.42">125</text>
<text x="109.8" y="598.62" font-size="5.6" text-anchor="middle" font-weight="normal" stroke="#111" stroke-width="0.42">150</text>
<polyline points="34.15,425 39.15,445 53.65,451.25 72.15,461.25 100.4,445" fill="none" stroke="#111" stroke-width="0.95" stroke-linejoin="round"/>
<path d="M34.9 444.5L39.15 450M39.15 450L53.65 454.5M53.65 454.5L72.15 463M72.15 463L80.9 456.25M80.9 456.25L100.4 461.25" fill="none" stroke="#111" stroke-width="1.2" stroke-dasharray="4.5,2.2"/>
<polyline points="34.9,455.5 39.15,455 53.65,453.75 72.15,459.5 80.9,439.5 100.4,445" fill="none" stroke="#111" stroke-width="1.3" stroke-linejoin="round"/>
<rect x="33.1" y="442.7" width="3.6" height="3.6" fill="#111"/>
<rect x="37.35" y="448.2" width="3.6" height="3.6" fill="#111"/>
<rect x="51.85" y="452.7" width="3.6" height="3.6" fill="#111"/>
<rect x="70.35" y="461.2" width="3.6" height="3.6" fill="#111"/>
<rect x="79.1" y="454.45" width="3.6" height="3.6" fill="#111"/>
<rect x="98.6" y="459.45" width="3.6" height="3.6" fill="#111"/>
<polygon points="34.9,452.8 37.6,455.5 34.9,458.2 32.2,455.5" fill="#111"/>
<polygon points="39.15,452.3 41.85,455 39.15,457.7 36.45,455" fill="#111"/>
<polygon points="53.65,451.05 56.35,453.75 53.65,456.45 50.95,453.75" fill="#111"/>
<polygon points="72.15,456.8 74.85,459.5 72.15,462.2 69.45,459.5" fill="#111"/>
<polygon points="80.9,436.8 83.6,439.5 80.9,442.2 78.2,439.5" fill="#111"/>
<polygon points="100.4,442.3 103.1,445 100.4,447.7 97.7,445" fill="#111"/>
<polyline points="34.9,487.5 39.15,510 53.65,498 72.15,508.25 80.9,503 100.4,507" fill="none" stroke="#111" stroke-width="1.3" stroke-linejoin="round"/>
<path d="M34.9 502L39.15 519.5M39.15 519.5L53.65 505.5M53.65 505.5L72.15 519.5M72.15 519.5L80.9 509.5M80.9 509.5L100.4 515.5" fill="none" stroke="#111" stroke-width="1.1" stroke-dasharray="4.5,2.2"/>
<circle cx="34.9" cy="487.5" r="2.2" fill="#111"/>
<circle cx="39.15" cy="510" r="2.2" fill="#111"/>
<circle cx="53.65" cy="498" r="2.2" fill="#111"/>
<circle cx="72.15" cy="508.25" r="2.2" fill="#111"/>
<circle cx="80.9" cy="503" r="2.2" fill="#111"/>
<circle cx="100.4" cy="507" r="2.2" fill="#111"/>
<circle cx="34.9" cy="502" r="1.75" fill="#fff" stroke="#111" stroke-width="0.9"/>
<circle cx="39.15" cy="519.5" r="1.75" fill="#fff" stroke="#111" stroke-width="0.9"/>
<circle cx="53.65" cy="505.5" r="1.75" fill="#fff" stroke="#111" stroke-width="0.9"/>
<circle cx="72.15" cy="519.5" r="1.75" fill="#fff" stroke="#111" stroke-width="0.9"/>
<circle cx="80.9" cy="509.5" r="1.75" fill="#fff" stroke="#111" stroke-width="0.9"/>
<circle cx="100.4" cy="515.5" r="1.75" fill="#fff" stroke="#111" stroke-width="0.9"/>
<polyline points="35.4,577 39.15,562 54.15,553 72.4,569.5 81.65,550.75 101.15,556.25" fill="none" stroke="#111" stroke-width="1.1" stroke-linejoin="round"/>
<polygon points="35.4,575.3 37.18,578.27 33.62,578.27" fill="#fff" stroke="#111" stroke-width="0.85" stroke-linejoin="miter"/>
<polygon points="39.15,560.3 40.93,563.27 37.37,563.27" fill="#fff" stroke="#111" stroke-width="0.85" stroke-linejoin="miter"/>
<polygon points="54.15,551.3 55.93,554.27 52.37,554.27" fill="#fff" stroke="#111" stroke-width="0.85" stroke-linejoin="miter"/>
<polygon points="72.4,567.8 74.19,570.77 70.62,570.77" fill="#fff" stroke="#111" stroke-width="0.85" stroke-linejoin="miter"/>
<polygon points="81.65,549.05 83.44,552.02 79.87,552.02" fill="#fff" stroke="#111" stroke-width="0.85" stroke-linejoin="miter"/>
<polygon points="101.15,554.55 102.94,557.52 99.37,557.52" fill="#fff" stroke="#111" stroke-width="0.85" stroke-linejoin="miter"/>
<polygon points="39.15,558.1 41.14,561.42 37.16,561.42" fill="#111" stroke="#111" stroke-width="0.3" stroke-linejoin="miter"/>
<polygon points="66.65,552.6 68.65,555.92 64.66,555.92" fill="#111" stroke="#111" stroke-width="0.3" stroke-linejoin="miter"/>
<text x="68.75" y="489.3" font-size="6.2" text-anchor="start" font-weight="normal" stroke="#111" stroke-width="0.3">B8-EIY+FLK</text>
<text transform="translate(169.6,419.8) scale(1,1.09)" font-size="9.6" text-anchor="middle" font-weight="bold" stroke="#111" stroke-width="0.5">1160</text>
<rect x="135.71" y="424.25" width="74.1" height="49.5" fill="none" stroke="#111" stroke-width="1.1"/>
<line x1="135.91" y1="473.75" x2="135.91" y2="475.05" stroke="#111" stroke-width="0.7"/>
<line x1="148.33" y1="473.75" x2="148.33" y2="475.05" stroke="#111" stroke-width="0.7"/>
<line x1="160.74" y1="473.75" x2="160.74" y2="475.05" stroke="#111" stroke-width="0.7"/>
<line x1="173.16" y1="473.75" x2="173.16" y2="475.05" stroke="#111" stroke-width="0.7"/>
<line x1="185.58" y1="473.75" x2="185.58" y2="475.05" stroke="#111" stroke-width="0.7"/>
<line x1="197.99" y1="473.75" x2="197.99" y2="475.05" stroke="#111" stroke-width="0.7"/>
<line x1="210.41" y1="473.75" x2="210.41" y2="475.05" stroke="#111" stroke-width="0.7"/>
<rect x="135.95" y="481.75" width="74.1" height="49.25" fill="none" stroke="#111" stroke-width="1.1"/>
<line x1="136.15" y1="531" x2="136.15" y2="532.3" stroke="#111" stroke-width="0.7"/>
<line x1="148.57" y1="531" x2="148.57" y2="532.3" stroke="#111" stroke-width="0.7"/>
<line x1="160.99" y1="531" x2="160.99" y2="532.3" stroke="#111" stroke-width="0.7"/>
<line x1="173.4" y1="531" x2="173.4" y2="532.3" stroke="#111" stroke-width="0.7"/>
<line x1="185.82" y1="531" x2="185.82" y2="532.3" stroke="#111" stroke-width="0.7"/>
<line x1="198.24" y1="531" x2="198.24" y2="532.3" stroke="#111" stroke-width="0.7"/>
<line x1="210.65" y1="531" x2="210.65" y2="532.3" stroke="#111" stroke-width="0.7"/>
<rect x="136.2" y="539.5" width="74.1" height="49.8" fill="none" stroke="#111" stroke-width="1.1"/>
<line x1="136.4" y1="589.3" x2="136.4" y2="590.6" stroke="#111" stroke-width="0.7"/>
<line x1="148.81" y1="589.3" x2="148.81" y2="590.6" stroke="#111" stroke-width="0.7"/>
<line x1="161.23" y1="589.3" x2="161.23" y2="590.6" stroke="#111" stroke-width="0.7"/>
<line x1="173.65" y1="589.3" x2="173.65" y2="590.6" stroke="#111" stroke-width="0.7"/>
<line x1="186.06" y1="589.3" x2="186.06" y2="590.6" stroke="#111" stroke-width="0.7"/>
<line x1="198.48" y1="589.3" x2="198.48" y2="590.6" stroke="#111" stroke-width="0.7"/>
<line x1="210.9" y1="589.3" x2="210.9" y2="590.6" stroke="#111" stroke-width="0.7"/>
<text x="130.81" y="426.27" font-size="5.6" text-anchor="end" font-weight="normal" stroke="#111" stroke-width="0.42">2000</text>
<text x="130.81" y="438.64" font-size="5.6" text-anchor="end" font-weight="normal" stroke="#111" stroke-width="0.42">1500</text>
<text x="130.81" y="451.02" font-size="5.6" text-anchor="end" font-weight="normal" stroke="#111" stroke-width="0.42">1000</text>
<text x="130.81" y="463.39" font-size="5.6" text-anchor="end" font-weight="normal" stroke="#111" stroke-width="0.42">500</text>
<text x="130.81" y="475.77" font-size="5.6" text-anchor="end" font-weight="normal" stroke="#111" stroke-width="0.42">0</text>
<line x1="134.01" y1="424.25" x2="135.71" y2="424.25" stroke="#111" stroke-width="0.8"/>
<line x1="134.01" y1="436.62" x2="135.71" y2="436.62" stroke="#111" stroke-width="0.8"/>
<line x1="134.01" y1="449" x2="135.71" y2="449" stroke="#111" stroke-width="0.8"/>
<line x1="134.01" y1="461.38" x2="135.71" y2="461.38" stroke="#111" stroke-width="0.8"/>
<line x1="134.01" y1="473.75" x2="135.71" y2="473.75" stroke="#111" stroke-width="0.8"/>
<line x1="209.81" y1="424.25" x2="212.21" y2="424.25" stroke="#111" stroke-width="0.9"/>
<line x1="209.81" y1="432.9" x2="211.41" y2="432.9" stroke="#111" stroke-width="0.8"/>
<line x1="209.81" y1="430.72" x2="211.41" y2="430.72" stroke="#111" stroke-width="0.8"/>
<line x1="209.81" y1="429.17" x2="211.41" y2="429.17" stroke="#111" stroke-width="0.8"/>
<line x1="209.81" y1="427.98" x2="211.41" y2="427.98" stroke="#111" stroke-width="0.8"/>
<line x1="209.81" y1="427" x2="211.41" y2="427" stroke="#111" stroke-width="0.8"/>
<line x1="209.81" y1="426.17" x2="211.41" y2="426.17" stroke="#111" stroke-width="0.8"/>
<line x1="209.81" y1="425.45" x2="211.41" y2="425.45" stroke="#111" stroke-width="0.8"/>
<line x1="209.81" y1="424.82" x2="211.41" y2="424.82" stroke="#111" stroke-width="0.8"/>
<line x1="209.81" y1="436.62" x2="212.21" y2="436.62" stroke="#111" stroke-width="0.9"/>
<line x1="209.81" y1="445.27" x2="211.41" y2="445.27" stroke="#111" stroke-width="0.8"/>
<line x1="209.81" y1="443.1" x2="211.41" y2="443.1" stroke="#111" stroke-width="0.8"/>
<line x1="209.81" y1="441.55" x2="211.41" y2="441.55" stroke="#111" stroke-width="0.8"/>
<line x1="209.81" y1="440.35" x2="211.41" y2="440.35" stroke="#111" stroke-width="0.8"/>
<line x1="209.81" y1="439.37" x2="211.41" y2="439.37" stroke="#111" stroke-width="0.8"/>
<line x1="209.81" y1="438.54" x2="211.41" y2="438.54" stroke="#111" stroke-width="0.8"/>
<line x1="209.81" y1="437.82" x2="211.41" y2="437.82" stroke="#111" stroke-width="0.8"/>
<line x1="209.81" y1="437.19" x2="211.41" y2="437.19" stroke="#111" stroke-width="0.8"/>
<line x1="209.81" y1="449" x2="212.21" y2="449" stroke="#111" stroke-width="0.9"/>
<line x1="209.81" y1="457.65" x2="211.41" y2="457.65" stroke="#111" stroke-width="0.8"/>
<line x1="209.81" y1="455.47" x2="211.41" y2="455.47" stroke="#111" stroke-width="0.8"/>
<line x1="209.81" y1="453.92" x2="211.41" y2="453.92" stroke="#111" stroke-width="0.8"/>
<line x1="209.81" y1="452.73" x2="211.41" y2="452.73" stroke="#111" stroke-width="0.8"/>
<line x1="209.81" y1="451.75" x2="211.41" y2="451.75" stroke="#111" stroke-width="0.8"/>
<line x1="209.81" y1="450.92" x2="211.41" y2="450.92" stroke="#111" stroke-width="0.8"/>
<line x1="209.81" y1="450.2" x2="211.41" y2="450.2" stroke="#111" stroke-width="0.8"/>
<line x1="209.81" y1="449.57" x2="211.41" y2="449.57" stroke="#111" stroke-width="0.8"/>
<line x1="209.81" y1="461.38" x2="212.21" y2="461.38" stroke="#111" stroke-width="0.9"/>
<line x1="209.81" y1="470.02" x2="211.41" y2="470.02" stroke="#111" stroke-width="0.8"/>
<line x1="209.81" y1="467.85" x2="211.41" y2="467.85" stroke="#111" stroke-width="0.8"/>
<line x1="209.81" y1="466.3" x2="211.41" y2="466.3" stroke="#111" stroke-width="0.8"/>
<line x1="209.81" y1="465.1" x2="211.41" y2="465.1" stroke="#111" stroke-width="0.8"/>
<line x1="209.81" y1="464.12" x2="211.41" y2="464.12" stroke="#111" stroke-width="0.8"/>
<line x1="209.81" y1="463.29" x2="211.41" y2="463.29" stroke="#111" stroke-width="0.8"/>
<line x1="209.81" y1="462.57" x2="211.41" y2="462.57" stroke="#111" stroke-width="0.8"/>
<line x1="209.81" y1="461.94" x2="211.41" y2="461.94" stroke="#111" stroke-width="0.8"/>
<line x1="209.81" y1="473.75" x2="212.21" y2="473.75" stroke="#111" stroke-width="0.9"/>
<text x="131.05" y="487.72" font-size="5.6" text-anchor="end" font-weight="normal" stroke="#111" stroke-width="0.42">100</text>
<text x="131.05" y="502.82" font-size="5.6" text-anchor="end" font-weight="normal" stroke="#111" stroke-width="0.42">10</text>
<text x="131.05" y="517.92" font-size="5.6" text-anchor="end" font-weight="normal" stroke="#111" stroke-width="0.42">1</text>
<text x="131.05" y="533.02" font-size="5.6" text-anchor="end" font-weight="normal" stroke="#111" stroke-width="0.42">0.1</text>
<line x1="134.25" y1="485.7" x2="135.95" y2="485.7" stroke="#111" stroke-width="0.8"/>
<line x1="134.25" y1="500.8" x2="135.95" y2="500.8" stroke="#111" stroke-width="0.8"/>
<line x1="134.25" y1="515.9" x2="135.95" y2="515.9" stroke="#111" stroke-width="0.8"/>
<line x1="134.25" y1="531" x2="135.95" y2="531" stroke="#111" stroke-width="0.8"/>
<line x1="134.55" y1="496.25" x2="135.95" y2="496.25" stroke="#111" stroke-width="0.7"/>
<line x1="134.55" y1="493.6" x2="135.95" y2="493.6" stroke="#111" stroke-width="0.7"/>
<line x1="134.55" y1="491.71" x2="135.95" y2="491.71" stroke="#111" stroke-width="0.7"/>
<line x1="134.55" y1="490.25" x2="135.95" y2="490.25" stroke="#111" stroke-width="0.7"/>
<line x1="134.55" y1="489.05" x2="135.95" y2="489.05" stroke="#111" stroke-width="0.7"/>
<line x1="134.55" y1="488.04" x2="135.95" y2="488.04" stroke="#111" stroke-width="0.7"/>
<line x1="134.55" y1="487.16" x2="135.95" y2="487.16" stroke="#111" stroke-width="0.7"/>
<line x1="134.55" y1="486.39" x2="135.95" y2="486.39" stroke="#111" stroke-width="0.7"/>
<line x1="134.55" y1="511.35" x2="135.95" y2="511.35" stroke="#111" stroke-width="0.7"/>
<line x1="134.55" y1="508.7" x2="135.95" y2="508.7" stroke="#111" stroke-width="0.7"/>
<line x1="134.55" y1="506.81" x2="135.95" y2="506.81" stroke="#111" stroke-width="0.7"/>
<line x1="134.55" y1="505.35" x2="135.95" y2="505.35" stroke="#111" stroke-width="0.7"/>
<line x1="134.55" y1="504.15" x2="135.95" y2="504.15" stroke="#111" stroke-width="0.7"/>
<line x1="134.55" y1="503.14" x2="135.95" y2="503.14" stroke="#111" stroke-width="0.7"/>
<line x1="134.55" y1="502.26" x2="135.95" y2="502.26" stroke="#111" stroke-width="0.7"/>
<line x1="134.55" y1="501.49" x2="135.95" y2="501.49" stroke="#111" stroke-width="0.7"/>
<line x1="134.55" y1="526.45" x2="135.95" y2="526.45" stroke="#111" stroke-width="0.7"/>
<line x1="134.55" y1="523.8" x2="135.95" y2="523.8" stroke="#111" stroke-width="0.7"/>
<line x1="134.55" y1="521.91" x2="135.95" y2="521.91" stroke="#111" stroke-width="0.7"/>
<line x1="134.55" y1="520.45" x2="135.95" y2="520.45" stroke="#111" stroke-width="0.7"/>
<line x1="134.55" y1="519.25" x2="135.95" y2="519.25" stroke="#111" stroke-width="0.7"/>
<line x1="134.55" y1="518.24" x2="135.95" y2="518.24" stroke="#111" stroke-width="0.7"/>
<line x1="134.55" y1="517.36" x2="135.95" y2="517.36" stroke="#111" stroke-width="0.7"/>
<line x1="134.55" y1="516.59" x2="135.95" y2="516.59" stroke="#111" stroke-width="0.7"/>
<text x="131.3" y="541.52" font-size="5.6" text-anchor="end" font-weight="normal" stroke="#111" stroke-width="0.42">30</text>
<text x="131.3" y="558.12" font-size="5.6" text-anchor="end" font-weight="normal" stroke="#111" stroke-width="0.42">20</text>
<text x="131.3" y="574.72" font-size="5.6" text-anchor="end" font-weight="normal" stroke="#111" stroke-width="0.42">10</text>
<text x="131.3" y="591.32" font-size="5.6" text-anchor="end" font-weight="normal" stroke="#111" stroke-width="0.42">0</text>
<line x1="134.5" y1="539.5" x2="136.2" y2="539.5" stroke="#111" stroke-width="0.8"/>
<line x1="134.5" y1="556.1" x2="136.2" y2="556.1" stroke="#111" stroke-width="0.8"/>
<line x1="134.5" y1="572.7" x2="136.2" y2="572.7" stroke="#111" stroke-width="0.8"/>
<line x1="134.5" y1="589.3" x2="136.2" y2="589.3" stroke="#111" stroke-width="0.8"/>
<text x="136.5" y="597.92" font-size="5.6" text-anchor="middle" font-weight="normal" stroke="#111" stroke-width="0.42">0</text>
<text x="148.92" y="597.92" font-size="5.6" text-anchor="middle" font-weight="normal" stroke="#111" stroke-width="0.42">25</text>
<text x="161.33" y="597.92" font-size="5.6" text-anchor="middle" font-weight="normal" stroke="#111" stroke-width="0.42">50</text>
<text x="173.75" y="597.92" font-size="5.6" text-anchor="middle" font-weight="normal" stroke="#111" stroke-width="0.42">75</text>
<text x="186.17" y="597.92" font-size="5.6" text-anchor="middle" font-weight="normal" stroke="#111" stroke-width="0.42">100</text>
<text x="198.58" y="597.92" font-size="5.6" text-anchor="middle" font-weight="normal" stroke="#111" stroke-width="0.42">125</text>
<text x="211" y="597.92" font-size="5.6" text-anchor="middle" font-weight="normal" stroke="#111" stroke-width="0.42">150</text>
<polyline points="147.9,461.75 200.4,445.5" fill="none" stroke="#111" stroke-width="0.95" stroke-linejoin="round"/>
<path d="M147.9 440L166.65 455.75M166.65 455.75L175.9 458M175.9 458L200.4 462" fill="none" stroke="#111" stroke-width="1.2" stroke-dasharray="4.5,2.2"/>
<polyline points="147.9,441.25 166.65,447.5 175.9,450.75 200.4,432" fill="none" stroke="#111" stroke-width="1.3" stroke-linejoin="round"/>
<rect x="146.1" y="438.2" width="3.6" height="3.6" fill="#111"/>
<rect x="164.85" y="453.95" width="3.6" height="3.6" fill="#111"/>
<rect x="174.1" y="456.2" width="3.6" height="3.6" fill="#111"/>
<rect x="198.6" y="460.2" width="3.6" height="3.6" fill="#111"/>
<polygon points="147.9,438.55 150.6,441.25 147.9,443.95 145.2,441.25" fill="#111"/>
<polygon points="166.65,444.8 169.35,447.5 166.65,450.2 163.95,447.5" fill="#111"/>
<polygon points="175.9,448.05 178.6,450.75 175.9,453.45 173.2,450.75" fill="#111"/>
<polygon points="200.4,429.3 203.1,432 200.4,434.7 197.7,432" fill="#111"/>
<polyline points="147.9,490 165.9,490.75 175.9,490 200.4,488.75" fill="none" stroke="#111" stroke-width="1.3" stroke-linejoin="round"/>
<path d="M147.9 505L165.9 503.75M165.9 503.75L175.9 502M175.9 502L200.4 498.25" fill="none" stroke="#111" stroke-width="1.1" stroke-dasharray="4.5,2.2"/>
<circle cx="147.9" cy="490" r="2.2" fill="#111"/>
<circle cx="165.9" cy="490.75" r="2.2" fill="#111"/>
<circle cx="175.9" cy="490" r="2.2" fill="#111"/>
<circle cx="200.4" cy="488.75" r="2.2" fill="#111"/>
<circle cx="147.9" cy="505" r="1.75" fill="#fff" stroke="#111" stroke-width="0.9"/>
<circle cx="165.9" cy="503.75" r="1.75" fill="#fff" stroke="#111" stroke-width="0.9"/>
<circle cx="175.9" cy="502" r="1.75" fill="#fff" stroke="#111" stroke-width="0.9"/>
<circle cx="200.4" cy="498.25" r="1.75" fill="#fff" stroke="#111" stroke-width="0.9"/>
<polyline points="148.65,572.5 166.65,566.25 176.65,563.25 200.4,553" fill="none" stroke="#111" stroke-width="1.1" stroke-linejoin="round"/>
<polygon points="148.65,570.8 150.44,573.77 146.87,573.77" fill="#fff" stroke="#111" stroke-width="0.85" stroke-linejoin="miter"/>
<polygon points="166.65,564.55 168.44,567.52 164.87,567.52" fill="#fff" stroke="#111" stroke-width="0.85" stroke-linejoin="miter"/>
<polygon points="176.65,561.55 178.44,564.52 174.87,564.52" fill="#fff" stroke="#111" stroke-width="0.85" stroke-linejoin="miter"/>
<polygon points="200.4,551.3 202.19,554.27 198.62,554.27" fill="#fff" stroke="#111" stroke-width="0.85" stroke-linejoin="miter"/>
<text x="168" y="522" font-size="6.2" text-anchor="start" font-weight="normal" stroke="#111" stroke-width="0.3">B8 FLK + EIY</text>
<text transform="translate(269.2,419.6) scale(1,1.09)" font-size="9.6" text-anchor="middle" font-weight="bold" stroke="#111" stroke-width="0.5">341</text>
<line x1="283.3" y1="423.75" x2="283.3" y2="592.8" stroke="#a8a8a8" stroke-width="1"/>
<rect x="236.91" y="423.75" width="73.9" height="49.5" fill="none" stroke="#111" stroke-width="1.1"/>
<line x1="236.91" y1="473.25" x2="236.91" y2="474.55" stroke="#111" stroke-width="0.7"/>
<line x1="249.28" y1="473.25" x2="249.28" y2="474.55" stroke="#111" stroke-width="0.7"/>
<line x1="261.64" y1="473.25" x2="261.64" y2="474.55" stroke="#111" stroke-width="0.7"/>
<line x1="274.01" y1="473.25" x2="274.01" y2="474.55" stroke="#111" stroke-width="0.7"/>
<line x1="286.38" y1="473.25" x2="286.38" y2="474.55" stroke="#111" stroke-width="0.7"/>
<line x1="298.74" y1="473.25" x2="298.74" y2="474.55" stroke="#111" stroke-width="0.7"/>
<line x1="311.11" y1="473.25" x2="311.11" y2="474.55" stroke="#111" stroke-width="0.7"/>
<rect x="237.15" y="481.75" width="73.9" height="49.25" fill="none" stroke="#111" stroke-width="1.1"/>
<line x1="237.15" y1="531" x2="237.15" y2="532.3" stroke="#111" stroke-width="0.7"/>
<line x1="249.52" y1="531" x2="249.52" y2="532.3" stroke="#111" stroke-width="0.7"/>
<line x1="261.89" y1="531" x2="261.89" y2="532.3" stroke="#111" stroke-width="0.7"/>
<line x1="274.25" y1="531" x2="274.25" y2="532.3" stroke="#111" stroke-width="0.7"/>
<line x1="286.62" y1="531" x2="286.62" y2="532.3" stroke="#111" stroke-width="0.7"/>
<line x1="298.99" y1="531" x2="298.99" y2="532.3" stroke="#111" stroke-width="0.7"/>
<line x1="311.35" y1="531" x2="311.35" y2="532.3" stroke="#111" stroke-width="0.7"/>
<rect x="237.39" y="539.25" width="73.9" height="50.05" fill="none" stroke="#111" stroke-width="1.1"/>
<line x1="237.39" y1="589.3" x2="237.39" y2="590.6" stroke="#111" stroke-width="0.7"/>
<line x1="249.76" y1="589.3" x2="249.76" y2="590.6" stroke="#111" stroke-width="0.7"/>
<line x1="262.13" y1="589.3" x2="262.13" y2="590.6" stroke="#111" stroke-width="0.7"/>
<line x1="274.49" y1="589.3" x2="274.49" y2="590.6" stroke="#111" stroke-width="0.7"/>
<line x1="286.86" y1="589.3" x2="286.86" y2="590.6" stroke="#111" stroke-width="0.7"/>
<line x1="299.23" y1="589.3" x2="299.23" y2="590.6" stroke="#111" stroke-width="0.7"/>
<line x1="311.59" y1="589.3" x2="311.59" y2="590.6" stroke="#111" stroke-width="0.7"/>
<text x="232.01" y="425.77" font-size="5.6" text-anchor="end" font-weight="normal" stroke="#111" stroke-width="0.42">2000</text>
<text x="232.01" y="438.14" font-size="5.6" text-anchor="end" font-weight="normal" stroke="#111" stroke-width="0.42">1500</text>
<text x="232.01" y="450.52" font-size="5.6" text-anchor="end" font-weight="normal" stroke="#111" stroke-width="0.42">1000</text>
<text x="232.01" y="462.89" font-size="5.6" text-anchor="end" font-weight="normal" stroke="#111" stroke-width="0.42">500</text>
<text x="232.01" y="475.27" font-size="5.6" text-anchor="end" font-weight="normal" stroke="#111" stroke-width="0.42">0</text>
<line x1="235.21" y1="423.75" x2="236.91" y2="423.75" stroke="#111" stroke-width="0.8"/>
<line x1="235.21" y1="436.12" x2="236.91" y2="436.12" stroke="#111" stroke-width="0.8"/>
<line x1="235.21" y1="448.5" x2="236.91" y2="448.5" stroke="#111" stroke-width="0.8"/>
<line x1="235.21" y1="460.88" x2="236.91" y2="460.88" stroke="#111" stroke-width="0.8"/>
<line x1="235.21" y1="473.25" x2="236.91" y2="473.25" stroke="#111" stroke-width="0.8"/>
<line x1="310.81" y1="423.75" x2="313.21" y2="423.75" stroke="#111" stroke-width="0.9"/>
<line x1="310.81" y1="432.4" x2="312.41" y2="432.4" stroke="#111" stroke-width="0.8"/>
<line x1="310.81" y1="430.22" x2="312.41" y2="430.22" stroke="#111" stroke-width="0.8"/>
<line x1="310.81" y1="428.67" x2="312.41" y2="428.67" stroke="#111" stroke-width="0.8"/>
<line x1="310.81" y1="427.48" x2="312.41" y2="427.48" stroke="#111" stroke-width="0.8"/>
<line x1="310.81" y1="426.5" x2="312.41" y2="426.5" stroke="#111" stroke-width="0.8"/>
<line x1="310.81" y1="425.67" x2="312.41" y2="425.67" stroke="#111" stroke-width="0.8"/>
<line x1="310.81" y1="424.95" x2="312.41" y2="424.95" stroke="#111" stroke-width="0.8"/>
<line x1="310.81" y1="424.32" x2="312.41" y2="424.32" stroke="#111" stroke-width="0.8"/>
<line x1="310.81" y1="436.12" x2="313.21" y2="436.12" stroke="#111" stroke-width="0.9"/>
<line x1="310.81" y1="444.77" x2="312.41" y2="444.77" stroke="#111" stroke-width="0.8"/>
<line x1="310.81" y1="442.6" x2="312.41" y2="442.6" stroke="#111" stroke-width="0.8"/>
<line x1="310.81" y1="441.05" x2="312.41" y2="441.05" stroke="#111" stroke-width="0.8"/>
<line x1="310.81" y1="439.85" x2="312.41" y2="439.85" stroke="#111" stroke-width="0.8"/>
<line x1="310.81" y1="438.87" x2="312.41" y2="438.87" stroke="#111" stroke-width="0.8"/>
<line x1="310.81" y1="438.04" x2="312.41" y2="438.04" stroke="#111" stroke-width="0.8"/>
<line x1="310.81" y1="437.32" x2="312.41" y2="437.32" stroke="#111" stroke-width="0.8"/>
<line x1="310.81" y1="436.69" x2="312.41" y2="436.69" stroke="#111" stroke-width="0.8"/>
<line x1="310.81" y1="448.5" x2="313.21" y2="448.5" stroke="#111" stroke-width="0.9"/>
<line x1="310.81" y1="457.15" x2="312.41" y2="457.15" stroke="#111" stroke-width="0.8"/>
<line x1="310.81" y1="454.97" x2="312.41" y2="454.97" stroke="#111" stroke-width="0.8"/>
<line x1="310.81" y1="453.42" x2="312.41" y2="453.42" stroke="#111" stroke-width="0.8"/>
<line x1="310.81" y1="452.23" x2="312.41" y2="452.23" stroke="#111" stroke-width="0.8"/>
<line x1="310.81" y1="451.25" x2="312.41" y2="451.25" stroke="#111" stroke-width="0.8"/>
<line x1="310.81" y1="450.42" x2="312.41" y2="450.42" stroke="#111" stroke-width="0.8"/>
<line x1="310.81" y1="449.7" x2="312.41" y2="449.7" stroke="#111" stroke-width="0.8"/>
<line x1="310.81" y1="449.07" x2="312.41" y2="449.07" stroke="#111" stroke-width="0.8"/>
<line x1="310.81" y1="460.88" x2="313.21" y2="460.88" stroke="#111" stroke-width="0.9"/>
<line x1="310.81" y1="469.52" x2="312.41" y2="469.52" stroke="#111" stroke-width="0.8"/>
<line x1="310.81" y1="467.35" x2="312.41" y2="467.35" stroke="#111" stroke-width="0.8"/>
<line x1="310.81" y1="465.8" x2="312.41" y2="465.8" stroke="#111" stroke-width="0.8"/>
<line x1="310.81" y1="464.6" x2="312.41" y2="464.6" stroke="#111" stroke-width="0.8"/>
<line x1="310.81" y1="463.62" x2="312.41" y2="463.62" stroke="#111" stroke-width="0.8"/>
<line x1="310.81" y1="462.79" x2="312.41" y2="462.79" stroke="#111" stroke-width="0.8"/>
<line x1="310.81" y1="462.07" x2="312.41" y2="462.07" stroke="#111" stroke-width="0.8"/>
<line x1="310.81" y1="461.44" x2="312.41" y2="461.44" stroke="#111" stroke-width="0.8"/>
<line x1="310.81" y1="473.25" x2="313.21" y2="473.25" stroke="#111" stroke-width="0.9"/>
<text x="232.25" y="488.12" font-size="5.6" text-anchor="end" font-weight="normal" stroke="#111" stroke-width="0.42">100</text>
<text x="232.25" y="503.08" font-size="5.6" text-anchor="end" font-weight="normal" stroke="#111" stroke-width="0.42">10</text>
<text x="232.25" y="518.05" font-size="5.6" text-anchor="end" font-weight="normal" stroke="#111" stroke-width="0.42">1</text>
<text x="232.25" y="533.02" font-size="5.6" text-anchor="end" font-weight="normal" stroke="#111" stroke-width="0.42">0.1</text>
<line x1="235.45" y1="486.1" x2="237.15" y2="486.1" stroke="#111" stroke-width="0.8"/>
<line x1="235.45" y1="501.07" x2="237.15" y2="501.07" stroke="#111" stroke-width="0.8"/>
<line x1="235.45" y1="516.03" x2="237.15" y2="516.03" stroke="#111" stroke-width="0.8"/>
<line x1="235.45" y1="531" x2="237.15" y2="531" stroke="#111" stroke-width="0.8"/>
<line x1="235.75" y1="496.56" x2="237.15" y2="496.56" stroke="#111" stroke-width="0.7"/>
<line x1="235.75" y1="493.93" x2="237.15" y2="493.93" stroke="#111" stroke-width="0.7"/>
<line x1="235.75" y1="492.06" x2="237.15" y2="492.06" stroke="#111" stroke-width="0.7"/>
<line x1="235.75" y1="490.61" x2="237.15" y2="490.61" stroke="#111" stroke-width="0.7"/>
<line x1="235.75" y1="489.42" x2="237.15" y2="489.42" stroke="#111" stroke-width="0.7"/>
<line x1="235.75" y1="488.42" x2="237.15" y2="488.42" stroke="#111" stroke-width="0.7"/>
<line x1="235.75" y1="487.55" x2="237.15" y2="487.55" stroke="#111" stroke-width="0.7"/>
<line x1="235.75" y1="486.78" x2="237.15" y2="486.78" stroke="#111" stroke-width="0.7"/>
<line x1="235.75" y1="511.53" x2="237.15" y2="511.53" stroke="#111" stroke-width="0.7"/>
<line x1="235.75" y1="508.89" x2="237.15" y2="508.89" stroke="#111" stroke-width="0.7"/>
<line x1="235.75" y1="507.02" x2="237.15" y2="507.02" stroke="#111" stroke-width="0.7"/>
<line x1="235.75" y1="505.57" x2="237.15" y2="505.57" stroke="#111" stroke-width="0.7"/>
<line x1="235.75" y1="504.39" x2="237.15" y2="504.39" stroke="#111" stroke-width="0.7"/>
<line x1="235.75" y1="503.39" x2="237.15" y2="503.39" stroke="#111" stroke-width="0.7"/>
<line x1="235.75" y1="502.52" x2="237.15" y2="502.52" stroke="#111" stroke-width="0.7"/>
<line x1="235.75" y1="501.75" x2="237.15" y2="501.75" stroke="#111" stroke-width="0.7"/>
<line x1="235.75" y1="526.49" x2="237.15" y2="526.49" stroke="#111" stroke-width="0.7"/>
<line x1="235.75" y1="523.86" x2="237.15" y2="523.86" stroke="#111" stroke-width="0.7"/>
<line x1="235.75" y1="521.99" x2="237.15" y2="521.99" stroke="#111" stroke-width="0.7"/>
<line x1="235.75" y1="520.54" x2="237.15" y2="520.54" stroke="#111" stroke-width="0.7"/>
<line x1="235.75" y1="519.35" x2="237.15" y2="519.35" stroke="#111" stroke-width="0.7"/>
<line x1="235.75" y1="518.35" x2="237.15" y2="518.35" stroke="#111" stroke-width="0.7"/>
<line x1="235.75" y1="517.48" x2="237.15" y2="517.48" stroke="#111" stroke-width="0.7"/>
<line x1="235.75" y1="516.72" x2="237.15" y2="516.72" stroke="#111" stroke-width="0.7"/>
<text x="232.49" y="541.27" font-size="5.6" text-anchor="end" font-weight="normal" stroke="#111" stroke-width="0.42">30</text>
<text x="232.49" y="557.95" font-size="5.6" text-anchor="end" font-weight="normal" stroke="#111" stroke-width="0.42">20</text>
<text x="232.49" y="574.63" font-size="5.6" text-anchor="end" font-weight="normal" stroke="#111" stroke-width="0.42">10</text>
<text x="232.49" y="591.32" font-size="5.6" text-anchor="end" font-weight="normal" stroke="#111" stroke-width="0.42">0</text>
<line x1="235.69" y1="539.25" x2="237.39" y2="539.25" stroke="#111" stroke-width="0.8"/>
<line x1="235.69" y1="555.93" x2="237.39" y2="555.93" stroke="#111" stroke-width="0.8"/>
<line x1="235.69" y1="572.62" x2="237.39" y2="572.62" stroke="#111" stroke-width="0.8"/>
<line x1="235.69" y1="589.3" x2="237.39" y2="589.3" stroke="#111" stroke-width="0.8"/>
<text x="237.5" y="598.02" font-size="5.6" text-anchor="middle" font-weight="normal" stroke="#111" stroke-width="0.42">0</text>
<text x="249.87" y="598.02" font-size="5.6" text-anchor="middle" font-weight="normal" stroke="#111" stroke-width="0.42">25</text>
<text x="262.23" y="598.02" font-size="5.6" text-anchor="middle" font-weight="normal" stroke="#111" stroke-width="0.42">50</text>
<text x="274.6" y="598.02" font-size="5.6" text-anchor="middle" font-weight="normal" stroke="#111" stroke-width="0.42">75</text>
<text x="286.97" y="598.02" font-size="5.6" text-anchor="middle" font-weight="normal" stroke="#111" stroke-width="0.42">100</text>
<text x="299.33" y="598.02" font-size="5.6" text-anchor="middle" font-weight="normal" stroke="#111" stroke-width="0.42">125</text>
<text x="311.7" y="598.02" font-size="5.6" text-anchor="middle" font-weight="normal" stroke="#111" stroke-width="0.42">150</text>
<polyline points="240.9,446.25 250.4,440.5 260.4,448.75 272.9,436.25 282.9,429.5 293.4,435.5" fill="none" stroke="#111" stroke-width="0.95" stroke-linejoin="round"/>
<path d="M240.9 454.5L250.4 457.5M250.4 457.5L260.4 462.5M260.4 462.5L272.9 458.75M272.9 458.75L282.9 464.25M282.9 464.25L293.4 470.75" fill="none" stroke="#111" stroke-width="1.2" stroke-dasharray="4.5,2.2"/>
<polyline points="240.9,445.75 250.4,452.5 260.4,448.75 272.9,438 282.9,430.5 293.4,450.5" fill="none" stroke="#111" stroke-width="1.3" stroke-linejoin="round"/>
<rect x="239.1" y="452.7" width="3.6" height="3.6" fill="#111"/>
<rect x="248.6" y="455.7" width="3.6" height="3.6" fill="#111"/>
<rect x="258.6" y="460.7" width="3.6" height="3.6" fill="#111"/>
<rect x="271.1" y="456.95" width="3.6" height="3.6" fill="#111"/>
<rect x="281.1" y="462.45" width="3.6" height="3.6" fill="#111"/>
<rect x="291.6" y="468.95" width="3.6" height="3.6" fill="#111"/>
<polygon points="240.9,443.05 243.6,445.75 240.9,448.45 238.2,445.75" fill="#111"/>
<polygon points="250.4,449.8 253.1,452.5 250.4,455.2 247.7,452.5" fill="#111"/>
<polygon points="260.4,446.05 263.1,448.75 260.4,451.45 257.7,448.75" fill="#111"/>
<polygon points="272.9,435.3 275.6,438 272.9,440.7 270.2,438" fill="#111"/>
<polygon points="282.9,427.8 285.6,430.5 282.9,433.2 280.2,430.5" fill="#111"/>
<polygon points="293.4,447.8 296.1,450.5 293.4,453.2 290.7,450.5" fill="#111"/>
<polyline points="251.15,495.75 273.4,491.25 283.4,489 293.65,490" fill="none" stroke="#111" stroke-width="1.3" stroke-linejoin="round"/>
<path d="M251.15 505.5L273.4 505M273.4 505L283.4 503M283.4 503L293.65 501.25" fill="none" stroke="#111" stroke-width="1.1" stroke-dasharray="4.5,2.2"/>
<circle cx="251.15" cy="495.75" r="2.2" fill="#111"/>
<circle cx="273.4" cy="491.25" r="2.2" fill="#111"/>
<circle cx="283.4" cy="489" r="2.2" fill="#111"/>
<circle cx="293.65" cy="490" r="2.2" fill="#111"/>
<circle cx="251.15" cy="505.5" r="1.75" fill="#fff" stroke="#111" stroke-width="0.9"/>
<circle cx="273.4" cy="505" r="1.75" fill="#fff" stroke="#111" stroke-width="0.9"/>
<circle cx="283.4" cy="503" r="1.75" fill="#fff" stroke="#111" stroke-width="0.9"/>
<circle cx="293.65" cy="501.25" r="1.75" fill="#fff" stroke="#111" stroke-width="0.9"/>
<polyline points="251.65,551.75 273.65,568.75 284.15,568.75 294.4,558.25" fill="none" stroke="#111" stroke-width="1.1" stroke-linejoin="round"/>
<polygon points="251.65,550.05 253.44,553.02 249.87,553.02" fill="#fff" stroke="#111" stroke-width="0.85" stroke-linejoin="miter"/>
<polygon points="273.65,567.05 275.44,570.02 271.86,570.02" fill="#fff" stroke="#111" stroke-width="0.85" stroke-linejoin="miter"/>
<polygon points="284.15,567.05 285.94,570.02 282.36,570.02" fill="#fff" stroke="#111" stroke-width="0.85" stroke-linejoin="miter"/>
<polygon points="294.4,556.55 296.19,559.52 292.61,559.52" fill="#fff" stroke="#111" stroke-width="0.85" stroke-linejoin="miter"/>
<line x1="294.5" y1="473.95" x2="294.5" y2="480.15" stroke="#111" stroke-width="1.2"/>
<polygon points="294.5,474.24 296.6,476.94 294.5,479.14 292.4,476.94" fill="#111"/>
<line x1="294.5" y1="531.7" x2="294.5" y2="537.9" stroke="#111" stroke-width="1.2"/>
<polygon points="294.5,531.99 296.6,534.69 294.5,536.89 292.4,534.69" fill="#111"/>
<line x1="294.5" y1="589.9" x2="294.5" y2="594.9" stroke="#111" stroke-width="1.2"/>
<polygon points="294.5,589.65 296.6,592.35 294.5,594.55 292.4,592.35" fill="#111"/>
<text x="242" y="525" font-size="6.2" text-anchor="start" font-weight="normal" stroke="#111" stroke-width="0.3">B8 FLK</text>
<text transform="translate(369.8,419.6) scale(1,1.09)" font-size="9.6" text-anchor="middle" font-weight="bold" stroke="#111" stroke-width="0.5">232</text>
<line x1="377.5" y1="423.75" x2="377.5" y2="592" stroke="#a8a8a8" stroke-width="1"/>
<line x1="393.9" y1="423.75" x2="393.9" y2="592" stroke="#111" stroke-width="1" stroke-dasharray="1.4,2.1"/>
<rect x="336.71" y="423.75" width="74.1" height="49.5" fill="none" stroke="#111" stroke-width="1.1"/>
<line x1="336.91" y1="473.25" x2="336.91" y2="474.55" stroke="#111" stroke-width="0.7"/>
<line x1="348.45" y1="473.25" x2="348.45" y2="474.55" stroke="#111" stroke-width="0.7"/>
<line x1="359.98" y1="473.25" x2="359.98" y2="474.55" stroke="#111" stroke-width="0.7"/>
<line x1="371.51" y1="473.25" x2="371.51" y2="474.55" stroke="#111" stroke-width="0.7"/>
<line x1="383.05" y1="473.25" x2="383.05" y2="474.55" stroke="#111" stroke-width="0.7"/>
<line x1="394.58" y1="473.25" x2="394.58" y2="474.55" stroke="#111" stroke-width="0.7"/>
<line x1="406.11" y1="473.25" x2="406.11" y2="474.55" stroke="#111" stroke-width="0.7"/>
<rect x="336.95" y="481.25" width="74.1" height="49.25" fill="none" stroke="#111" stroke-width="1.1"/>
<line x1="337.15" y1="530.5" x2="337.15" y2="531.8" stroke="#111" stroke-width="0.7"/>
<line x1="348.69" y1="530.5" x2="348.69" y2="531.8" stroke="#111" stroke-width="0.7"/>
<line x1="360.22" y1="530.5" x2="360.22" y2="531.8" stroke="#111" stroke-width="0.7"/>
<line x1="371.75" y1="530.5" x2="371.75" y2="531.8" stroke="#111" stroke-width="0.7"/>
<line x1="383.29" y1="530.5" x2="383.29" y2="531.8" stroke="#111" stroke-width="0.7"/>
<line x1="394.82" y1="530.5" x2="394.82" y2="531.8" stroke="#111" stroke-width="0.7"/>
<line x1="406.35" y1="530.5" x2="406.35" y2="531.8" stroke="#111" stroke-width="0.7"/>
<rect x="337.2" y="538.75" width="74.1" height="49.75" fill="none" stroke="#111" stroke-width="1.1"/>
<line x1="337.4" y1="588.5" x2="337.4" y2="589.8" stroke="#111" stroke-width="0.7"/>
<line x1="348.93" y1="588.5" x2="348.93" y2="589.8" stroke="#111" stroke-width="0.7"/>
<line x1="360.46" y1="588.5" x2="360.46" y2="589.8" stroke="#111" stroke-width="0.7"/>
<line x1="372" y1="588.5" x2="372" y2="589.8" stroke="#111" stroke-width="0.7"/>
<line x1="383.53" y1="588.5" x2="383.53" y2="589.8" stroke="#111" stroke-width="0.7"/>
<line x1="395.06" y1="588.5" x2="395.06" y2="589.8" stroke="#111" stroke-width="0.7"/>
<line x1="406.6" y1="588.5" x2="406.6" y2="589.8" stroke="#111" stroke-width="0.7"/>
<text x="331.81" y="425.77" font-size="5.6" text-anchor="end" font-weight="normal" stroke="#111" stroke-width="0.42">2000</text>
<text x="331.81" y="438.14" font-size="5.6" text-anchor="end" font-weight="normal" stroke="#111" stroke-width="0.42">1500</text>
<text x="331.81" y="450.52" font-size="5.6" text-anchor="end" font-weight="normal" stroke="#111" stroke-width="0.42">1000</text>
<text x="331.81" y="462.89" font-size="5.6" text-anchor="end" font-weight="normal" stroke="#111" stroke-width="0.42">500</text>
<text x="331.81" y="475.27" font-size="5.6" text-anchor="end" font-weight="normal" stroke="#111" stroke-width="0.42">0</text>
<line x1="335.01" y1="423.75" x2="336.71" y2="423.75" stroke="#111" stroke-width="0.8"/>
<line x1="335.01" y1="436.12" x2="336.71" y2="436.12" stroke="#111" stroke-width="0.8"/>
<line x1="335.01" y1="448.5" x2="336.71" y2="448.5" stroke="#111" stroke-width="0.8"/>
<line x1="335.01" y1="460.88" x2="336.71" y2="460.88" stroke="#111" stroke-width="0.8"/>
<line x1="335.01" y1="473.25" x2="336.71" y2="473.25" stroke="#111" stroke-width="0.8"/>
<line x1="410.81" y1="423.75" x2="413.21" y2="423.75" stroke="#111" stroke-width="0.9"/>
<line x1="410.81" y1="432.4" x2="412.41" y2="432.4" stroke="#111" stroke-width="0.8"/>
<line x1="410.81" y1="430.22" x2="412.41" y2="430.22" stroke="#111" stroke-width="0.8"/>
<line x1="410.81" y1="428.67" x2="412.41" y2="428.67" stroke="#111" stroke-width="0.8"/>
<line x1="410.81" y1="427.48" x2="412.41" y2="427.48" stroke="#111" stroke-width="0.8"/>
<line x1="410.81" y1="426.5" x2="412.41" y2="426.5" stroke="#111" stroke-width="0.8"/>
<line x1="410.81" y1="425.67" x2="412.41" y2="425.67" stroke="#111" stroke-width="0.8"/>
<line x1="410.81" y1="424.95" x2="412.41" y2="424.95" stroke="#111" stroke-width="0.8"/>
<line x1="410.81" y1="424.32" x2="412.41" y2="424.32" stroke="#111" stroke-width="0.8"/>
<line x1="410.81" y1="436.12" x2="413.21" y2="436.12" stroke="#111" stroke-width="0.9"/>
<line x1="410.81" y1="444.77" x2="412.41" y2="444.77" stroke="#111" stroke-width="0.8"/>
<line x1="410.81" y1="442.6" x2="412.41" y2="442.6" stroke="#111" stroke-width="0.8"/>
<line x1="410.81" y1="441.05" x2="412.41" y2="441.05" stroke="#111" stroke-width="0.8"/>
<line x1="410.81" y1="439.85" x2="412.41" y2="439.85" stroke="#111" stroke-width="0.8"/>
<line x1="410.81" y1="438.87" x2="412.41" y2="438.87" stroke="#111" stroke-width="0.8"/>
<line x1="410.81" y1="438.04" x2="412.41" y2="438.04" stroke="#111" stroke-width="0.8"/>
<line x1="410.81" y1="437.32" x2="412.41" y2="437.32" stroke="#111" stroke-width="0.8"/>
<line x1="410.81" y1="436.69" x2="412.41" y2="436.69" stroke="#111" stroke-width="0.8"/>
<line x1="410.81" y1="448.5" x2="413.21" y2="448.5" stroke="#111" stroke-width="0.9"/>
<line x1="410.81" y1="457.15" x2="412.41" y2="457.15" stroke="#111" stroke-width="0.8"/>
<line x1="410.81" y1="454.97" x2="412.41" y2="454.97" stroke="#111" stroke-width="0.8"/>
<line x1="410.81" y1="453.42" x2="412.41" y2="453.42" stroke="#111" stroke-width="0.8"/>
<line x1="410.81" y1="452.23" x2="412.41" y2="452.23" stroke="#111" stroke-width="0.8"/>
<line x1="410.81" y1="451.25" x2="412.41" y2="451.25" stroke="#111" stroke-width="0.8"/>
<line x1="410.81" y1="450.42" x2="412.41" y2="450.42" stroke="#111" stroke-width="0.8"/>
<line x1="410.81" y1="449.7" x2="412.41" y2="449.7" stroke="#111" stroke-width="0.8"/>
<line x1="410.81" y1="449.07" x2="412.41" y2="449.07" stroke="#111" stroke-width="0.8"/>
<line x1="410.81" y1="460.88" x2="413.21" y2="460.88" stroke="#111" stroke-width="0.9"/>
<line x1="410.81" y1="469.52" x2="412.41" y2="469.52" stroke="#111" stroke-width="0.8"/>
<line x1="410.81" y1="467.35" x2="412.41" y2="467.35" stroke="#111" stroke-width="0.8"/>
<line x1="410.81" y1="465.8" x2="412.41" y2="465.8" stroke="#111" stroke-width="0.8"/>
<line x1="410.81" y1="464.6" x2="412.41" y2="464.6" stroke="#111" stroke-width="0.8"/>
<line x1="410.81" y1="463.62" x2="412.41" y2="463.62" stroke="#111" stroke-width="0.8"/>
<line x1="410.81" y1="462.79" x2="412.41" y2="462.79" stroke="#111" stroke-width="0.8"/>
<line x1="410.81" y1="462.07" x2="412.41" y2="462.07" stroke="#111" stroke-width="0.8"/>
<line x1="410.81" y1="461.44" x2="412.41" y2="461.44" stroke="#111" stroke-width="0.8"/>
<line x1="410.81" y1="473.25" x2="413.21" y2="473.25" stroke="#111" stroke-width="0.9"/>
<text x="416.81" y="425.77" font-size="5.6" text-anchor="start" font-weight="normal" stroke="#111" stroke-width="0.42">1000</text>
<text x="416.81" y="438.14" font-size="5.6" text-anchor="start" font-weight="normal" stroke="#111" stroke-width="0.42">100</text>
<text x="416.81" y="450.52" font-size="5.6" text-anchor="start" font-weight="normal" stroke="#111" stroke-width="0.42">10</text>
<text x="416.81" y="462.89" font-size="5.6" text-anchor="start" font-weight="normal" stroke="#111" stroke-width="0.42">1</text>
<text x="416.81" y="475.27" font-size="5.6" text-anchor="start" font-weight="normal" stroke="#111" stroke-width="0.42">0.1</text>
<text x="332.05" y="483.27" font-size="5.6" text-anchor="end" font-weight="normal" stroke="#111" stroke-width="0.42">100</text>
<text x="332.05" y="499.68" font-size="5.6" text-anchor="end" font-weight="normal" stroke="#111" stroke-width="0.42">10</text>
<text x="332.05" y="516.1" font-size="5.6" text-anchor="end" font-weight="normal" stroke="#111" stroke-width="0.42">1</text>
<text x="332.05" y="532.52" font-size="5.6" text-anchor="end" font-weight="normal" stroke="#111" stroke-width="0.42">0.1</text>
<line x1="335.25" y1="481.25" x2="336.95" y2="481.25" stroke="#111" stroke-width="0.8"/>
<line x1="335.25" y1="497.67" x2="336.95" y2="497.67" stroke="#111" stroke-width="0.8"/>
<line x1="335.25" y1="514.08" x2="336.95" y2="514.08" stroke="#111" stroke-width="0.8"/>
<line x1="335.25" y1="530.5" x2="336.95" y2="530.5" stroke="#111" stroke-width="0.8"/>
<line x1="335.55" y1="492.72" x2="336.95" y2="492.72" stroke="#111" stroke-width="0.7"/>
<line x1="335.55" y1="489.83" x2="336.95" y2="489.83" stroke="#111" stroke-width="0.7"/>
<line x1="335.55" y1="487.78" x2="336.95" y2="487.78" stroke="#111" stroke-width="0.7"/>
<line x1="335.55" y1="486.19" x2="336.95" y2="486.19" stroke="#111" stroke-width="0.7"/>
<line x1="335.55" y1="484.89" x2="336.95" y2="484.89" stroke="#111" stroke-width="0.7"/>
<line x1="335.55" y1="483.79" x2="336.95" y2="483.79" stroke="#111" stroke-width="0.7"/>
<line x1="335.55" y1="482.84" x2="336.95" y2="482.84" stroke="#111" stroke-width="0.7"/>
<line x1="335.55" y1="482" x2="336.95" y2="482" stroke="#111" stroke-width="0.7"/>
<line x1="335.55" y1="509.14" x2="336.95" y2="509.14" stroke="#111" stroke-width="0.7"/>
<line x1="335.55" y1="506.25" x2="336.95" y2="506.25" stroke="#111" stroke-width="0.7"/>
<line x1="335.55" y1="504.2" x2="336.95" y2="504.2" stroke="#111" stroke-width="0.7"/>
<line x1="335.55" y1="502.61" x2="336.95" y2="502.61" stroke="#111" stroke-width="0.7"/>
<line x1="335.55" y1="501.31" x2="336.95" y2="501.31" stroke="#111" stroke-width="0.7"/>
<line x1="335.55" y1="500.21" x2="336.95" y2="500.21" stroke="#111" stroke-width="0.7"/>
<line x1="335.55" y1="499.26" x2="336.95" y2="499.26" stroke="#111" stroke-width="0.7"/>
<line x1="335.55" y1="498.42" x2="336.95" y2="498.42" stroke="#111" stroke-width="0.7"/>
<line x1="335.55" y1="525.56" x2="336.95" y2="525.56" stroke="#111" stroke-width="0.7"/>
<line x1="335.55" y1="522.67" x2="336.95" y2="522.67" stroke="#111" stroke-width="0.7"/>
<line x1="335.55" y1="520.62" x2="336.95" y2="520.62" stroke="#111" stroke-width="0.7"/>
<line x1="335.55" y1="519.03" x2="336.95" y2="519.03" stroke="#111" stroke-width="0.7"/>
<line x1="335.55" y1="517.73" x2="336.95" y2="517.73" stroke="#111" stroke-width="0.7"/>
<line x1="335.55" y1="516.63" x2="336.95" y2="516.63" stroke="#111" stroke-width="0.7"/>
<line x1="335.55" y1="515.67" x2="336.95" y2="515.67" stroke="#111" stroke-width="0.7"/>
<line x1="335.55" y1="514.83" x2="336.95" y2="514.83" stroke="#111" stroke-width="0.7"/>
<text x="332.3" y="540.77" font-size="5.6" text-anchor="end" font-weight="normal" stroke="#111" stroke-width="0.42">30</text>
<text x="332.3" y="557.35" font-size="5.6" text-anchor="end" font-weight="normal" stroke="#111" stroke-width="0.42">20</text>
<text x="332.3" y="573.93" font-size="5.6" text-anchor="end" font-weight="normal" stroke="#111" stroke-width="0.42">10</text>
<text x="332.3" y="590.52" font-size="5.6" text-anchor="end" font-weight="normal" stroke="#111" stroke-width="0.42">0</text>
<line x1="335.5" y1="538.75" x2="337.2" y2="538.75" stroke="#111" stroke-width="0.8"/>
<line x1="335.5" y1="555.33" x2="337.2" y2="555.33" stroke="#111" stroke-width="0.8"/>
<line x1="335.5" y1="571.92" x2="337.2" y2="571.92" stroke="#111" stroke-width="0.8"/>
<line x1="335.5" y1="588.5" x2="337.2" y2="588.5" stroke="#111" stroke-width="0.8"/>
<text x="337.5" y="597.02" font-size="5.6" text-anchor="middle" font-weight="normal" stroke="#111" stroke-width="0.42">0</text>
<text x="349.03" y="597.02" font-size="5.6" text-anchor="middle" font-weight="normal" stroke="#111" stroke-width="0.42">25</text>
<text x="360.57" y="597.02" font-size="5.6" text-anchor="middle" font-weight="normal" stroke="#111" stroke-width="0.42">50</text>
<text x="372.1" y="597.02" font-size="5.6" text-anchor="middle" font-weight="normal" stroke="#111" stroke-width="0.42">75</text>
<text x="383.63" y="597.02" font-size="5.6" text-anchor="middle" font-weight="normal" stroke="#111" stroke-width="0.42">100</text>
<text x="395.17" y="597.02" font-size="5.6" text-anchor="middle" font-weight="normal" stroke="#111" stroke-width="0.42">125</text>
<text x="406.7" y="597.02" font-size="5.6" text-anchor="middle" font-weight="normal" stroke="#111" stroke-width="0.42">150</text>
<polyline points="336.9,429 349.7,448.1 362.9,440.5 377,432.3 384.3,440.4 392.2,442.9 394.6,460 400.7,460" fill="none" stroke="#111" stroke-width="0.95" stroke-linejoin="round"/>
<path d="M337.4 464.5L349.9 464.5M349.9 464.5L363.1 464.3M363.1 464.3L365.9 466.25M365.9 466.25L376.65 463.75M376.65 463.75L383.4 466.25M383.4 466.25L390.4 467M390.4 467L393.4 468M393.4 468L396.15 467.5M396.15 467.5L397.9 466.25M397.9 466.25L400.9 468" fill="none" stroke="#111" stroke-width="1.2" stroke-dasharray="4.5,2.2"/>
<polyline points="337.4,450.5 337.4,464.4 349.7,464.4 362.9,454 365.9,453 377,451.4 383.6,450.7 390.2,449.4 392.5,454.3 395.4,447.8 396.7,423.6 398.2,436.3 401,454.3" fill="none" stroke="#111" stroke-width="1.3" stroke-linejoin="round"/>
<rect x="335.6" y="462.7" width="3.6" height="3.6" fill="#111"/>
<rect x="348.1" y="462.7" width="3.6" height="3.6" fill="#111"/>
<rect x="361.3" y="462.5" width="3.6" height="3.6" fill="#111"/>
<rect x="364.1" y="464.45" width="3.6" height="3.6" fill="#111"/>
<rect x="374.85" y="461.95" width="3.6" height="3.6" fill="#111"/>
<rect x="381.6" y="464.45" width="3.6" height="3.6" fill="#111"/>
<rect x="388.6" y="465.2" width="3.6" height="3.6" fill="#111"/>
<rect x="391.6" y="466.2" width="3.6" height="3.6" fill="#111"/>
<rect x="394.35" y="465.7" width="3.6" height="3.6" fill="#111"/>
<rect x="396.1" y="464.45" width="3.6" height="3.6" fill="#111"/>
<rect x="399.1" y="466.2" width="3.6" height="3.6" fill="#111"/>
<polygon points="337.4,447.8 340.1,450.5 337.4,453.2 334.7,450.5" fill="#111"/>
<polygon points="337.4,461.7 340.1,464.4 337.4,467.1 334.7,464.4" fill="#111"/>
<polygon points="349.7,461.7 352.4,464.4 349.7,467.1 347,464.4" fill="#111"/>
<polygon points="362.9,451.3 365.6,454 362.9,456.7 360.2,454" fill="#111"/>
<polygon points="365.9,450.3 368.6,453 365.9,455.7 363.2,453" fill="#111"/>
<polygon points="377,448.7 379.7,451.4 377,454.1 374.3,451.4" fill="#111"/>
<polygon points="383.6,448 386.3,450.7 383.6,453.4 380.9,450.7" fill="#111"/>
<polygon points="390.2,446.7 392.9,449.4 390.2,452.1 387.5,449.4" fill="#111"/>
<polygon points="392.5,451.6 395.2,454.3 392.5,457 389.8,454.3" fill="#111"/>
<polygon points="395.4,445.1 398.1,447.8 395.4,450.5 392.7,447.8" fill="#111"/>
<polygon points="398.2,433.6 400.9,436.3 398.2,439 395.5,436.3" fill="#111"/>
<polygon points="401,451.6 403.7,454.3 401,457 398.3,454.3" fill="#111"/>
<polyline points="337.4,495.4 337.4,497.9 349.9,502.4 362.9,497.4 365.9,494.15 376.65,494.15 383.4,486.65 390.4,485.4 393.4,487.9 396.65,489.4 397.9,494.15 400.9,497.9" fill="none" stroke="#111" stroke-width="1.3" stroke-linejoin="round"/>
<path d="M337.4 508.4L362.9 511.15M362.9 511.15L390.4 505.4M390.4 505.4L396.15 510.4M396.15 510.4L400.9 517.15" fill="none" stroke="#111" stroke-width="1.1" stroke-dasharray="4.5,2.2"/>
<circle cx="337.4" cy="495.4" r="2.2" fill="#111"/>
<circle cx="337.4" cy="497.9" r="2.2" fill="#111"/>
<circle cx="349.9" cy="502.4" r="2.2" fill="#111"/>
<circle cx="362.9" cy="497.4" r="2.2" fill="#111"/>
<circle cx="365.9" cy="494.15" r="2.2" fill="#111"/>
<circle cx="376.65" cy="494.15" r="2.2" fill="#111"/>
<circle cx="383.4" cy="486.65" r="2.2" fill="#111"/>
<circle cx="390.4" cy="485.4" r="2.2" fill="#111"/>
<circle cx="393.4" cy="487.9" r="2.2" fill="#111"/>
<circle cx="396.65" cy="489.4" r="2.2" fill="#111"/>
<circle cx="397.9" cy="494.15" r="2.2" fill="#111"/>
<circle cx="400.9" cy="497.9" r="2.2" fill="#111"/>
<circle cx="337.4" cy="508.4" r="1.75" fill="#fff" stroke="#111" stroke-width="0.9"/>
<circle cx="362.9" cy="511.15" r="1.75" fill="#fff" stroke="#111" stroke-width="0.9"/>
<circle cx="390.4" cy="505.4" r="1.75" fill="#fff" stroke="#111" stroke-width="0.9"/>
<circle cx="396.15" cy="510.4" r="1.75" fill="#fff" stroke="#111" stroke-width="0.9"/>
<circle cx="400.9" cy="517.15" r="1.75" fill="#fff" stroke="#111" stroke-width="0.9"/>
<polyline points="337.9,558.75 363.4,561.5 391.15,575.5 396.65,578.75 401.65,577" fill="none" stroke="#111" stroke-width="1.1" stroke-linejoin="round"/>
<polygon points="337.9,557.05 339.69,560.02 336.11,560.02" fill="#fff" stroke="#111" stroke-width="0.85" stroke-linejoin="miter"/>
<polygon points="363.4,559.8 365.19,562.77 361.61,562.77" fill="#fff" stroke="#111" stroke-width="0.85" stroke-linejoin="miter"/>
<polygon points="391.15,573.8 392.94,576.77 389.36,576.77" fill="#fff" stroke="#111" stroke-width="0.85" stroke-linejoin="miter"/>
<polygon points="396.65,577.05 398.44,580.02 394.86,580.02" fill="#fff" stroke="#111" stroke-width="0.85" stroke-linejoin="miter"/>
<polygon points="401.65,575.3 403.44,578.27 399.86,578.27" fill="#fff" stroke="#111" stroke-width="0.85" stroke-linejoin="miter"/>
<polygon points="342.9,547.6 344.89,550.92 340.9,550.92" fill="#111" stroke="#111" stroke-width="0.3" stroke-linejoin="miter"/>
<polygon points="391.65,568.1 393.64,571.42 389.65,571.42" fill="#111" stroke="#111" stroke-width="0.3" stroke-linejoin="miter"/>
<line x1="395.5" y1="473.95" x2="395.5" y2="480.15" stroke="#111" stroke-width="1.2"/>
<polygon points="395.5,474.24 397.6,476.94 395.5,479.14 393.4,476.94" fill="#111"/>
<line x1="395.5" y1="531.2" x2="395.5" y2="537.4" stroke="#111" stroke-width="1.2"/>
<polygon points="395.5,531.49 397.6,534.19 395.5,536.39 393.4,534.19" fill="#111"/>
<line x1="395.5" y1="589.1" x2="395.5" y2="594.1" stroke="#111" stroke-width="1.2"/>
<polygon points="395.5,588.85 397.6,591.55 395.5,593.75 393.4,591.55" fill="#111"/>
<text x="348.75" y="525.5" font-size="6.2" text-anchor="start" font-weight="normal" stroke="#111" stroke-width="0.3">B8 EIY+FLK</text>
<text transform="translate(70.2,623.5) scale(1,1.09)" font-size="9.6" text-anchor="middle" font-weight="bold" stroke="#111" stroke-width="0.5">656</text>
<line x1="59.9" y1="627.8" x2="59.9" y2="796.9" stroke="#a8a8a8" stroke-width="1"/>
<rect x="35.91" y="627.8" width="74.8" height="49.2" fill="none" stroke="#111" stroke-width="1.1"/>
<line x1="35.91" y1="677" x2="35.91" y2="678.3" stroke="#111" stroke-width="0.7"/>
<line x1="48.46" y1="677" x2="48.46" y2="678.3" stroke="#111" stroke-width="0.7"/>
<line x1="61.01" y1="677" x2="61.01" y2="678.3" stroke="#111" stroke-width="0.7"/>
<line x1="73.56" y1="677" x2="73.56" y2="678.3" stroke="#111" stroke-width="0.7"/>
<line x1="86.11" y1="677" x2="86.11" y2="678.3" stroke="#111" stroke-width="0.7"/>
<line x1="98.66" y1="677" x2="98.66" y2="678.3" stroke="#111" stroke-width="0.7"/>
<line x1="111.21" y1="677" x2="111.21" y2="678.3" stroke="#111" stroke-width="0.7"/>
<rect x="36.15" y="685.75" width="74.8" height="49.5" fill="none" stroke="#111" stroke-width="1.1"/>
<line x1="36.15" y1="735.25" x2="36.15" y2="736.55" stroke="#111" stroke-width="0.7"/>
<line x1="48.7" y1="735.25" x2="48.7" y2="736.55" stroke="#111" stroke-width="0.7"/>
<line x1="61.25" y1="735.25" x2="61.25" y2="736.55" stroke="#111" stroke-width="0.7"/>
<line x1="73.8" y1="735.25" x2="73.8" y2="736.55" stroke="#111" stroke-width="0.7"/>
<line x1="86.35" y1="735.25" x2="86.35" y2="736.55" stroke="#111" stroke-width="0.7"/>
<line x1="98.9" y1="735.25" x2="98.9" y2="736.55" stroke="#111" stroke-width="0.7"/>
<line x1="111.45" y1="735.25" x2="111.45" y2="736.55" stroke="#111" stroke-width="0.7"/>
<rect x="36.4" y="744" width="74.8" height="49.4" fill="none" stroke="#111" stroke-width="1.1"/>
<line x1="36.4" y1="793.4" x2="36.4" y2="794.7" stroke="#111" stroke-width="0.7"/>
<line x1="48.95" y1="793.4" x2="48.95" y2="794.7" stroke="#111" stroke-width="0.7"/>
<line x1="61.5" y1="793.4" x2="61.5" y2="794.7" stroke="#111" stroke-width="0.7"/>
<line x1="74.05" y1="793.4" x2="74.05" y2="794.7" stroke="#111" stroke-width="0.7"/>
<line x1="86.6" y1="793.4" x2="86.6" y2="794.7" stroke="#111" stroke-width="0.7"/>
<line x1="99.15" y1="793.4" x2="99.15" y2="794.7" stroke="#111" stroke-width="0.7"/>
<line x1="111.7" y1="793.4" x2="111.7" y2="794.7" stroke="#111" stroke-width="0.7"/>
<text x="31.01" y="629.82" font-size="5.6" text-anchor="end" font-weight="normal" stroke="#111" stroke-width="0.42">2000</text>
<text x="31.01" y="642.12" font-size="5.6" text-anchor="end" font-weight="normal" stroke="#111" stroke-width="0.42">1500</text>
<text x="31.01" y="654.42" font-size="5.6" text-anchor="end" font-weight="normal" stroke="#111" stroke-width="0.42">1000</text>
<text x="31.01" y="666.72" font-size="5.6" text-anchor="end" font-weight="normal" stroke="#111" stroke-width="0.42">500</text>
<text x="31.01" y="679.02" font-size="5.6" text-anchor="end" font-weight="normal" stroke="#111" stroke-width="0.42">0</text>
<line x1="34.21" y1="627.8" x2="35.91" y2="627.8" stroke="#111" stroke-width="0.8"/>
<line x1="34.21" y1="640.1" x2="35.91" y2="640.1" stroke="#111" stroke-width="0.8"/>
<line x1="34.21" y1="652.4" x2="35.91" y2="652.4" stroke="#111" stroke-width="0.8"/>
<line x1="34.21" y1="664.7" x2="35.91" y2="664.7" stroke="#111" stroke-width="0.8"/>
<line x1="34.21" y1="677" x2="35.91" y2="677" stroke="#111" stroke-width="0.8"/>
<line x1="110.71" y1="627.8" x2="113.11" y2="627.8" stroke="#111" stroke-width="0.9"/>
<line x1="110.71" y1="636.4" x2="112.31" y2="636.4" stroke="#111" stroke-width="0.8"/>
<line x1="110.71" y1="634.23" x2="112.31" y2="634.23" stroke="#111" stroke-width="0.8"/>
<line x1="110.71" y1="632.69" x2="112.31" y2="632.69" stroke="#111" stroke-width="0.8"/>
<line x1="110.71" y1="631.5" x2="112.31" y2="631.5" stroke="#111" stroke-width="0.8"/>
<line x1="110.71" y1="630.53" x2="112.31" y2="630.53" stroke="#111" stroke-width="0.8"/>
<line x1="110.71" y1="629.71" x2="112.31" y2="629.71" stroke="#111" stroke-width="0.8"/>
<line x1="110.71" y1="628.99" x2="112.31" y2="628.99" stroke="#111" stroke-width="0.8"/>
<line x1="110.71" y1="628.36" x2="112.31" y2="628.36" stroke="#111" stroke-width="0.8"/>
<line x1="110.71" y1="640.1" x2="113.11" y2="640.1" stroke="#111" stroke-width="0.9"/>
<line x1="110.71" y1="648.7" x2="112.31" y2="648.7" stroke="#111" stroke-width="0.8"/>
<line x1="110.71" y1="646.53" x2="112.31" y2="646.53" stroke="#111" stroke-width="0.8"/>
<line x1="110.71" y1="644.99" x2="112.31" y2="644.99" stroke="#111" stroke-width="0.8"/>
<line x1="110.71" y1="643.8" x2="112.31" y2="643.8" stroke="#111" stroke-width="0.8"/>
<line x1="110.71" y1="642.83" x2="112.31" y2="642.83" stroke="#111" stroke-width="0.8"/>
<line x1="110.71" y1="642.01" x2="112.31" y2="642.01" stroke="#111" stroke-width="0.8"/>
<line x1="110.71" y1="641.29" x2="112.31" y2="641.29" stroke="#111" stroke-width="0.8"/>
<line x1="110.71" y1="640.66" x2="112.31" y2="640.66" stroke="#111" stroke-width="0.8"/>
<line x1="110.71" y1="652.4" x2="113.11" y2="652.4" stroke="#111" stroke-width="0.9"/>
<line x1="110.71" y1="661" x2="112.31" y2="661" stroke="#111" stroke-width="0.8"/>
<line x1="110.71" y1="658.83" x2="112.31" y2="658.83" stroke="#111" stroke-width="0.8"/>
<line x1="110.71" y1="657.29" x2="112.31" y2="657.29" stroke="#111" stroke-width="0.8"/>
<line x1="110.71" y1="656.1" x2="112.31" y2="656.1" stroke="#111" stroke-width="0.8"/>
<line x1="110.71" y1="655.13" x2="112.31" y2="655.13" stroke="#111" stroke-width="0.8"/>
<line x1="110.71" y1="654.31" x2="112.31" y2="654.31" stroke="#111" stroke-width="0.8"/>
<line x1="110.71" y1="653.59" x2="112.31" y2="653.59" stroke="#111" stroke-width="0.8"/>
<line x1="110.71" y1="652.96" x2="112.31" y2="652.96" stroke="#111" stroke-width="0.8"/>
<line x1="110.71" y1="664.7" x2="113.11" y2="664.7" stroke="#111" stroke-width="0.9"/>
<line x1="110.71" y1="673.3" x2="112.31" y2="673.3" stroke="#111" stroke-width="0.8"/>
<line x1="110.71" y1="671.13" x2="112.31" y2="671.13" stroke="#111" stroke-width="0.8"/>
<line x1="110.71" y1="669.59" x2="112.31" y2="669.59" stroke="#111" stroke-width="0.8"/>
<line x1="110.71" y1="668.4" x2="112.31" y2="668.4" stroke="#111" stroke-width="0.8"/>
<line x1="110.71" y1="667.43" x2="112.31" y2="667.43" stroke="#111" stroke-width="0.8"/>
<line x1="110.71" y1="666.61" x2="112.31" y2="666.61" stroke="#111" stroke-width="0.8"/>
<line x1="110.71" y1="665.89" x2="112.31" y2="665.89" stroke="#111" stroke-width="0.8"/>
<line x1="110.71" y1="665.26" x2="112.31" y2="665.26" stroke="#111" stroke-width="0.8"/>
<line x1="110.71" y1="677" x2="113.11" y2="677" stroke="#111" stroke-width="0.9"/>
<text x="31.25" y="687.77" font-size="5.6" text-anchor="end" font-weight="normal" stroke="#111" stroke-width="0.42">100</text>
<text x="31.25" y="704.27" font-size="5.6" text-anchor="end" font-weight="normal" stroke="#111" stroke-width="0.42">10</text>
<text x="31.25" y="720.77" font-size="5.6" text-anchor="end" font-weight="normal" stroke="#111" stroke-width="0.42">1</text>
<text x="31.25" y="737.27" font-size="5.6" text-anchor="end" font-weight="normal" stroke="#111" stroke-width="0.42">0.1</text>
<line x1="34.45" y1="685.75" x2="36.15" y2="685.75" stroke="#111" stroke-width="0.8"/>
<line x1="34.45" y1="702.25" x2="36.15" y2="702.25" stroke="#111" stroke-width="0.8"/>
<line x1="34.45" y1="718.75" x2="36.15" y2="718.75" stroke="#111" stroke-width="0.8"/>
<line x1="34.45" y1="735.25" x2="36.15" y2="735.25" stroke="#111" stroke-width="0.8"/>
<line x1="34.75" y1="697.28" x2="36.15" y2="697.28" stroke="#111" stroke-width="0.7"/>
<line x1="34.75" y1="694.38" x2="36.15" y2="694.38" stroke="#111" stroke-width="0.7"/>
<line x1="34.75" y1="692.32" x2="36.15" y2="692.32" stroke="#111" stroke-width="0.7"/>
<line x1="34.75" y1="690.72" x2="36.15" y2="690.72" stroke="#111" stroke-width="0.7"/>
<line x1="34.75" y1="689.41" x2="36.15" y2="689.41" stroke="#111" stroke-width="0.7"/>
<line x1="34.75" y1="688.31" x2="36.15" y2="688.31" stroke="#111" stroke-width="0.7"/>
<line x1="34.75" y1="687.35" x2="36.15" y2="687.35" stroke="#111" stroke-width="0.7"/>
<line x1="34.75" y1="686.5" x2="36.15" y2="686.5" stroke="#111" stroke-width="0.7"/>
<line x1="34.75" y1="713.78" x2="36.15" y2="713.78" stroke="#111" stroke-width="0.7"/>
<line x1="34.75" y1="710.88" x2="36.15" y2="710.88" stroke="#111" stroke-width="0.7"/>
<line x1="34.75" y1="708.82" x2="36.15" y2="708.82" stroke="#111" stroke-width="0.7"/>
<line x1="34.75" y1="707.22" x2="36.15" y2="707.22" stroke="#111" stroke-width="0.7"/>
<line x1="34.75" y1="705.91" x2="36.15" y2="705.91" stroke="#111" stroke-width="0.7"/>
<line x1="34.75" y1="704.81" x2="36.15" y2="704.81" stroke="#111" stroke-width="0.7"/>
<line x1="34.75" y1="703.85" x2="36.15" y2="703.85" stroke="#111" stroke-width="0.7"/>
<line x1="34.75" y1="703" x2="36.15" y2="703" stroke="#111" stroke-width="0.7"/>
<line x1="34.75" y1="730.28" x2="36.15" y2="730.28" stroke="#111" stroke-width="0.7"/>
<line x1="34.75" y1="727.38" x2="36.15" y2="727.38" stroke="#111" stroke-width="0.7"/>
<line x1="34.75" y1="725.32" x2="36.15" y2="725.32" stroke="#111" stroke-width="0.7"/>
<line x1="34.75" y1="723.72" x2="36.15" y2="723.72" stroke="#111" stroke-width="0.7"/>
<line x1="34.75" y1="722.41" x2="36.15" y2="722.41" stroke="#111" stroke-width="0.7"/>
<line x1="34.75" y1="721.31" x2="36.15" y2="721.31" stroke="#111" stroke-width="0.7"/>
<line x1="34.75" y1="720.35" x2="36.15" y2="720.35" stroke="#111" stroke-width="0.7"/>
<line x1="34.75" y1="719.5" x2="36.15" y2="719.5" stroke="#111" stroke-width="0.7"/>
<text x="31.5" y="753.9" font-size="5.6" text-anchor="end" font-weight="normal" stroke="#111" stroke-width="0.42">20</text>
<text x="31.5" y="764.28" font-size="5.6" text-anchor="end" font-weight="normal" stroke="#111" stroke-width="0.42">15</text>
<text x="31.5" y="774.66" font-size="5.6" text-anchor="end" font-weight="normal" stroke="#111" stroke-width="0.42">10</text>
<text x="31.5" y="785.04" font-size="5.6" text-anchor="end" font-weight="normal" stroke="#111" stroke-width="0.42">5</text>
<text x="31.5" y="795.42" font-size="5.6" text-anchor="end" font-weight="normal" stroke="#111" stroke-width="0.42">0</text>
<line x1="34.7" y1="751.89" x2="36.4" y2="751.89" stroke="#111" stroke-width="0.8"/>
<line x1="34.7" y1="762.27" x2="36.4" y2="762.27" stroke="#111" stroke-width="0.8"/>
<line x1="34.7" y1="772.64" x2="36.4" y2="772.64" stroke="#111" stroke-width="0.8"/>
<line x1="34.7" y1="783.02" x2="36.4" y2="783.02" stroke="#111" stroke-width="0.8"/>
<line x1="34.7" y1="793.4" x2="36.4" y2="793.4" stroke="#111" stroke-width="0.8"/>
<text x="36.5" y="802.02" font-size="5.6" text-anchor="middle" font-weight="normal" stroke="#111" stroke-width="0.42">0</text>
<text x="49.05" y="802.02" font-size="5.6" text-anchor="middle" font-weight="normal" stroke="#111" stroke-width="0.42">25</text>
<text x="61.6" y="802.02" font-size="5.6" text-anchor="middle" font-weight="normal" stroke="#111" stroke-width="0.42">50</text>
<text x="74.15" y="802.02" font-size="5.6" text-anchor="middle" font-weight="normal" stroke="#111" stroke-width="0.42">75</text>
<text x="86.7" y="802.02" font-size="5.6" text-anchor="middle" font-weight="normal" stroke="#111" stroke-width="0.42">100</text>
<text x="99.25" y="802.02" font-size="5.6" text-anchor="middle" font-weight="normal" stroke="#111" stroke-width="0.42">125</text>
<text x="111.8" y="802.02" font-size="5.6" text-anchor="middle" font-weight="normal" stroke="#111" stroke-width="0.42">150</text>
<polyline points="36.15,644 47.15,647.5 60.4,641.5 71.65,647.5" fill="none" stroke="#111" stroke-width="0.95" stroke-linejoin="round"/>
<path d="M36.15 672L47.15 672M47.15 672L60.4 673.25M60.4 673.25L71.65 674.5" fill="none" stroke="#111" stroke-width="1.2" stroke-dasharray="4.5,2.2"/>
<polyline points="36.15,670 47.15,657 60.4,659.5 71.65,662.5" fill="none" stroke="#111" stroke-width="1.3" stroke-linejoin="round"/>
<rect x="34.35" y="670.2" width="3.6" height="3.6" fill="#111"/>
<rect x="45.35" y="670.2" width="3.6" height="3.6" fill="#111"/>
<rect x="58.6" y="671.45" width="3.6" height="3.6" fill="#111"/>
<rect x="69.85" y="672.7" width="3.6" height="3.6" fill="#111"/>
<polygon points="36.15,667.3 38.85,670 36.15,672.7 33.45,670" fill="#111"/>
<polygon points="47.15,654.3 49.85,657 47.15,659.7 44.45,657" fill="#111"/>
<polygon points="60.4,656.8 63.1,659.5 60.4,662.2 57.7,659.5" fill="#111"/>
<polygon points="71.65,659.8 74.35,662.5 71.65,665.2 68.95,662.5" fill="#111"/>
<polyline points="36.15,700 47.15,702 60.4,703.25 71.65,713.25" fill="none" stroke="#111" stroke-width="1.3" stroke-linejoin="round"/>
<path d="M36.15 718.25L47.15 717.5M47.15 717.5L60.4 720M60.4 720L71.65 728.75" fill="none" stroke="#111" stroke-width="1.1" stroke-dasharray="4.5,2.2"/>
<circle cx="36.15" cy="700" r="2.2" fill="#111"/>
<circle cx="47.15" cy="702" r="2.2" fill="#111"/>
<circle cx="60.4" cy="703.25" r="2.2" fill="#111"/>
<circle cx="71.65" cy="713.25" r="2.2" fill="#111"/>
<circle cx="36.15" cy="718.25" r="1.75" fill="#fff" stroke="#111" stroke-width="0.9"/>
<circle cx="47.15" cy="717.5" r="1.75" fill="#fff" stroke="#111" stroke-width="0.9"/>
<circle cx="60.4" cy="720" r="1.75" fill="#fff" stroke="#111" stroke-width="0.9"/>
<circle cx="71.65" cy="728.75" r="1.75" fill="#fff" stroke="#111" stroke-width="0.9"/>
<polyline points="36.65,777.75 47.4,767.5 60.9,774 72.4,770.25" fill="none" stroke="#111" stroke-width="1.1" stroke-linejoin="round"/>
<polygon points="36.65,776.05 38.43,779.02 34.87,779.02" fill="#fff" stroke="#111" stroke-width="0.85" stroke-linejoin="miter"/>
<polygon points="47.4,765.8 49.18,768.77 45.62,768.77" fill="#fff" stroke="#111" stroke-width="0.85" stroke-linejoin="miter"/>
<polygon points="60.9,772.3 62.68,775.27 59.12,775.27" fill="#fff" stroke="#111" stroke-width="0.85" stroke-linejoin="miter"/>
<polygon points="72.4,768.55 74.19,771.52 70.62,771.52" fill="#fff" stroke="#111" stroke-width="0.85" stroke-linejoin="miter"/>
<line x1="74.5" y1="677.7" x2="74.5" y2="683.9" stroke="#111" stroke-width="1.2"/>
<polygon points="74.5,677.99 76.6,680.69 74.5,682.89 72.4,680.69" fill="#111"/>
<line x1="74.5" y1="735.95" x2="74.5" y2="742.15" stroke="#111" stroke-width="1.2"/>
<polygon points="74.5,736.24 76.6,738.94 74.5,741.14 72.4,738.94" fill="#111"/>
<line x1="74.5" y1="794" x2="74.5" y2="799" stroke="#111" stroke-width="1.2"/>
<polygon points="74.5,793.75 76.6,796.45 74.5,798.65 72.4,796.45" fill="#111"/>
<text x="76.25" y="694.5" font-size="6.2" text-anchor="start" font-weight="normal" stroke="#111" stroke-width="0.3">B8 FLK</text>
<text transform="translate(174.3,623.1) scale(1,1.09)" font-size="9.6" text-anchor="middle" font-weight="bold" stroke="#111" stroke-width="0.5">748</text>
<line x1="156.8" y1="627.5" x2="156.8" y2="796.7" stroke="#a8a8a8" stroke-width="1"/>
<rect x="137.11" y="627.5" width="74.6" height="49.5" fill="none" stroke="#111" stroke-width="1.1"/>
<line x1="137.11" y1="677" x2="137.11" y2="678.3" stroke="#111" stroke-width="0.7"/>
<line x1="149.62" y1="677" x2="149.62" y2="678.3" stroke="#111" stroke-width="0.7"/>
<line x1="162.14" y1="677" x2="162.14" y2="678.3" stroke="#111" stroke-width="0.7"/>
<line x1="174.66" y1="677" x2="174.66" y2="678.3" stroke="#111" stroke-width="0.7"/>
<line x1="187.17" y1="677" x2="187.17" y2="678.3" stroke="#111" stroke-width="0.7"/>
<line x1="199.69" y1="677" x2="199.69" y2="678.3" stroke="#111" stroke-width="0.7"/>
<line x1="212.21" y1="677" x2="212.21" y2="678.3" stroke="#111" stroke-width="0.7"/>
<rect x="137.35" y="685.25" width="74.6" height="49.75" fill="none" stroke="#111" stroke-width="1.1"/>
<line x1="137.35" y1="735" x2="137.35" y2="736.3" stroke="#111" stroke-width="0.7"/>
<line x1="149.87" y1="735" x2="149.87" y2="736.3" stroke="#111" stroke-width="0.7"/>
<line x1="162.38" y1="735" x2="162.38" y2="736.3" stroke="#111" stroke-width="0.7"/>
<line x1="174.9" y1="735" x2="174.9" y2="736.3" stroke="#111" stroke-width="0.7"/>
<line x1="187.42" y1="735" x2="187.42" y2="736.3" stroke="#111" stroke-width="0.7"/>
<line x1="199.93" y1="735" x2="199.93" y2="736.3" stroke="#111" stroke-width="0.7"/>
<line x1="212.45" y1="735" x2="212.45" y2="736.3" stroke="#111" stroke-width="0.7"/>
<rect x="137.59" y="743" width="74.6" height="50.2" fill="none" stroke="#111" stroke-width="1.1"/>
<line x1="137.59" y1="793.2" x2="137.59" y2="794.5" stroke="#111" stroke-width="0.7"/>
<line x1="150.11" y1="793.2" x2="150.11" y2="794.5" stroke="#111" stroke-width="0.7"/>
<line x1="162.63" y1="793.2" x2="162.63" y2="794.5" stroke="#111" stroke-width="0.7"/>
<line x1="175.14" y1="793.2" x2="175.14" y2="794.5" stroke="#111" stroke-width="0.7"/>
<line x1="187.66" y1="793.2" x2="187.66" y2="794.5" stroke="#111" stroke-width="0.7"/>
<line x1="200.18" y1="793.2" x2="200.18" y2="794.5" stroke="#111" stroke-width="0.7"/>
<line x1="212.69" y1="793.2" x2="212.69" y2="794.5" stroke="#111" stroke-width="0.7"/>
<text x="132.21" y="629.52" font-size="5.6" text-anchor="end" font-weight="normal" stroke="#111" stroke-width="0.42">2000</text>
<text x="132.21" y="641.89" font-size="5.6" text-anchor="end" font-weight="normal" stroke="#111" stroke-width="0.42">1500</text>
<text x="132.21" y="654.27" font-size="5.6" text-anchor="end" font-weight="normal" stroke="#111" stroke-width="0.42">1000</text>
<text x="132.21" y="666.64" font-size="5.6" text-anchor="end" font-weight="normal" stroke="#111" stroke-width="0.42">500</text>
<text x="132.21" y="679.02" font-size="5.6" text-anchor="end" font-weight="normal" stroke="#111" stroke-width="0.42">0</text>
<line x1="135.41" y1="627.5" x2="137.11" y2="627.5" stroke="#111" stroke-width="0.8"/>
<line x1="135.41" y1="639.88" x2="137.11" y2="639.88" stroke="#111" stroke-width="0.8"/>
<line x1="135.41" y1="652.25" x2="137.11" y2="652.25" stroke="#111" stroke-width="0.8"/>
<line x1="135.41" y1="664.62" x2="137.11" y2="664.62" stroke="#111" stroke-width="0.8"/>
<line x1="135.41" y1="677" x2="137.11" y2="677" stroke="#111" stroke-width="0.8"/>
<line x1="211.71" y1="627.5" x2="214.11" y2="627.5" stroke="#111" stroke-width="0.9"/>
<line x1="211.71" y1="636.15" x2="213.31" y2="636.15" stroke="#111" stroke-width="0.8"/>
<line x1="211.71" y1="633.97" x2="213.31" y2="633.97" stroke="#111" stroke-width="0.8"/>
<line x1="211.71" y1="632.42" x2="213.31" y2="632.42" stroke="#111" stroke-width="0.8"/>
<line x1="211.71" y1="631.23" x2="213.31" y2="631.23" stroke="#111" stroke-width="0.8"/>
<line x1="211.71" y1="630.25" x2="213.31" y2="630.25" stroke="#111" stroke-width="0.8"/>
<line x1="211.71" y1="629.42" x2="213.31" y2="629.42" stroke="#111" stroke-width="0.8"/>
<line x1="211.71" y1="628.7" x2="213.31" y2="628.7" stroke="#111" stroke-width="0.8"/>
<line x1="211.71" y1="628.07" x2="213.31" y2="628.07" stroke="#111" stroke-width="0.8"/>
<line x1="211.71" y1="639.88" x2="214.11" y2="639.88" stroke="#111" stroke-width="0.9"/>
<line x1="211.71" y1="648.52" x2="213.31" y2="648.52" stroke="#111" stroke-width="0.8"/>
<line x1="211.71" y1="646.35" x2="213.31" y2="646.35" stroke="#111" stroke-width="0.8"/>
<line x1="211.71" y1="644.8" x2="213.31" y2="644.8" stroke="#111" stroke-width="0.8"/>
<line x1="211.71" y1="643.6" x2="213.31" y2="643.6" stroke="#111" stroke-width="0.8"/>
<line x1="211.71" y1="642.62" x2="213.31" y2="642.62" stroke="#111" stroke-width="0.8"/>
<line x1="211.71" y1="641.79" x2="213.31" y2="641.79" stroke="#111" stroke-width="0.8"/>
<line x1="211.71" y1="641.07" x2="213.31" y2="641.07" stroke="#111" stroke-width="0.8"/>
<line x1="211.71" y1="640.44" x2="213.31" y2="640.44" stroke="#111" stroke-width="0.8"/>
<line x1="211.71" y1="652.25" x2="214.11" y2="652.25" stroke="#111" stroke-width="0.9"/>
<line x1="211.71" y1="660.9" x2="213.31" y2="660.9" stroke="#111" stroke-width="0.8"/>
<line x1="211.71" y1="658.72" x2="213.31" y2="658.72" stroke="#111" stroke-width="0.8"/>
<line x1="211.71" y1="657.17" x2="213.31" y2="657.17" stroke="#111" stroke-width="0.8"/>
<line x1="211.71" y1="655.98" x2="213.31" y2="655.98" stroke="#111" stroke-width="0.8"/>
<line x1="211.71" y1="655" x2="213.31" y2="655" stroke="#111" stroke-width="0.8"/>
<line x1="211.71" y1="654.17" x2="213.31" y2="654.17" stroke="#111" stroke-width="0.8"/>
<line x1="211.71" y1="653.45" x2="213.31" y2="653.45" stroke="#111" stroke-width="0.8"/>
<line x1="211.71" y1="652.82" x2="213.31" y2="652.82" stroke="#111" stroke-width="0.8"/>
<line x1="211.71" y1="664.62" x2="214.11" y2="664.62" stroke="#111" stroke-width="0.9"/>
<line x1="211.71" y1="673.27" x2="213.31" y2="673.27" stroke="#111" stroke-width="0.8"/>
<line x1="211.71" y1="671.1" x2="213.31" y2="671.1" stroke="#111" stroke-width="0.8"/>
<line x1="211.71" y1="669.55" x2="213.31" y2="669.55" stroke="#111" stroke-width="0.8"/>
<line x1="211.71" y1="668.35" x2="213.31" y2="668.35" stroke="#111" stroke-width="0.8"/>
<line x1="211.71" y1="667.37" x2="213.31" y2="667.37" stroke="#111" stroke-width="0.8"/>
<line x1="211.71" y1="666.54" x2="213.31" y2="666.54" stroke="#111" stroke-width="0.8"/>
<line x1="211.71" y1="665.82" x2="213.31" y2="665.82" stroke="#111" stroke-width="0.8"/>
<line x1="211.71" y1="665.19" x2="213.31" y2="665.19" stroke="#111" stroke-width="0.8"/>
<line x1="211.71" y1="677" x2="214.11" y2="677" stroke="#111" stroke-width="0.9"/>
<text x="132.45" y="687.27" font-size="5.6" text-anchor="end" font-weight="normal" stroke="#111" stroke-width="0.42">100</text>
<text x="132.45" y="703.85" font-size="5.6" text-anchor="end" font-weight="normal" stroke="#111" stroke-width="0.42">10</text>
<text x="132.45" y="720.43" font-size="5.6" text-anchor="end" font-weight="normal" stroke="#111" stroke-width="0.42">1</text>
<text x="132.45" y="737.02" font-size="5.6" text-anchor="end" font-weight="normal" stroke="#111" stroke-width="0.42">0.1</text>
<line x1="135.65" y1="685.25" x2="137.35" y2="685.25" stroke="#111" stroke-width="0.8"/>
<line x1="135.65" y1="701.83" x2="137.35" y2="701.83" stroke="#111" stroke-width="0.8"/>
<line x1="135.65" y1="718.42" x2="137.35" y2="718.42" stroke="#111" stroke-width="0.8"/>
<line x1="135.65" y1="735" x2="137.35" y2="735" stroke="#111" stroke-width="0.8"/>
<line x1="135.95" y1="696.84" x2="137.35" y2="696.84" stroke="#111" stroke-width="0.7"/>
<line x1="135.95" y1="693.92" x2="137.35" y2="693.92" stroke="#111" stroke-width="0.7"/>
<line x1="135.95" y1="691.85" x2="137.35" y2="691.85" stroke="#111" stroke-width="0.7"/>
<line x1="135.95" y1="690.24" x2="137.35" y2="690.24" stroke="#111" stroke-width="0.7"/>
<line x1="135.95" y1="688.93" x2="137.35" y2="688.93" stroke="#111" stroke-width="0.7"/>
<line x1="135.95" y1="687.82" x2="137.35" y2="687.82" stroke="#111" stroke-width="0.7"/>
<line x1="135.95" y1="686.86" x2="137.35" y2="686.86" stroke="#111" stroke-width="0.7"/>
<line x1="135.95" y1="686.01" x2="137.35" y2="686.01" stroke="#111" stroke-width="0.7"/>
<line x1="135.95" y1="713.42" x2="137.35" y2="713.42" stroke="#111" stroke-width="0.7"/>
<line x1="135.95" y1="710.5" x2="137.35" y2="710.5" stroke="#111" stroke-width="0.7"/>
<line x1="135.95" y1="708.43" x2="137.35" y2="708.43" stroke="#111" stroke-width="0.7"/>
<line x1="135.95" y1="706.83" x2="137.35" y2="706.83" stroke="#111" stroke-width="0.7"/>
<line x1="135.95" y1="705.51" x2="137.35" y2="705.51" stroke="#111" stroke-width="0.7"/>
<line x1="135.95" y1="704.4" x2="137.35" y2="704.4" stroke="#111" stroke-width="0.7"/>
<line x1="135.95" y1="703.44" x2="137.35" y2="703.44" stroke="#111" stroke-width="0.7"/>
<line x1="135.95" y1="702.59" x2="137.35" y2="702.59" stroke="#111" stroke-width="0.7"/>
<line x1="135.95" y1="730.01" x2="137.35" y2="730.01" stroke="#111" stroke-width="0.7"/>
<line x1="135.95" y1="727.09" x2="137.35" y2="727.09" stroke="#111" stroke-width="0.7"/>
<line x1="135.95" y1="725.02" x2="137.35" y2="725.02" stroke="#111" stroke-width="0.7"/>
<line x1="135.95" y1="723.41" x2="137.35" y2="723.41" stroke="#111" stroke-width="0.7"/>
<line x1="135.95" y1="722.1" x2="137.35" y2="722.1" stroke="#111" stroke-width="0.7"/>
<line x1="135.95" y1="720.99" x2="137.35" y2="720.99" stroke="#111" stroke-width="0.7"/>
<line x1="135.95" y1="720.02" x2="137.35" y2="720.02" stroke="#111" stroke-width="0.7"/>
<line x1="135.95" y1="719.18" x2="137.35" y2="719.18" stroke="#111" stroke-width="0.7"/>
<text x="132.69" y="753.03" font-size="5.6" text-anchor="end" font-weight="normal" stroke="#111" stroke-width="0.42">20</text>
<text x="132.69" y="763.58" font-size="5.6" text-anchor="end" font-weight="normal" stroke="#111" stroke-width="0.42">15</text>
<text x="132.69" y="774.12" font-size="5.6" text-anchor="end" font-weight="normal" stroke="#111" stroke-width="0.42">10</text>
<text x="132.69" y="784.67" font-size="5.6" text-anchor="end" font-weight="normal" stroke="#111" stroke-width="0.42">5</text>
<text x="132.69" y="795.22" font-size="5.6" text-anchor="end" font-weight="normal" stroke="#111" stroke-width="0.42">0</text>
<line x1="135.89" y1="751.02" x2="137.59" y2="751.02" stroke="#111" stroke-width="0.8"/>
<line x1="135.89" y1="761.56" x2="137.59" y2="761.56" stroke="#111" stroke-width="0.8"/>
<line x1="135.89" y1="772.11" x2="137.59" y2="772.11" stroke="#111" stroke-width="0.8"/>
<line x1="135.89" y1="782.65" x2="137.59" y2="782.65" stroke="#111" stroke-width="0.8"/>
<line x1="135.89" y1="793.2" x2="137.59" y2="793.2" stroke="#111" stroke-width="0.8"/>
<text x="137.7" y="801.52" font-size="5.6" text-anchor="middle" font-weight="normal" stroke="#111" stroke-width="0.42">0</text>
<text x="150.22" y="801.52" font-size="5.6" text-anchor="middle" font-weight="normal" stroke="#111" stroke-width="0.42">25</text>
<text x="162.73" y="801.52" font-size="5.6" text-anchor="middle" font-weight="normal" stroke="#111" stroke-width="0.42">50</text>
<text x="175.25" y="801.52" font-size="5.6" text-anchor="middle" font-weight="normal" stroke="#111" stroke-width="0.42">75</text>
<text x="187.77" y="801.52" font-size="5.6" text-anchor="middle" font-weight="normal" stroke="#111" stroke-width="0.42">100</text>
<text x="200.28" y="801.52" font-size="5.6" text-anchor="middle" font-weight="normal" stroke="#111" stroke-width="0.42">125</text>
<text x="212.8" y="801.52" font-size="5.6" text-anchor="middle" font-weight="normal" stroke="#111" stroke-width="0.42">150</text>
<polyline points="139.65,647.75 149.15,649.5 157.9,646.25 160.4,647.5" fill="none" stroke="#111" stroke-width="0.95" stroke-linejoin="round"/>
<path d="M139.15 662.75L149.65 670.75M149.65 670.75L157.4 670M157.4 670L160.9 672.5M160.9 672.5L164.15 673.25" fill="none" stroke="#111" stroke-width="1.2" stroke-dasharray="4.5,2.2"/>
<polyline points="139.15,662 149.65,658.5 157.9,662 160.4,660.25 163.9,662.75" fill="none" stroke="#111" stroke-width="1.3" stroke-linejoin="round"/>
<rect x="137.35" y="660.95" width="3.6" height="3.6" fill="#111"/>
<rect x="147.85" y="668.95" width="3.6" height="3.6" fill="#111"/>
<rect x="155.6" y="668.2" width="3.6" height="3.6" fill="#111"/>
<rect x="159.1" y="670.7" width="3.6" height="3.6" fill="#111"/>
<rect x="162.35" y="671.45" width="3.6" height="3.6" fill="#111"/>
<polygon points="139.15,659.3 141.85,662 139.15,664.7 136.45,662" fill="#111"/>
<polygon points="149.65,655.8 152.35,658.5 149.65,661.2 146.95,658.5" fill="#111"/>
<polygon points="157.9,659.3 160.6,662 157.9,664.7 155.2,662" fill="#111"/>
<polygon points="160.4,657.55 163.1,660.25 160.4,662.95 157.7,660.25" fill="#111"/>
<polygon points="163.9,660.05 166.6,662.75 163.9,665.45 161.2,662.75" fill="#111"/>
<polyline points="139.15,697.75 149.65,697.75 160.4,699.5 162.9,698.25" fill="none" stroke="#111" stroke-width="1.3" stroke-linejoin="round"/>
<path d="M139.15 712.75L149.65 714M149.65 714L160.9 716.5M160.9 716.5L164.15 708.25" fill="none" stroke="#111" stroke-width="1.1" stroke-dasharray="4.5,2.2"/>
<circle cx="139.15" cy="697.75" r="2.2" fill="#111"/>
<circle cx="149.65" cy="697.75" r="2.2" fill="#111"/>
<circle cx="160.4" cy="699.5" r="2.2" fill="#111"/>
<circle cx="162.9" cy="698.25" r="2.2" fill="#111"/>
<circle cx="139.15" cy="712.75" r="1.75" fill="#fff" stroke="#111" stroke-width="0.9"/>
<circle cx="149.65" cy="714" r="1.75" fill="#fff" stroke="#111" stroke-width="0.9"/>
<circle cx="160.9" cy="716.5" r="1.75" fill="#fff" stroke="#111" stroke-width="0.9"/>
<circle cx="164.15" cy="708.25" r="1.75" fill="#fff" stroke="#111" stroke-width="0.9"/>
<polyline points="139.65,763.25 149.9,772 161.65,772 164.15,747.5" fill="none" stroke="#111" stroke-width="1.1" stroke-linejoin="round"/>
<polygon points="139.65,761.55 141.44,764.52 137.87,764.52" fill="#fff" stroke="#111" stroke-width="0.85" stroke-linejoin="miter"/>
<polygon points="149.9,770.3 151.69,773.27 148.12,773.27" fill="#fff" stroke="#111" stroke-width="0.85" stroke-linejoin="miter"/>
<polygon points="161.65,770.3 163.44,773.27 159.87,773.27" fill="#fff" stroke="#111" stroke-width="0.85" stroke-linejoin="miter"/>
<polygon points="164.15,745.8 165.94,748.77 162.37,748.77" fill="#fff" stroke="#111" stroke-width="0.85" stroke-linejoin="miter"/>
<polygon points="139.65,755.6 141.65,758.92 137.66,758.92" fill="#111" stroke="#111" stroke-width="0.3" stroke-linejoin="miter"/>
<polygon points="161.65,766.35 163.65,769.67 159.66,769.67" fill="#111" stroke="#111" stroke-width="0.3" stroke-linejoin="miter"/>
<line x1="160.5" y1="677.7" x2="160.5" y2="683.9" stroke="#111" stroke-width="1.2"/>
<polygon points="160.5,677.99 162.6,680.69 160.5,682.89 158.4,680.69" fill="#111"/>
<line x1="160.5" y1="735.7" x2="160.5" y2="741.9" stroke="#111" stroke-width="1.2"/>
<polygon points="160.5,735.99 162.6,738.69 160.5,740.89 158.4,738.69" fill="#111"/>
<line x1="160.5" y1="793.8" x2="160.5" y2="798.8" stroke="#111" stroke-width="1.2"/>
<polygon points="160.5,793.55 162.6,796.25 160.5,798.45 158.4,796.25" fill="#111"/>
<text x="169.5" y="694.5" font-size="6.2" text-anchor="start" font-weight="normal" stroke="#111" stroke-width="0.3">B8 EIY+FLK</text>
<text transform="translate(272,623.1) scale(1,1.09)" font-size="9.6" text-anchor="middle" font-weight="bold" stroke="#111" stroke-width="0.5">424</text>
<rect x="238.01" y="627" width="74.2" height="49.5" fill="none" stroke="#111" stroke-width="1.1"/>
<line x1="238.11" y1="676.5" x2="238.11" y2="677.8" stroke="#111" stroke-width="0.7"/>
<line x1="250.54" y1="676.5" x2="250.54" y2="677.8" stroke="#111" stroke-width="0.7"/>
<line x1="262.97" y1="676.5" x2="262.97" y2="677.8" stroke="#111" stroke-width="0.7"/>
<line x1="275.41" y1="676.5" x2="275.41" y2="677.8" stroke="#111" stroke-width="0.7"/>
<line x1="287.84" y1="676.5" x2="287.84" y2="677.8" stroke="#111" stroke-width="0.7"/>
<line x1="300.27" y1="676.5" x2="300.27" y2="677.8" stroke="#111" stroke-width="0.7"/>
<line x1="312.71" y1="676.5" x2="312.71" y2="677.8" stroke="#111" stroke-width="0.7"/>
<rect x="238.25" y="685" width="74.2" height="50" fill="none" stroke="#111" stroke-width="1.1"/>
<line x1="238.35" y1="735" x2="238.35" y2="736.3" stroke="#111" stroke-width="0.7"/>
<line x1="250.79" y1="735" x2="250.79" y2="736.3" stroke="#111" stroke-width="0.7"/>
<line x1="263.22" y1="735" x2="263.22" y2="736.3" stroke="#111" stroke-width="0.7"/>
<line x1="275.65" y1="735" x2="275.65" y2="736.3" stroke="#111" stroke-width="0.7"/>
<line x1="288.09" y1="735" x2="288.09" y2="736.3" stroke="#111" stroke-width="0.7"/>
<line x1="300.52" y1="735" x2="300.52" y2="736.3" stroke="#111" stroke-width="0.7"/>
<line x1="312.95" y1="735" x2="312.95" y2="736.3" stroke="#111" stroke-width="0.7"/>
<rect x="238.5" y="743.25" width="74.2" height="49.55" fill="none" stroke="#111" stroke-width="1.1"/>
<line x1="238.6" y1="792.8" x2="238.6" y2="794.1" stroke="#111" stroke-width="0.7"/>
<line x1="251.03" y1="792.8" x2="251.03" y2="794.1" stroke="#111" stroke-width="0.7"/>
<line x1="263.46" y1="792.8" x2="263.46" y2="794.1" stroke="#111" stroke-width="0.7"/>
<line x1="275.9" y1="792.8" x2="275.9" y2="794.1" stroke="#111" stroke-width="0.7"/>
<line x1="288.33" y1="792.8" x2="288.33" y2="794.1" stroke="#111" stroke-width="0.7"/>
<line x1="300.76" y1="792.8" x2="300.76" y2="794.1" stroke="#111" stroke-width="0.7"/>
<line x1="313.2" y1="792.8" x2="313.2" y2="794.1" stroke="#111" stroke-width="0.7"/>
<text x="233.11" y="629.02" font-size="5.6" text-anchor="end" font-weight="normal" stroke="#111" stroke-width="0.42">2500</text>
<text x="233.11" y="638.92" font-size="5.6" text-anchor="end" font-weight="normal" stroke="#111" stroke-width="0.42">2000</text>
<text x="233.11" y="648.82" font-size="5.6" text-anchor="end" font-weight="normal" stroke="#111" stroke-width="0.42">1500</text>
<text x="233.11" y="658.72" font-size="5.6" text-anchor="end" font-weight="normal" stroke="#111" stroke-width="0.42">1000</text>
<text x="233.11" y="668.62" font-size="5.6" text-anchor="end" font-weight="normal" stroke="#111" stroke-width="0.42">500</text>
<text x="233.11" y="678.52" font-size="5.6" text-anchor="end" font-weight="normal" stroke="#111" stroke-width="0.42">0</text>
<line x1="236.31" y1="627" x2="238.01" y2="627" stroke="#111" stroke-width="0.8"/>
<line x1="236.31" y1="636.9" x2="238.01" y2="636.9" stroke="#111" stroke-width="0.8"/>
<line x1="236.31" y1="646.8" x2="238.01" y2="646.8" stroke="#111" stroke-width="0.8"/>
<line x1="236.31" y1="656.7" x2="238.01" y2="656.7" stroke="#111" stroke-width="0.8"/>
<line x1="236.31" y1="666.6" x2="238.01" y2="666.6" stroke="#111" stroke-width="0.8"/>
<line x1="236.31" y1="676.5" x2="238.01" y2="676.5" stroke="#111" stroke-width="0.8"/>
<line x1="312.21" y1="627" x2="314.61" y2="627" stroke="#111" stroke-width="0.9"/>
<line x1="312.21" y1="635.65" x2="313.81" y2="635.65" stroke="#111" stroke-width="0.8"/>
<line x1="312.21" y1="633.47" x2="313.81" y2="633.47" stroke="#111" stroke-width="0.8"/>
<line x1="312.21" y1="631.92" x2="313.81" y2="631.92" stroke="#111" stroke-width="0.8"/>
<line x1="312.21" y1="630.73" x2="313.81" y2="630.73" stroke="#111" stroke-width="0.8"/>
<line x1="312.21" y1="629.75" x2="313.81" y2="629.75" stroke="#111" stroke-width="0.8"/>
<line x1="312.21" y1="628.92" x2="313.81" y2="628.92" stroke="#111" stroke-width="0.8"/>
<line x1="312.21" y1="628.2" x2="313.81" y2="628.2" stroke="#111" stroke-width="0.8"/>
<line x1="312.21" y1="627.57" x2="313.81" y2="627.57" stroke="#111" stroke-width="0.8"/>
<line x1="312.21" y1="639.38" x2="314.61" y2="639.38" stroke="#111" stroke-width="0.9"/>
<line x1="312.21" y1="648.02" x2="313.81" y2="648.02" stroke="#111" stroke-width="0.8"/>
<line x1="312.21" y1="645.85" x2="313.81" y2="645.85" stroke="#111" stroke-width="0.8"/>
<line x1="312.21" y1="644.3" x2="313.81" y2="644.3" stroke="#111" stroke-width="0.8"/>
<line x1="312.21" y1="643.1" x2="313.81" y2="643.1" stroke="#111" stroke-width="0.8"/>
<line x1="312.21" y1="642.12" x2="313.81" y2="642.12" stroke="#111" stroke-width="0.8"/>
<line x1="312.21" y1="641.29" x2="313.81" y2="641.29" stroke="#111" stroke-width="0.8"/>
<line x1="312.21" y1="640.57" x2="313.81" y2="640.57" stroke="#111" stroke-width="0.8"/>
<line x1="312.21" y1="639.94" x2="313.81" y2="639.94" stroke="#111" stroke-width="0.8"/>
<line x1="312.21" y1="651.75" x2="314.61" y2="651.75" stroke="#111" stroke-width="0.9"/>
<line x1="312.21" y1="660.4" x2="313.81" y2="660.4" stroke="#111" stroke-width="0.8"/>
<line x1="312.21" y1="658.22" x2="313.81" y2="658.22" stroke="#111" stroke-width="0.8"/>
<line x1="312.21" y1="656.67" x2="313.81" y2="656.67" stroke="#111" stroke-width="0.8"/>
<line x1="312.21" y1="655.48" x2="313.81" y2="655.48" stroke="#111" stroke-width="0.8"/>
<line x1="312.21" y1="654.5" x2="313.81" y2="654.5" stroke="#111" stroke-width="0.8"/>
<line x1="312.21" y1="653.67" x2="313.81" y2="653.67" stroke="#111" stroke-width="0.8"/>
<line x1="312.21" y1="652.95" x2="313.81" y2="652.95" stroke="#111" stroke-width="0.8"/>
<line x1="312.21" y1="652.32" x2="313.81" y2="652.32" stroke="#111" stroke-width="0.8"/>
<line x1="312.21" y1="664.12" x2="314.61" y2="664.12" stroke="#111" stroke-width="0.9"/>
<line x1="312.21" y1="672.77" x2="313.81" y2="672.77" stroke="#111" stroke-width="0.8"/>
<line x1="312.21" y1="670.6" x2="313.81" y2="670.6" stroke="#111" stroke-width="0.8"/>
<line x1="312.21" y1="669.05" x2="313.81" y2="669.05" stroke="#111" stroke-width="0.8"/>
<line x1="312.21" y1="667.85" x2="313.81" y2="667.85" stroke="#111" stroke-width="0.8"/>
<line x1="312.21" y1="666.87" x2="313.81" y2="666.87" stroke="#111" stroke-width="0.8"/>
<line x1="312.21" y1="666.04" x2="313.81" y2="666.04" stroke="#111" stroke-width="0.8"/>
<line x1="312.21" y1="665.32" x2="313.81" y2="665.32" stroke="#111" stroke-width="0.8"/>
<line x1="312.21" y1="664.69" x2="313.81" y2="664.69" stroke="#111" stroke-width="0.8"/>
<line x1="312.21" y1="676.5" x2="314.61" y2="676.5" stroke="#111" stroke-width="0.9"/>
<text x="233.35" y="687.02" font-size="5.6" text-anchor="end" font-weight="normal" stroke="#111" stroke-width="0.42">100</text>
<text x="233.35" y="703.68" font-size="5.6" text-anchor="end" font-weight="normal" stroke="#111" stroke-width="0.42">10</text>
<text x="233.35" y="720.35" font-size="5.6" text-anchor="end" font-weight="normal" stroke="#111" stroke-width="0.42">1</text>
<text x="233.35" y="737.02" font-size="5.6" text-anchor="end" font-weight="normal" stroke="#111" stroke-width="0.42">0.1</text>
<line x1="236.55" y1="685" x2="238.25" y2="685" stroke="#111" stroke-width="0.8"/>
<line x1="236.55" y1="701.67" x2="238.25" y2="701.67" stroke="#111" stroke-width="0.8"/>
<line x1="236.55" y1="718.33" x2="238.25" y2="718.33" stroke="#111" stroke-width="0.8"/>
<line x1="236.55" y1="735" x2="238.25" y2="735" stroke="#111" stroke-width="0.8"/>
<line x1="236.85" y1="696.65" x2="238.25" y2="696.65" stroke="#111" stroke-width="0.7"/>
<line x1="236.85" y1="693.71" x2="238.25" y2="693.71" stroke="#111" stroke-width="0.7"/>
<line x1="236.85" y1="691.63" x2="238.25" y2="691.63" stroke="#111" stroke-width="0.7"/>
<line x1="236.85" y1="690.02" x2="238.25" y2="690.02" stroke="#111" stroke-width="0.7"/>
<line x1="236.85" y1="688.7" x2="238.25" y2="688.7" stroke="#111" stroke-width="0.7"/>
<line x1="236.85" y1="687.58" x2="238.25" y2="687.58" stroke="#111" stroke-width="0.7"/>
<line x1="236.85" y1="686.62" x2="238.25" y2="686.62" stroke="#111" stroke-width="0.7"/>
<line x1="236.85" y1="685.76" x2="238.25" y2="685.76" stroke="#111" stroke-width="0.7"/>
<line x1="236.85" y1="713.32" x2="238.25" y2="713.32" stroke="#111" stroke-width="0.7"/>
<line x1="236.85" y1="710.38" x2="238.25" y2="710.38" stroke="#111" stroke-width="0.7"/>
<line x1="236.85" y1="708.3" x2="238.25" y2="708.3" stroke="#111" stroke-width="0.7"/>
<line x1="236.85" y1="706.68" x2="238.25" y2="706.68" stroke="#111" stroke-width="0.7"/>
<line x1="236.85" y1="705.36" x2="238.25" y2="705.36" stroke="#111" stroke-width="0.7"/>
<line x1="236.85" y1="704.25" x2="238.25" y2="704.25" stroke="#111" stroke-width="0.7"/>
<line x1="236.85" y1="703.28" x2="238.25" y2="703.28" stroke="#111" stroke-width="0.7"/>
<line x1="236.85" y1="702.43" x2="238.25" y2="702.43" stroke="#111" stroke-width="0.7"/>
<line x1="236.85" y1="729.98" x2="238.25" y2="729.98" stroke="#111" stroke-width="0.7"/>
<line x1="236.85" y1="727.05" x2="238.25" y2="727.05" stroke="#111" stroke-width="0.7"/>
<line x1="236.85" y1="724.97" x2="238.25" y2="724.97" stroke="#111" stroke-width="0.7"/>
<line x1="236.85" y1="723.35" x2="238.25" y2="723.35" stroke="#111" stroke-width="0.7"/>
<line x1="236.85" y1="722.03" x2="238.25" y2="722.03" stroke="#111" stroke-width="0.7"/>
<line x1="236.85" y1="720.92" x2="238.25" y2="720.92" stroke="#111" stroke-width="0.7"/>
<line x1="236.85" y1="719.95" x2="238.25" y2="719.95" stroke="#111" stroke-width="0.7"/>
<line x1="236.85" y1="719.1" x2="238.25" y2="719.1" stroke="#111" stroke-width="0.7"/>
<text x="233.6" y="753.18" font-size="5.6" text-anchor="end" font-weight="normal" stroke="#111" stroke-width="0.42">20</text>
<text x="233.6" y="763.59" font-size="5.6" text-anchor="end" font-weight="normal" stroke="#111" stroke-width="0.42">15</text>
<text x="233.6" y="774" font-size="5.6" text-anchor="end" font-weight="normal" stroke="#111" stroke-width="0.42">10</text>
<text x="233.6" y="784.41" font-size="5.6" text-anchor="end" font-weight="normal" stroke="#111" stroke-width="0.42">5</text>
<text x="233.6" y="794.82" font-size="5.6" text-anchor="end" font-weight="normal" stroke="#111" stroke-width="0.42">0</text>
<line x1="236.8" y1="751.16" x2="238.5" y2="751.16" stroke="#111" stroke-width="0.8"/>
<line x1="236.8" y1="761.57" x2="238.5" y2="761.57" stroke="#111" stroke-width="0.8"/>
<line x1="236.8" y1="771.98" x2="238.5" y2="771.98" stroke="#111" stroke-width="0.8"/>
<line x1="236.8" y1="782.39" x2="238.5" y2="782.39" stroke="#111" stroke-width="0.8"/>
<line x1="236.8" y1="792.8" x2="238.5" y2="792.8" stroke="#111" stroke-width="0.8"/>
<text x="238.7" y="801.22" font-size="5.6" text-anchor="middle" font-weight="normal" stroke="#111" stroke-width="0.42">0</text>
<text x="251.13" y="801.22" font-size="5.6" text-anchor="middle" font-weight="normal" stroke="#111" stroke-width="0.42">25</text>
<text x="263.57" y="801.22" font-size="5.6" text-anchor="middle" font-weight="normal" stroke="#111" stroke-width="0.42">50</text>
<text x="276" y="801.22" font-size="5.6" text-anchor="middle" font-weight="normal" stroke="#111" stroke-width="0.42">75</text>
<text x="288.43" y="801.22" font-size="5.6" text-anchor="middle" font-weight="normal" stroke="#111" stroke-width="0.42">100</text>
<text x="300.87" y="801.22" font-size="5.6" text-anchor="middle" font-weight="normal" stroke="#111" stroke-width="0.42">125</text>
<text x="313.3" y="801.22" font-size="5.6" text-anchor="middle" font-weight="normal" stroke="#111" stroke-width="0.42">150</text>
<polyline points="238.65,650 255.9,643.25" fill="none" stroke="#111" stroke-width="0.95" stroke-linejoin="round"/>
<path d="M238.65 655.25L255.9 671.5" fill="none" stroke="#111" stroke-width="1.2" stroke-dasharray="4.5,2.2"/>
<polyline points="238.65,632.75 255.9,658.25" fill="none" stroke="#111" stroke-width="1.3" stroke-linejoin="round"/>
<rect x="236.85" y="653.45" width="3.6" height="3.6" fill="#111"/>
<rect x="254.1" y="669.7" width="3.6" height="3.6" fill="#111"/>
<polygon points="238.65,630.05 241.35,632.75 238.65,635.45 235.95,632.75" fill="#111"/>
<polygon points="255.9,655.55 258.6,658.25 255.9,660.95 253.2,658.25" fill="#111"/>
<polyline points="239.15,695.25 255.9,706.5" fill="none" stroke="#111" stroke-width="1.3" stroke-linejoin="round"/>
<path d="M239.15 707.5L255.9 722" fill="none" stroke="#111" stroke-width="1.1" stroke-dasharray="4.5,2.2"/>
<circle cx="239.15" cy="695.25" r="2.2" fill="#111"/>
<circle cx="255.9" cy="706.5" r="2.2" fill="#111"/>
<circle cx="239.15" cy="707.5" r="1.75" fill="#fff" stroke="#111" stroke-width="0.9"/>
<circle cx="255.9" cy="722" r="1.75" fill="#fff" stroke="#111" stroke-width="0.9"/>
<polyline points="239.15,755.75 255.9,770" fill="none" stroke="#111" stroke-width="1.1" stroke-linejoin="round"/>
<polygon points="239.15,754.05 240.94,757.02 237.37,757.02" fill="#fff" stroke="#111" stroke-width="0.85" stroke-linejoin="miter"/>
<polygon points="255.9,768.3 257.69,771.27 254.12,771.27" fill="#fff" stroke="#111" stroke-width="0.85" stroke-linejoin="miter"/>
<line x1="256.5" y1="677.2" x2="256.5" y2="683.4" stroke="#111" stroke-width="1.2"/>
<polygon points="256.5,677.49 258.6,680.19 256.5,682.39 254.4,680.19" fill="#111"/>
<line x1="256.5" y1="735.7" x2="256.5" y2="741.9" stroke="#111" stroke-width="1.2"/>
<polygon points="256.5,735.99 258.6,738.69 256.5,740.89 254.4,738.69" fill="#111"/>
<line x1="256.5" y1="793.4" x2="256.5" y2="798.4" stroke="#111" stroke-width="1.2"/>
<polygon points="256.5,793.15 258.6,795.85 256.5,798.05 254.4,795.85" fill="#111"/>
<text x="278.75" y="695" font-size="6.2" text-anchor="start" font-weight="normal" stroke="#111" stroke-width="0.3">B8 FLK</text>
<text transform="translate(373,621.5) scale(1,1.09)" font-size="9.6" text-anchor="middle" font-weight="bold" stroke="#111" stroke-width="0.5">159</text>
<line x1="357.3" y1="626.25" x2="357.3" y2="795.5" stroke="#a8a8a8" stroke-width="1"/>
<rect x="338.11" y="626.25" width="74.6" height="49.25" fill="none" stroke="#111" stroke-width="1.1"/>
<line x1="338.11" y1="675.5" x2="338.11" y2="676.8" stroke="#111" stroke-width="0.7"/>
<line x1="350.62" y1="675.5" x2="350.62" y2="676.8" stroke="#111" stroke-width="0.7"/>
<line x1="363.14" y1="675.5" x2="363.14" y2="676.8" stroke="#111" stroke-width="0.7"/>
<line x1="375.66" y1="675.5" x2="375.66" y2="676.8" stroke="#111" stroke-width="0.7"/>
<line x1="388.17" y1="675.5" x2="388.17" y2="676.8" stroke="#111" stroke-width="0.7"/>
<line x1="400.69" y1="675.5" x2="400.69" y2="676.8" stroke="#111" stroke-width="0.7"/>
<line x1="413.21" y1="675.5" x2="413.21" y2="676.8" stroke="#111" stroke-width="0.7"/>
<rect x="338.35" y="684.5" width="74.6" height="49.5" fill="none" stroke="#111" stroke-width="1.1"/>
<line x1="338.35" y1="734" x2="338.35" y2="735.3" stroke="#111" stroke-width="0.7"/>
<line x1="350.87" y1="734" x2="350.87" y2="735.3" stroke="#111" stroke-width="0.7"/>
<line x1="363.39" y1="734" x2="363.39" y2="735.3" stroke="#111" stroke-width="0.7"/>
<line x1="375.9" y1="734" x2="375.9" y2="735.3" stroke="#111" stroke-width="0.7"/>
<line x1="388.42" y1="734" x2="388.42" y2="735.3" stroke="#111" stroke-width="0.7"/>
<line x1="400.94" y1="734" x2="400.94" y2="735.3" stroke="#111" stroke-width="0.7"/>
<line x1="413.45" y1="734" x2="413.45" y2="735.3" stroke="#111" stroke-width="0.7"/>
<rect x="338.59" y="742" width="74.6" height="50" fill="none" stroke="#111" stroke-width="1.1"/>
<line x1="338.59" y1="792" x2="338.59" y2="793.3" stroke="#111" stroke-width="0.7"/>
<line x1="351.11" y1="792" x2="351.11" y2="793.3" stroke="#111" stroke-width="0.7"/>
<line x1="363.63" y1="792" x2="363.63" y2="793.3" stroke="#111" stroke-width="0.7"/>
<line x1="376.14" y1="792" x2="376.14" y2="793.3" stroke="#111" stroke-width="0.7"/>
<line x1="388.66" y1="792" x2="388.66" y2="793.3" stroke="#111" stroke-width="0.7"/>
<line x1="401.18" y1="792" x2="401.18" y2="793.3" stroke="#111" stroke-width="0.7"/>
<line x1="413.69" y1="792" x2="413.69" y2="793.3" stroke="#111" stroke-width="0.7"/>
<text x="333.21" y="628.27" font-size="5.6" text-anchor="end" font-weight="normal" stroke="#111" stroke-width="0.42">2000</text>
<text x="333.21" y="640.58" font-size="5.6" text-anchor="end" font-weight="normal" stroke="#111" stroke-width="0.42">1500</text>
<text x="333.21" y="652.89" font-size="5.6" text-anchor="end" font-weight="normal" stroke="#111" stroke-width="0.42">1000</text>
<text x="333.21" y="665.2" font-size="5.6" text-anchor="end" font-weight="normal" stroke="#111" stroke-width="0.42">500</text>
<text x="333.21" y="677.52" font-size="5.6" text-anchor="end" font-weight="normal" stroke="#111" stroke-width="0.42">0</text>
<line x1="336.41" y1="626.25" x2="338.11" y2="626.25" stroke="#111" stroke-width="0.8"/>
<line x1="336.41" y1="638.56" x2="338.11" y2="638.56" stroke="#111" stroke-width="0.8"/>
<line x1="336.41" y1="650.88" x2="338.11" y2="650.88" stroke="#111" stroke-width="0.8"/>
<line x1="336.41" y1="663.19" x2="338.11" y2="663.19" stroke="#111" stroke-width="0.8"/>
<line x1="336.41" y1="675.5" x2="338.11" y2="675.5" stroke="#111" stroke-width="0.8"/>
<line x1="412.71" y1="626.25" x2="415.11" y2="626.25" stroke="#111" stroke-width="0.9"/>
<line x1="412.71" y1="634.86" x2="414.31" y2="634.86" stroke="#111" stroke-width="0.8"/>
<line x1="412.71" y1="632.69" x2="414.31" y2="632.69" stroke="#111" stroke-width="0.8"/>
<line x1="412.71" y1="631.15" x2="414.31" y2="631.15" stroke="#111" stroke-width="0.8"/>
<line x1="412.71" y1="629.96" x2="414.31" y2="629.96" stroke="#111" stroke-width="0.8"/>
<line x1="412.71" y1="628.98" x2="414.31" y2="628.98" stroke="#111" stroke-width="0.8"/>
<line x1="412.71" y1="628.16" x2="414.31" y2="628.16" stroke="#111" stroke-width="0.8"/>
<line x1="412.71" y1="627.44" x2="414.31" y2="627.44" stroke="#111" stroke-width="0.8"/>
<line x1="412.71" y1="626.81" x2="414.31" y2="626.81" stroke="#111" stroke-width="0.8"/>
<line x1="412.71" y1="638.56" x2="415.11" y2="638.56" stroke="#111" stroke-width="0.9"/>
<line x1="412.71" y1="647.17" x2="414.31" y2="647.17" stroke="#111" stroke-width="0.8"/>
<line x1="412.71" y1="645" x2="414.31" y2="645" stroke="#111" stroke-width="0.8"/>
<line x1="412.71" y1="643.46" x2="414.31" y2="643.46" stroke="#111" stroke-width="0.8"/>
<line x1="412.71" y1="642.27" x2="414.31" y2="642.27" stroke="#111" stroke-width="0.8"/>
<line x1="412.71" y1="641.29" x2="414.31" y2="641.29" stroke="#111" stroke-width="0.8"/>
<line x1="412.71" y1="640.47" x2="414.31" y2="640.47" stroke="#111" stroke-width="0.8"/>
<line x1="412.71" y1="639.76" x2="414.31" y2="639.76" stroke="#111" stroke-width="0.8"/>
<line x1="412.71" y1="639.13" x2="414.31" y2="639.13" stroke="#111" stroke-width="0.8"/>
<line x1="412.71" y1="650.88" x2="415.11" y2="650.88" stroke="#111" stroke-width="0.9"/>
<line x1="412.71" y1="659.48" x2="414.31" y2="659.48" stroke="#111" stroke-width="0.8"/>
<line x1="412.71" y1="657.31" x2="414.31" y2="657.31" stroke="#111" stroke-width="0.8"/>
<line x1="412.71" y1="655.77" x2="414.31" y2="655.77" stroke="#111" stroke-width="0.8"/>
<line x1="412.71" y1="654.58" x2="414.31" y2="654.58" stroke="#111" stroke-width="0.8"/>
<line x1="412.71" y1="653.61" x2="414.31" y2="653.61" stroke="#111" stroke-width="0.8"/>
<line x1="412.71" y1="652.78" x2="414.31" y2="652.78" stroke="#111" stroke-width="0.8"/>
<line x1="412.71" y1="652.07" x2="414.31" y2="652.07" stroke="#111" stroke-width="0.8"/>
<line x1="412.71" y1="651.44" x2="414.31" y2="651.44" stroke="#111" stroke-width="0.8"/>
<line x1="412.71" y1="663.19" x2="415.11" y2="663.19" stroke="#111" stroke-width="0.9"/>
<line x1="412.71" y1="671.79" x2="414.31" y2="671.79" stroke="#111" stroke-width="0.8"/>
<line x1="412.71" y1="669.63" x2="414.31" y2="669.63" stroke="#111" stroke-width="0.8"/>
<line x1="412.71" y1="668.09" x2="414.31" y2="668.09" stroke="#111" stroke-width="0.8"/>
<line x1="412.71" y1="666.89" x2="414.31" y2="666.89" stroke="#111" stroke-width="0.8"/>
<line x1="412.71" y1="665.92" x2="414.31" y2="665.92" stroke="#111" stroke-width="0.8"/>
<line x1="412.71" y1="665.09" x2="414.31" y2="665.09" stroke="#111" stroke-width="0.8"/>
<line x1="412.71" y1="664.38" x2="414.31" y2="664.38" stroke="#111" stroke-width="0.8"/>
<line x1="412.71" y1="663.75" x2="414.31" y2="663.75" stroke="#111" stroke-width="0.8"/>
<line x1="412.71" y1="675.5" x2="415.11" y2="675.5" stroke="#111" stroke-width="0.9"/>
<text x="418.71" y="628.27" font-size="5.6" text-anchor="start" font-weight="normal" stroke="#111" stroke-width="0.42">1000</text>
<text x="418.71" y="640.58" font-size="5.6" text-anchor="start" font-weight="normal" stroke="#111" stroke-width="0.42">100</text>
<text x="418.71" y="652.89" font-size="5.6" text-anchor="start" font-weight="normal" stroke="#111" stroke-width="0.42">10</text>
<text x="418.71" y="665.2" font-size="5.6" text-anchor="start" font-weight="normal" stroke="#111" stroke-width="0.42">1</text>
<text x="418.71" y="677.52" font-size="5.6" text-anchor="start" font-weight="normal" stroke="#111" stroke-width="0.42">0.1</text>
<text x="333.45" y="690.12" font-size="5.6" text-anchor="end" font-weight="normal" stroke="#111" stroke-width="0.42">100</text>
<text x="333.45" y="705.42" font-size="5.6" text-anchor="end" font-weight="normal" stroke="#111" stroke-width="0.42">10</text>
<text x="333.45" y="720.72" font-size="5.6" text-anchor="end" font-weight="normal" stroke="#111" stroke-width="0.42">1</text>
<text x="333.45" y="736.02" font-size="5.6" text-anchor="end" font-weight="normal" stroke="#111" stroke-width="0.42">0.1</text>
<line x1="336.65" y1="688.1" x2="338.35" y2="688.1" stroke="#111" stroke-width="0.8"/>
<line x1="336.65" y1="703.4" x2="338.35" y2="703.4" stroke="#111" stroke-width="0.8"/>
<line x1="336.65" y1="718.7" x2="338.35" y2="718.7" stroke="#111" stroke-width="0.8"/>
<line x1="336.65" y1="734" x2="338.35" y2="734" stroke="#111" stroke-width="0.8"/>
<line x1="336.95" y1="698.79" x2="338.35" y2="698.79" stroke="#111" stroke-width="0.7"/>
<line x1="336.95" y1="696.1" x2="338.35" y2="696.1" stroke="#111" stroke-width="0.7"/>
<line x1="336.95" y1="694.19" x2="338.35" y2="694.19" stroke="#111" stroke-width="0.7"/>
<line x1="336.95" y1="692.71" x2="338.35" y2="692.71" stroke="#111" stroke-width="0.7"/>
<line x1="336.95" y1="691.49" x2="338.35" y2="691.49" stroke="#111" stroke-width="0.7"/>
<line x1="336.95" y1="690.47" x2="338.35" y2="690.47" stroke="#111" stroke-width="0.7"/>
<line x1="336.95" y1="689.58" x2="338.35" y2="689.58" stroke="#111" stroke-width="0.7"/>
<line x1="336.95" y1="688.8" x2="338.35" y2="688.8" stroke="#111" stroke-width="0.7"/>
<line x1="336.95" y1="714.09" x2="338.35" y2="714.09" stroke="#111" stroke-width="0.7"/>
<line x1="336.95" y1="711.4" x2="338.35" y2="711.4" stroke="#111" stroke-width="0.7"/>
<line x1="336.95" y1="709.49" x2="338.35" y2="709.49" stroke="#111" stroke-width="0.7"/>
<line x1="336.95" y1="708.01" x2="338.35" y2="708.01" stroke="#111" stroke-width="0.7"/>
<line x1="336.95" y1="706.79" x2="338.35" y2="706.79" stroke="#111" stroke-width="0.7"/>
<line x1="336.95" y1="705.77" x2="338.35" y2="705.77" stroke="#111" stroke-width="0.7"/>
<line x1="336.95" y1="704.88" x2="338.35" y2="704.88" stroke="#111" stroke-width="0.7"/>
<line x1="336.95" y1="704.1" x2="338.35" y2="704.1" stroke="#111" stroke-width="0.7"/>
<line x1="336.95" y1="729.39" x2="338.35" y2="729.39" stroke="#111" stroke-width="0.7"/>
<line x1="336.95" y1="726.7" x2="338.35" y2="726.7" stroke="#111" stroke-width="0.7"/>
<line x1="336.95" y1="724.79" x2="338.35" y2="724.79" stroke="#111" stroke-width="0.7"/>
<line x1="336.95" y1="723.31" x2="338.35" y2="723.31" stroke="#111" stroke-width="0.7"/>
<line x1="336.95" y1="722.09" x2="338.35" y2="722.09" stroke="#111" stroke-width="0.7"/>
<line x1="336.95" y1="721.07" x2="338.35" y2="721.07" stroke="#111" stroke-width="0.7"/>
<line x1="336.95" y1="720.18" x2="338.35" y2="720.18" stroke="#111" stroke-width="0.7"/>
<line x1="336.95" y1="719.4" x2="338.35" y2="719.4" stroke="#111" stroke-width="0.7"/>
<text x="333.69" y="744.02" font-size="5.6" text-anchor="end" font-weight="normal" stroke="#111" stroke-width="0.42">10</text>
<text x="333.69" y="769.02" font-size="5.6" text-anchor="end" font-weight="normal" stroke="#111" stroke-width="0.42">5</text>
<text x="333.69" y="794.02" font-size="5.6" text-anchor="end" font-weight="normal" stroke="#111" stroke-width="0.42">0</text>
<line x1="336.89" y1="742" x2="338.59" y2="742" stroke="#111" stroke-width="0.8"/>
<line x1="336.89" y1="767" x2="338.59" y2="767" stroke="#111" stroke-width="0.8"/>
<line x1="336.89" y1="792" x2="338.59" y2="792" stroke="#111" stroke-width="0.8"/>
<text x="338.7" y="800.32" font-size="5.6" text-anchor="middle" font-weight="normal" stroke="#111" stroke-width="0.42">0</text>
<text x="351.22" y="800.32" font-size="5.6" text-anchor="middle" font-weight="normal" stroke="#111" stroke-width="0.42">25</text>
<text x="363.73" y="800.32" font-size="5.6" text-anchor="middle" font-weight="normal" stroke="#111" stroke-width="0.42">50</text>
<text x="376.25" y="800.32" font-size="5.6" text-anchor="middle" font-weight="normal" stroke="#111" stroke-width="0.42">75</text>
<text x="388.77" y="800.32" font-size="5.6" text-anchor="middle" font-weight="normal" stroke="#111" stroke-width="0.42">100</text>
<text x="401.28" y="800.32" font-size="5.6" text-anchor="middle" font-weight="normal" stroke="#111" stroke-width="0.42">125</text>
<text x="413.8" y="800.32" font-size="5.6" text-anchor="middle" font-weight="normal" stroke="#111" stroke-width="0.42">150</text>
<polyline points="338.65,628.25 350.4,637 351.65,634.5" fill="none" stroke="#111" stroke-width="0.95" stroke-linejoin="round"/>
<path d="M338.65 663.25L350.4 667M350.4 667L351.65 672M351.65 672L354.65 674M354.65 674L369.65 675.5" fill="none" stroke="#111" stroke-width="1.2" stroke-dasharray="4.5,2.2"/>
<polyline points="338.65,647.75 350.4,647.75 352.15,662 354.65,654 369.65,664.5" fill="none" stroke="#111" stroke-width="1.3" stroke-linejoin="round"/>
<rect x="336.85" y="661.45" width="3.6" height="3.6" fill="#111"/>
<rect x="348.6" y="665.2" width="3.6" height="3.6" fill="#111"/>
<rect x="349.85" y="670.2" width="3.6" height="3.6" fill="#111"/>
<rect x="352.85" y="672.2" width="3.6" height="3.6" fill="#111"/>
<rect x="367.85" y="673.7" width="3.6" height="3.6" fill="#111"/>
<polygon points="338.65,645.05 341.35,647.75 338.65,650.45 335.95,647.75" fill="#111"/>
<polygon points="350.4,645.05 353.1,647.75 350.4,650.45 347.7,647.75" fill="#111"/>
<polygon points="352.15,659.3 354.85,662 352.15,664.7 349.45,662" fill="#111"/>
<polygon points="354.65,651.3 357.35,654 354.65,656.7 351.95,654" fill="#111"/>
<polygon points="369.65,661.8 372.35,664.5 369.65,667.2 366.95,664.5" fill="#111"/>
<polyline points="338.65,687.75 350.4,689 352.15,697.75 354.65,686.25 369.65,699" fill="none" stroke="#111" stroke-width="1.3" stroke-linejoin="round"/>
<path d="M338.65 709.5L350.4 709.5M350.4 709.5L352.15 722M352.15 722L354.65 721.25M354.65 721.25L369.65 723.75" fill="none" stroke="#111" stroke-width="1.1" stroke-dasharray="4.5,2.2"/>
<circle cx="338.65" cy="687.75" r="2.2" fill="#111"/>
<circle cx="350.4" cy="689" r="2.2" fill="#111"/>
<circle cx="352.15" cy="697.75" r="2.2" fill="#111"/>
<circle cx="354.65" cy="686.25" r="2.2" fill="#111"/>
<circle cx="369.65" cy="699" r="2.2" fill="#111"/>
<circle cx="338.65" cy="709.5" r="1.75" fill="#fff" stroke="#111" stroke-width="0.9"/>
<circle cx="350.4" cy="709.5" r="1.75" fill="#fff" stroke="#111" stroke-width="0.9"/>
<circle cx="352.15" cy="722" r="1.75" fill="#fff" stroke="#111" stroke-width="0.9"/>
<circle cx="354.65" cy="721.25" r="1.75" fill="#fff" stroke="#111" stroke-width="0.9"/>
<circle cx="369.65" cy="723.75" r="1.75" fill="#fff" stroke="#111" stroke-width="0.9"/>
<polyline points="338.65,775 351.65,771.25 352.9,782 355.4,789 370.9,779.5" fill="none" stroke="#111" stroke-width="1.1" stroke-linejoin="round"/>
<polygon points="338.65,773.3 340.44,776.27 336.86,776.27" fill="#fff" stroke="#111" stroke-width="0.85" stroke-linejoin="miter"/>
<polygon points="351.65,769.55 353.44,772.52 349.86,772.52" fill="#fff" stroke="#111" stroke-width="0.85" stroke-linejoin="miter"/>
<polygon points="352.9,780.3 354.69,783.27 351.11,783.27" fill="#fff" stroke="#111" stroke-width="0.85" stroke-linejoin="miter"/>
<polygon points="355.4,787.3 357.19,790.27 353.61,790.27" fill="#fff" stroke="#111" stroke-width="0.85" stroke-linejoin="miter"/>
<polygon points="370.9,777.8 372.69,780.77 369.11,780.77" fill="#fff" stroke="#111" stroke-width="0.85" stroke-linejoin="miter"/>
<line x1="357.5" y1="676.2" x2="357.5" y2="682.4" stroke="#111" stroke-width="1.2"/>
<polygon points="357.5,676.49 359.6,679.19 357.5,681.39 355.4,679.19" fill="#111"/>
<line x1="357.5" y1="734.7" x2="357.5" y2="740.9" stroke="#111" stroke-width="1.2"/>
<polygon points="357.5,734.99 359.6,737.69 357.5,739.89 355.4,737.69" fill="#111"/>
<line x1="357.5" y1="792.6" x2="357.5" y2="797.6" stroke="#111" stroke-width="1.2"/>
<polygon points="357.5,792.35 359.6,795.05 357.5,797.25 355.4,795.05" fill="#111"/>
<text x="383.75" y="694" font-size="6.2" text-anchor="start" font-weight="normal" stroke="#111" stroke-width="0.3">B8 EIY</text>
<text transform="translate(5.7,64.9) rotate(-90)" x="0" y="0" font-size="6" text-anchor="middle" stroke="#111" stroke-width="0.42" textLength="48.4" lengthAdjust="spacingAndGlyphs">T cells / &#181;L blood</text>
<text transform="translate(8.6,154.4) rotate(-90)" x="0" y="0" font-size="6" text-anchor="middle" stroke="#111" stroke-width="0.42" textLength="49.2" lengthAdjust="spacingAndGlyphs">% IFN&#947; / tetramer</text>
<text transform="translate(10.8,268) rotate(-90)" x="0" y="0" font-size="6" text-anchor="middle" stroke="#111" stroke-width="0.42" textLength="48" lengthAdjust="spacingAndGlyphs">T cells / &#181;L blood</text>
<text transform="translate(12.3,356.8) rotate(-90)" x="0" y="0" font-size="6" text-anchor="middle" stroke="#111" stroke-width="0.42" textLength="48.4" lengthAdjust="spacingAndGlyphs">% IFN&#947; / tetramer</text>
<text transform="translate(10.4,480.3) rotate(-90)" x="0" y="0" font-size="6" text-anchor="middle" stroke="#111" stroke-width="0.42" textLength="50" lengthAdjust="spacingAndGlyphs">T cells / &#181;L blood</text>
<text transform="translate(11.6,563.2) rotate(-90)" x="0" y="0" font-size="6" text-anchor="middle" stroke="#111" stroke-width="0.42" textLength="51.8" lengthAdjust="spacingAndGlyphs">% IFN&#947; / tetramer</text>
<text transform="translate(12.6,683) rotate(-90)" x="0" y="0" font-size="6" text-anchor="middle" stroke="#111" stroke-width="0.42" textLength="49.8" lengthAdjust="spacingAndGlyphs">T cells / &#181;L blood</text>
<text transform="translate(14.8,765.4) rotate(-90)" x="0" y="0" font-size="6" text-anchor="middle" stroke="#111" stroke-width="0.42" textLength="52.2" lengthAdjust="spacingAndGlyphs">% IFN&#947; / tetramer</text>
<text transform="translate(438.3,39) rotate(-90)" x="0" y="0" font-size="4.9" text-anchor="middle" stroke="#111" stroke-width="0.42" textLength="76" lengthAdjust="spacingAndGlyphs">Viral RNA copies / ul serum</text>
<text transform="translate(441.2,244.5) rotate(-90)" x="0" y="0" font-size="4.9" text-anchor="middle" stroke="#111" stroke-width="0.42" textLength="77" lengthAdjust="spacingAndGlyphs">Viral RNA copies / ul serum</text>
<text transform="translate(434.3,448.6) rotate(-90)" x="0" y="0" font-size="4.9" text-anchor="middle" stroke="#111" stroke-width="0.42" textLength="67.4" lengthAdjust="spacingAndGlyphs">Viral RNA copies/ul serum</text>
<text transform="translate(438.8,651) rotate(-90)" x="0" y="0" font-size="4.9" text-anchor="middle" stroke="#111" stroke-width="0.42" textLength="67.4" lengthAdjust="spacingAndGlyphs">Viral RNA copies /ul serum</text>
<text x="177.7" y="815.2" font-size="6.2" text-anchor="start" font-weight="bold" stroke="#111" stroke-width="0.1" textLength="82.7" lengthAdjust="spacingAndGlyphs">Months after seroconversion</text>
<rect x="455.3" y="15" width="62.7" height="46.6" fill="none" stroke="#111" stroke-width="1"/>
<line x1="462.2" y1="21.1" x2="474.9" y2="21.1" stroke="#111" stroke-width="1.2"/>
<rect x="466.55" y="19.15" width="3.9" height="3.9" fill="#111"/>
<text x="481.8" y="23.8" font-size="7.4" text-anchor="start" font-weight="normal" stroke="#111" stroke-width="0.42" textLength="15.3" lengthAdjust="spacingAndGlyphs">CD4</text>
<line x1="462.2" y1="40.3" x2="474.9" y2="40.3" stroke="#111" stroke-width="1.2"/>
<polygon points="468.3,36.9 471.7,40.3 468.3,43.7 464.9,40.3" fill="#111"/>
<text x="482.3" y="43.4" font-size="7.4" text-anchor="start" font-weight="normal" stroke="#111" stroke-width="0.42" textLength="15.2" lengthAdjust="spacingAndGlyphs">CD8</text>
<line x1="463.1" y1="55.8" x2="474.9" y2="55.8" stroke="#111" stroke-width="1.2"/>
<text x="480.5" y="58.6" font-size="7.4" text-anchor="start" font-weight="normal" stroke="#111" stroke-width="0.42" textLength="31" lengthAdjust="spacingAndGlyphs">Viral load</text>
<rect x="455.3" y="73.7" width="62.1" height="46.6" fill="none" stroke="#111" stroke-width="1"/>
<line x1="458.3" y1="86.7" x2="471" y2="86.7" stroke="#111" stroke-width="1.2"/>
<circle cx="464.6" cy="86.7" r="2.2" fill="#111"/>
<text x="472.3" y="89.4" font-size="7.4" text-anchor="start" font-weight="normal" stroke="#111" stroke-width="0.42" textLength="34.6" lengthAdjust="spacingAndGlyphs">Tetramer+</text>
<line x1="459.2" y1="101.8" x2="462.2" y2="101.8" stroke="#111" stroke-width="1.2"/>
<circle cx="464.2" cy="101.8" r="1.8" fill="#fff" stroke="#111" stroke-width="0.9"/>
<text x="472.9" y="106.4" font-size="7.4" text-anchor="start" font-weight="normal" stroke="#111" stroke-width="0.42" textLength="42.1" lengthAdjust="spacingAndGlyphs">IFN&#947;+ T cells</text>
<rect x="455.3" y="130.6" width="62.7" height="46.6" fill="none" stroke="#111" stroke-width="1"/>
<line x1="459.2" y1="141.7" x2="471.6" y2="141.7" stroke="#111" stroke-width="1.2"/>
<polygon points="465.1,139.6 467.31,143.27 462.9,143.27" fill="#fff" stroke="#111" stroke-width="0.85" stroke-linejoin="miter"/>
<text x="474.2" y="138.8" font-size="7.4" text-anchor="start" font-weight="normal" stroke="#111" stroke-width="0.42" textLength="28.8" lengthAdjust="spacingAndGlyphs">% IFN &#947; /</text>
<text x="480.1" y="148.6" font-size="7.4" text-anchor="start" font-weight="normal" stroke="#111" stroke-width="0.42" textLength="27.5" lengthAdjust="spacingAndGlyphs">tetramer</text>
<polygon points="465.1,164 467.62,168.2 462.58,168.2" fill="#111" stroke="#111" stroke-width="0.3" stroke-linejoin="miter"/>
<text x="475.5" y="164.5" font-size="7.4" text-anchor="start" font-weight="normal" stroke="#111" stroke-width="0.42" textLength="32.7" lengthAdjust="spacingAndGlyphs">Repeated</text>
<text x="475.8" y="173.8" font-size="7.4" text-anchor="start" font-weight="normal" stroke="#111" stroke-width="0.42" textLength="23.2" lengthAdjust="spacingAndGlyphs">sample</text>
<rect x="466.8" y="436.8" width="45.8" height="132.2" fill="none" stroke="#111" stroke-width="1"/>
<line x1="478.5" y1="448.4" x2="478.5" y2="453.8" stroke="#111" stroke-width="1.2"/>
<polygon points="478.5,448.33 480.6,451.03 478.5,453.23 476.4,451.03" fill="#111"/>
<text x="487.8" y="453.1" font-size="7.4" text-anchor="start" font-weight="normal" stroke="#111" stroke-width="0.42" textLength="17.3" lengthAdjust="spacingAndGlyphs">AIDS</text>
<line x1="472.5" y1="485.8" x2="472.5" y2="505.2" stroke="#a8a8a8" stroke-width="1"/>
<text x="474.9" y="492.8" font-size="7.4" text-anchor="start" font-weight="normal" stroke="#111" stroke-width="0.42" textLength="22.6" lengthAdjust="spacingAndGlyphs">AZT or</text>
<text x="474.9" y="500.9" font-size="7.4" text-anchor="start" font-weight="normal" stroke="#111" stroke-width="0.42" textLength="31.8" lengthAdjust="spacingAndGlyphs">AZT+DDI</text>
<line x1="474.5" y1="531.8" x2="474.5" y2="550.6" stroke="#111" stroke-width="1" stroke-dasharray="1.2,1.4"/>
<text x="477.6" y="546.3" font-size="7.4" text-anchor="start" font-weight="normal" stroke="#111" stroke-width="0.42" textLength="25.4" lengthAdjust="spacingAndGlyphs">HAART</text>
</svg></body></html>
